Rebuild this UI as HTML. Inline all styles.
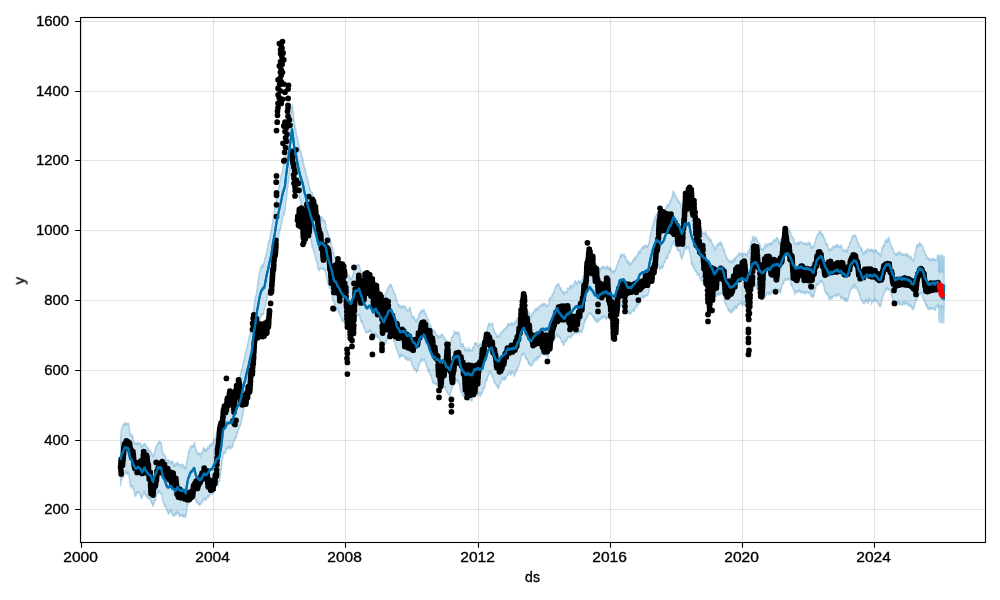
<!DOCTYPE html>
<html lang="en"><head><meta charset="utf-8"><title>Forecast plot</title>
<style>html,body{margin:0;padding:0;background:#fff}body{width:1000px;height:600px;overflow:hidden;font-family:"Liberation Sans",sans-serif}svg{display:block}text{font-family:"Liberation Sans",sans-serif;fill:#000;stroke:#000;stroke-width:0.35px}.tx{opacity:0.999}</style></head><body>
<svg width="1000" height="600" viewBox="0 0 1000 600">
<rect width="1000" height="600" fill="#fff"/>
<g>
<path d="M120.6 436.8 120.8 434.7 121.1 433 121.3 429.6 121.6 429.6 121.8 428.8 122.1 427.8 122.3 427.4 122.6 427.2 122.8 425.8 123.1 425 123.3 424.8 123.6 425.5 123.8 425.7 124.1 423.9 124.3 423 124.6 424 124.8 425.1 125.1 424.1 125.3 422.8 125.6 423.6 125.8 423 126.1 423.7 126.3 424.8 126.6 424.7 126.8 424.1 127.1 424.5 127.3 423.5 127.6 423.4 127.8 423 128.1 423.2 128.3 423.1 128.6 423.3 128.8 424.1 129.1 426.5 129.3 428.7 129.6 431 129.8 434.1 130.1 433.4 130.3 435.1 130.6 434.8 130.8 433.8 131.1 434.4 131.3 435 131.6 436.3 131.8 435.3 132.1 436 132.3 436.4 132.6 435.3 132.8 435.6 133.1 437.8 133.3 439.4 133.6 440.9 133.8 441.6 134.1 442.2 134.3 442.6 134.6 444.2 134.8 443.5 135.1 443.8 135.3 444.1 135.6 442.4 135.8 444 136.1 443 136.3 443 136.6 444.9 136.8 443.3 137.1 442.6 137.3 444 137.6 442.4 137.8 442 138.1 442.6 138.3 442.8 138.6 443 138.8 443 139.1 444.3 139.3 444.9 139.6 445 139.8 444.1 140.1 443.7 140.3 442.6 140.6 444.6 140.8 443.5 141.1 445.6 141.3 447.7 141.6 446.5 141.8 446.3 142.1 446 142.3 446.7 142.6 445.4 142.8 445.2 143.1 444.6 143.3 444.3 143.6 445.3 143.8 443.7 144.1 443.6 144.3 443.5 144.6 444.5 144.8 443.4 145.1 445.1 145.3 445.6 145.6 446.4 145.8 446.4 146.1 445 146.3 445.3 146.6 446.9 146.8 447.3 147.1 447.7 147.3 449.7 147.6 451.3 147.8 450.2 148.1 451.5 148.3 448.8 148.6 447.4 148.8 449.3 149.1 449.5 149.3 450.5 149.6 451.1 149.8 450.9 150.1 451.7 150.3 451.7 150.6 450.4 150.8 451.6 151.1 452.4 151.3 454.6 151.6 453.3 151.8 453.9 152.1 454 152.3 454.6 152.6 456.8 152.8 457 153.1 456.6 153.3 455.9 153.6 455.8 153.8 453.8 154.1 453 154.3 453.8 154.6 453.3 154.8 451.9 155.1 450.4 155.3 449.5 155.6 447.5 155.8 448.4 156.1 448 156.3 447.4 156.6 445.4 156.8 444.6 157.1 445 157.3 444.7 157.6 443.6 157.8 443.6 158.1 443.7 158.3 442.7 158.6 442.3 158.8 441.8 159.1 441.3 159.3 442.8 159.6 443.3 159.8 443.5 160.1 442.3 160.3 441.8 160.6 442.4 160.8 442.4 161.1 442.9 161.3 443 161.6 445.2 161.8 448 162.1 449.9 162.3 451.6 162.6 451.7 162.8 453.1 163.1 453.3 163.3 454.4 163.6 454 163.8 453.9 164.1 454 164.3 455.4 164.6 456.1 164.8 456.6 165.1 455.9 165.3 456.9 165.6 456.2 165.8 458.9 166.1 459.2 166.3 459.9 166.6 460.4 166.8 459.6 167.1 459.6 167.3 461.2 167.6 463.4 167.8 462 168.1 461.5 168.3 461.8 168.6 460.5 168.8 459.7 169.1 460.4 169.3 461.1 169.6 461.1 169.8 462.8 170.1 462.2 170.3 462.3 170.6 463.4 170.8 464.1 171.1 461.4 171.3 461.2 171.6 462.8 171.8 461.5 172.1 461.3 172.3 461.1 172.6 461 172.8 461.3 173.1 462.8 173.3 464.8 173.6 466.3 173.8 465.8 174.1 464 174.3 464.8 174.6 465.2 174.8 466.2 175.1 466.1 175.3 464.2 175.6 465 175.8 463 176.1 463 176.3 463.7 176.6 464 176.8 465 177.1 461.9 177.3 462.5 177.6 463.2 177.8 463 178.1 464 178.3 463.1 178.6 464.3 178.8 465 179.1 464.1 179.3 464.1 179.6 464.6 179.8 464.7 180.1 466.2 180.3 466.1 180.6 467.1 180.8 467.5 181.1 466.6 181.3 465.9 181.6 464.9 181.8 464.4 182.1 464.1 182.3 464.9 182.6 464.3 182.8 464.8 183.1 465.1 183.3 465 183.6 465.3 183.8 467 184.1 468.2 184.3 466.9 184.6 466.8 184.8 466.6 185.1 466.8 185.3 468.6 185.6 469 185.8 468.1 186.1 467.6 186.3 464.6 186.6 462.6 186.8 461.1 187.1 460.5 187.3 458.6 187.6 457.6 187.8 456.8 188.1 455.8 188.3 454.8 188.6 452.8 188.8 450.8 189.1 451.8 189.3 451.5 189.6 449.8 189.8 449 190.1 448.4 190.3 446.6 190.6 447.1 190.8 446.2 191.1 445.9 191.3 446.5 191.6 446.2 191.8 446.5 192.1 446.4 192.3 446 192.6 445.6 192.8 447 193.1 445.8 193.3 446.7 193.6 444.8 193.8 445.2 194.1 444.8 194.3 443.7 194.6 442.2 194.8 445.8 195.1 445.8 195.3 446.4 195.6 448.1 195.8 449.5 196.1 450.9 196.3 451.4 196.6 450.4 196.8 452.1 197.1 451.6 197.3 452.5 197.6 453.4 197.8 454.6 198.1 454.1 198.3 453.9 198.6 454 198.8 452.7 199.1 453.1 199.3 453.2 199.6 453.3 199.8 454.7 200.1 454.8 200.3 456.2 200.6 456.7 200.8 453.7 201.1 453.7 201.3 452.5 201.6 453.1 201.8 452.8 202.1 453.2 202.3 452.7 202.6 452.6 202.8 451.4 203.1 448.6 203.3 448.1 203.6 447.9 203.8 448.1 204.1 447.8 204.3 450.1 204.6 449.7 204.8 450.8 205.1 450 205.3 451.3 205.6 449.5 205.8 450.1 206.1 448.7 206.3 449.5 206.6 451 206.8 448.9 207.1 448.1 207.3 448.5 207.6 448.2 207.8 446.8 208.1 448.1 208.3 447.7 208.6 448.5 208.8 447.8 209.1 446 209.3 445.4 209.6 446.6 209.8 444.6 210.1 444.3 210.3 445 210.6 445.7 210.8 445.8 211.1 443.7 211.3 445.6 211.6 444.6 211.8 444.1 212.1 443.7 212.3 443.2 212.6 442.2 212.8 442.1 213.1 443.4 213.3 441.3 213.6 438.9 213.8 439.9 214.1 440.1 214.3 440.3 214.6 441 214.8 438.9 215.1 438.3 215.3 438 215.6 438.2 215.8 437.9 216.1 435.7 216.3 434 216.6 434.1 216.8 432.8 217.1 434.5 217.3 433.9 217.6 433.6 217.8 432.8 218.1 434.5 218.3 434.2 218.6 433.3 218.8 433.7 219.1 433.2 219.3 433.4 219.6 433 219.8 430.6 220.1 429.2 220.3 427.8 220.6 426.9 220.8 425.2 221.1 423.1 221.3 420.4 221.6 418.6 221.8 415.4 222.1 414.2 222.3 412 222.6 410.2 222.8 407.3 223.1 405.2 223.3 404.3 223.6 405.4 223.8 404.6 224.1 403.9 224.3 401.9 224.6 402.2 224.8 399.1 225.1 401.5 225.3 401.1 225.6 401 225.8 399.4 226.1 398.6 226.3 399.5 226.6 399 226.8 399.1 227.1 399.9 227.3 399.9 227.6 397.5 227.8 397 228.1 396.6 228.3 396.5 228.6 395.3 228.8 394.7 229.1 395.5 229.3 396.1 229.6 397.3 229.8 397.2 230.1 398.7 230.3 396.6 230.6 395.7 230.8 396.7 231.1 396.8 231.3 396.1 231.6 397.3 231.8 398.2 232.1 398.6 232.3 396.7 232.6 395.7 232.8 395 233.1 394.2 233.3 394.2 233.6 392.5 233.8 392.1 234.1 389.1 234.3 389.9 234.6 390.7 234.8 389.3 235.1 389.2 235.3 386.4 235.6 385.7 235.8 383.9 236.1 384.3 236.3 384.6 236.6 382.8 236.8 382.1 237.1 381.7 237.3 384 237.6 382.7 237.8 382 238.1 381.6 238.3 381.1 238.6 380.1 238.8 378.4 239.1 377.8 239.3 379.3 239.6 378.7 239.8 377.5 240.1 375.5 240.3 374.9 240.6 374.1 240.8 372.6 241.1 372.6 241.3 370.8 241.6 369.7 241.8 369.4 242.1 368.3 242.3 367.9 242.6 366 242.8 364.3 243.1 363.6 243.3 362.5 243.6 362.3 243.8 360.9 244.1 359.4 244.3 358.5 244.6 357.8 244.8 355.3 245.1 354.4 245.3 353.3 245.6 353.6 245.8 351.8 246.1 351.8 246.3 349.2 246.6 348.4 246.8 348.5 247.1 347 247.3 346.9 247.6 343.6 247.8 343.2 248.1 342.5 248.3 341.4 248.6 339 248.8 339.2 249.1 336 249.3 336.8 249.6 336.1 249.8 335.8 250.1 334 250.3 331.8 250.6 330.6 250.8 329.4 251.1 329.3 251.3 327.9 251.6 327.2 251.8 326.4 252.1 325.9 252.3 321.1 252.6 318.9 252.8 317.7 253.1 316 253.3 312.9 253.6 310.5 253.8 308.3 254.1 306.5 254.3 304.4 254.6 302.4 254.8 300.1 255.1 298.7 255.3 298.8 255.6 296 255.8 295.5 256.1 295.3 256.4 292.9 256.6 292.8 256.9 289.7 257.1 288.9 257.4 286.4 257.6 283.2 257.9 282.2 258.1 282.4 258.4 279.6 258.6 278.3 258.9 275.6 259.1 273.7 259.4 273.5 259.6 272.3 259.9 271.8 260.1 271.7 260.4 268.9 260.6 267.3 260.9 266.6 261.1 268.1 261.4 266.7 261.6 265.7 261.9 265.8 262.1 267.3 262.4 265.6 262.6 264.8 262.9 264.5 263.1 264.9 263.4 266.3 263.6 263.9 263.9 262.1 264.1 262.2 264.4 261.8 264.6 258.6 264.9 257.8 265.1 258.2 265.4 256.6 265.6 256.1 265.9 255 266.1 254.3 266.4 253.2 266.6 251.9 266.9 251.6 267.1 249.2 267.4 248.1 267.6 247.9 267.9 245.7 268.1 244.2 268.4 242.5 268.6 240.9 268.9 242.2 269.1 241 269.4 241.1 269.6 239.6 269.9 237.7 270.1 235.8 270.4 234.8 270.6 233.4 270.9 233 271.1 230.5 271.4 229.3 271.6 228.1 271.9 226.2 272.1 224.4 272.4 223.5 272.6 222.2 272.9 220.3 273.1 218.6 273.4 216.5 273.6 215.6 273.9 213.8 274.1 210.9 274.4 209.7 274.6 209.3 274.9 208.1 275.1 205.8 275.4 205.4 275.6 204.4 275.9 203.3 276.1 202.8 276.4 200.3 276.6 199.1 276.9 197 277.1 196.4 277.4 195.6 277.6 193.9 277.9 192.6 278.1 189.9 278.4 189.3 278.6 186.9 278.9 188 279.1 187.2 279.4 183.9 279.6 180.5 279.9 181.7 280.1 179.9 280.4 179.7 280.6 177.4 280.9 176.9 281.1 175.4 281.4 175.2 281.6 173.8 281.9 174.1 282.1 171.8 282.4 172 282.6 170.5 282.9 169.6 283.1 166.8 283.4 164.7 283.6 165.6 283.9 163.6 284.1 162.8 284.4 162 284.6 160.6 284.9 160.3 285.1 157.9 285.4 155.5 285.6 155.2 285.9 152.6 286.1 151.6 286.4 150.1 286.6 149.2 286.9 146.8 287.1 142.5 287.4 140.3 287.6 138.4 287.9 138 288.1 136 288.4 133.3 288.6 131.7 288.9 129.3 289.1 127.8 289.4 125.8 289.6 124.6 289.9 122.4 290.1 120.8 290.4 118.2 290.6 116.5 290.9 113.9 291.1 112.2 291.4 110.1 291.6 107.6 291.9 105.2 292.1 104.6 292.4 107.2 292.6 107.1 292.9 111 293.1 110.9 293.4 113.7 293.6 116 293.9 119.1 294.1 121 294.4 122.2 294.6 123.5 294.9 125.7 295.1 128.7 295.4 129.2 295.6 127.9 295.9 129.2 296.1 131.3 296.4 135.7 296.6 135 296.9 135.6 297.1 137.3 297.4 138.5 297.6 138.1 297.9 140.6 298.1 140.4 298.4 141.7 298.6 144.4 298.9 144.1 299.1 145.3 299.4 148.3 299.6 148.7 299.9 148.8 300.1 149.6 300.4 151.6 300.6 150.9 300.9 151.8 301.1 151.9 301.4 152.5 301.6 155.5 301.9 156.3 302.1 156.8 302.4 158.2 302.6 158.3 302.9 158.3 303.1 160.9 303.4 162.7 303.6 162.6 303.9 164.4 304.1 166.6 304.4 167.4 304.6 168.4 304.9 167.8 305.1 169 305.4 168.6 305.6 171.5 305.9 172.5 306.1 174.9 306.4 174.8 306.6 176.7 306.9 176 307.1 177.1 307.4 178.9 307.6 180.1 307.9 180.8 308.1 180.1 308.4 182.8 308.6 184.1 308.9 185.7 309.1 186.9 309.4 186.6 309.6 187.5 309.9 190.5 310.1 189.3 310.4 190.2 310.6 190.2 310.9 192.7 311.1 193.1 311.4 192.6 311.6 193.1 311.9 193.1 312.1 192.7 312.4 192.5 312.6 194.6 312.9 195.8 313.1 198 313.4 198.7 313.6 200.5 313.9 203.3 314.1 202.6 314.4 202.5 314.6 204.9 314.9 207.9 315.1 207 315.4 206.2 315.6 207.5 315.9 208.5 316.1 210.5 316.4 210.4 316.6 211.5 316.9 212.4 317.1 212.3 317.4 212.6 317.6 215 317.9 216.9 318.1 217.1 318.4 219.8 318.6 221.1 318.9 221.8 319.1 222.2 319.4 221.4 319.6 221 319.9 220.7 320.1 219.5 320.4 216.6 320.6 216.8 320.9 216.6 321.1 216.2 321.4 217.7 321.6 216.4 321.9 218.2 322.1 217.8 322.4 217.2 322.6 217.2 322.9 220.2 323.1 221.2 323.4 220.1 323.6 220.9 323.9 222 324.1 220.2 324.4 219.9 324.6 220.8 324.9 220.9 325.1 220.7 325.4 223.3 325.6 224.1 325.9 225.3 326.1 227.9 326.4 228.1 326.6 230.7 326.9 230.5 327.1 230.4 327.4 231.1 327.6 232.6 327.9 233.8 328.1 234.6 328.4 233.6 328.6 233.7 328.9 235 329.1 236.9 329.4 239.1 329.6 237.1 329.9 238.4 330.1 239.2 330.4 240.4 330.6 241.7 330.9 241.8 331.1 241.9 331.4 244.6 331.6 246.3 331.9 246.6 332.1 247.5 332.4 247.9 332.6 247.9 332.9 250.2 333.1 250.8 333.4 251.1 333.6 252.2 333.9 255.3 334.1 256.1 334.4 256.4 334.6 256.5 334.9 257.5 335.1 258.1 335.4 256.7 335.6 257.1 335.9 257.1 336.1 258 336.4 258.5 336.6 257.1 336.9 259.4 337.1 260 337.4 258.7 337.6 260.8 337.9 261.2 338.1 261.9 338.4 262.2 338.6 262.7 338.9 262.6 339.1 261.6 339.4 262.3 339.6 263.7 339.9 264.5 340.1 265.7 340.4 266 340.6 264.3 340.9 266.4 341.1 266.3 341.4 266 341.6 267 341.9 266.8 342.1 268.4 342.4 268.2 342.6 270.8 342.9 270.3 343.1 269.9 343.4 269.6 343.6 268.3 343.9 268.8 344.1 269.3 344.4 270.1 344.6 268.9 344.9 270.4 345.1 272.5 345.4 272.2 345.6 272.5 345.9 273.2 346.1 272.6 346.4 272.7 346.6 274.2 346.9 274.4 347.1 273.3 347.4 272.4 347.6 275.8 347.9 276.1 348.1 274.5 348.4 275.4 348.6 276.5 348.9 276.8 349.1 275.2 349.4 277.9 349.6 278.4 349.9 278.1 350.1 278.8 350.4 278.6 350.6 278.5 350.9 279.7 351.1 277.4 351.4 278.3 351.6 277.8 351.9 277.6 352.1 277.2 352.4 277.3 352.6 276.9 352.9 275.8 353.1 273.7 353.4 273.3 353.6 271.6 353.9 269.9 354.1 269.9 354.4 269.5 354.6 269.7 354.9 266.4 355.1 267 355.4 267.5 355.6 267.2 355.9 268.2 356.1 266.5 356.4 266.6 356.6 265.9 356.9 265.8 357.1 264.7 357.4 264.9 357.6 265.6 357.9 265.4 358.1 265.4 358.4 264.3 358.6 265.8 358.9 264.4 359.1 264.6 359.4 265.9 359.6 266.2 359.9 267.6 360.1 268.2 360.4 270.2 360.6 270.6 360.9 271 361.1 270.5 361.4 271.7 361.6 273.2 361.9 273.8 362.1 273.2 362.4 273.5 362.6 274.2 362.9 275.1 363.1 274.6 363.4 277.6 363.6 277.7 363.9 278.2 364.1 278.3 364.4 279 364.6 281.4 364.9 280.4 365.1 280.6 365.4 280.4 365.6 281.1 365.9 283.6 366.1 283 366.4 282.6 366.6 281 366.9 281.4 367.1 282.1 367.4 281.8 367.6 281.7 367.9 282.6 368.1 282.8 368.4 282.3 368.6 281.4 368.9 280.1 369.1 282.3 369.4 280.5 369.6 281.4 369.9 281.1 370.1 280.7 370.4 282.3 370.6 282 370.9 283.8 371.1 283 371.4 284.1 371.6 285.7 371.9 284.8 372.1 287.2 372.4 287.7 372.6 285.4 372.9 287.6 373.1 289.3 373.4 287.8 373.6 287 373.9 286.9 374.1 284.7 374.4 285.2 374.6 286.1 374.9 285.2 375.1 286 375.4 287.4 375.6 284.2 375.9 282.5 376.1 282.8 376.4 284.5 376.6 285.5 376.9 285 377.1 284.7 377.4 285.2 377.6 287.8 377.9 287 378.1 287.1 378.4 288.8 378.6 288.8 378.9 288.3 379.1 290.5 379.4 290.8 379.6 290.3 379.9 290.5 380.1 292 380.4 291.8 380.6 292.4 380.9 293.5 381.1 294.3 381.4 292.4 381.6 292.7 381.9 293.2 382.1 294.1 382.4 295.3 382.6 296.5 382.9 295.9 383.1 295.1 383.4 296 383.6 296 383.9 298.3 384.1 298 384.4 297 384.6 297 384.9 295.3 385.1 294.3 385.4 293.6 385.6 293.7 385.9 294.1 386.1 293.5 386.4 292.9 386.6 291.4 386.9 290.9 387.1 289.7 387.4 290.1 387.6 288.4 387.9 287.7 388.1 287.4 388.4 287.9 388.6 286.7 388.9 286.4 389.1 285.7 389.4 284.7 389.6 286.3 389.9 286.5 390.1 284.8 390.4 284.2 390.6 285.3 390.9 284.7 391.1 284.2 391.4 286.4 391.6 286.3 391.9 286.5 392.1 287.8 392.4 287.5 392.6 288.2 392.9 289 393.1 290.2 393.4 289.7 393.6 291.3 393.9 291.7 394.1 293.7 394.4 293.8 394.6 293.5 394.9 293.8 395.1 293.7 395.4 295.1 395.6 296.2 395.9 298 396.1 298.7 396.4 298.5 396.6 300.6 396.9 300.7 397.1 301.7 397.4 303.4 397.6 304.4 397.9 303.4 398.1 303.6 398.4 305.2 398.6 306 398.9 306.3 399.1 307 399.4 304.8 399.6 305.6 399.9 305.1 400.1 305.6 400.4 305.9 400.6 306.8 400.9 307.9 401.1 308.1 401.4 307.8 401.6 307 401.9 308 402.1 307.6 402.4 305.5 402.6 305.8 402.9 306.5 403.1 305.5 403.4 306 403.6 307.5 403.9 306.6 404.1 306.4 404.4 306.6 404.6 306 404.9 306.3 405.1 306.1 405.4 306.7 405.6 306.8 405.9 308.5 406.1 308.7 406.4 309.8 406.6 308.6 406.9 309.2 407.1 310.2 407.4 311 407.6 310.4 407.9 310.7 408.1 311 408.4 310.4 408.6 309.9 408.9 310.4 409.1 309 409.4 307.5 409.6 307.8 409.9 308.6 410.1 306.9 410.4 310 410.6 310.9 410.9 312.1 411.1 311.9 411.4 312.8 411.6 315.4 411.9 317.1 412.1 317.2 412.4 316.4 412.6 316.3 412.9 317.7 413.1 316.7 413.4 316.2 413.6 316.8 413.9 318.2 414.1 317.3 414.4 318.3 414.6 319 414.9 319.3 415.1 319.4 415.4 320.6 415.6 321.1 415.9 319.7 416.1 321.8 416.4 322.1 416.6 322.3 416.9 321.9 417.1 321.5 417.4 318.6 417.6 318.7 417.9 319.1 418.1 319.1 418.4 317.5 418.6 314.8 418.9 314.1 419.1 314.1 419.4 315.2 419.6 312.9 419.9 312.7 420.1 313 420.4 313.4 420.6 312.8 420.9 309.9 421.1 311.4 421.4 311.7 421.6 312.1 421.9 310.9 422.1 310.6 422.4 312.1 422.6 311.5 422.9 311.1 423.1 310.1 423.4 311.3 423.6 309.3 423.9 309.1 424.1 310.1 424.4 310.7 424.6 312.2 424.9 312.8 425.1 314.4 425.4 314 425.6 314.1 425.9 314.8 426.1 313.6 426.4 316.1 426.6 315.6 426.9 317.5 427.1 319.1 427.4 319.9 427.6 319.9 427.9 319.5 428.1 318.2 428.4 320.2 428.6 320.9 428.9 323.3 429.1 323.2 429.4 324.2 429.6 324.1 429.9 325.2 430.1 325.3 430.4 325.8 430.6 324.7 430.9 325.5 431.1 326.7 431.4 328.9 431.6 329.4 431.9 328.7 432.1 331 432.4 331.5 432.6 332.7 432.9 331.8 433.1 329.2 433.4 330 433.6 330.2 433.9 331.6 434.1 330.7 434.4 330.9 434.6 330.7 434.9 331.9 435.1 331.7 435.4 333.8 435.6 334.4 435.9 334.9 436.1 334.2 436.4 334.3 436.6 335 436.9 333.9 437.1 335.3 437.4 335 437.6 336.2 437.9 337.9 438.1 338.3 438.4 336.2 438.6 337.3 438.9 336.6 439.1 336.2 439.4 336.3 439.6 335.6 439.9 336.6 440.1 336.2 440.4 337.5 440.6 337.4 440.9 334.6 441.1 334.4 441.4 334.3 441.6 334.4 441.9 334.4 442.1 335.1 442.4 335.1 442.6 334.2 442.9 335 443.1 336 443.4 336.2 443.6 337.5 443.9 337.8 444.1 337.2 444.4 337.2 444.6 337.8 444.9 338.8 445.1 339.2 445.4 340.4 445.6 341.4 445.9 340.2 446.1 339.5 446.4 340.4 446.6 341.5 446.9 342.8 447.1 343.3 447.4 343.7 447.6 342.6 447.9 343.3 448.1 342.8 448.4 343.7 448.6 344.7 448.9 343.9 449.1 344 449.4 346.6 449.6 345.2 449.9 344.8 450.1 343.7 450.4 342.1 450.6 343 450.9 341.6 451.1 340.6 451.4 339.4 451.6 336.6 451.9 337.9 452.1 337.1 452.4 336.7 452.6 337.4 452.9 336 453.1 335.4 453.4 335 453.6 335.7 453.9 333.6 454.1 332.9 454.4 331 454.6 331.7 454.9 332.6 455.1 331.9 455.4 333.6 455.6 333.5 455.9 334.1 456.1 332.9 456.4 333.9 456.6 332.4 456.9 332.4 457.1 332.2 457.4 331.6 457.6 333.3 457.9 333.9 458.1 332.5 458.4 333 458.6 332.7 458.9 332.7 459.1 333.7 459.4 334.2 459.6 335.8 459.9 337.4 460.1 338 460.4 339.1 460.6 341.6 460.9 342.8 461.1 345.8 461.4 347.1 461.6 345.3 461.9 345.5 462.1 343.6 462.4 344 462.6 344.1 462.9 344.5 463.1 343.6 463.4 345.5 463.6 346.5 463.9 346.4 464.1 347.2 464.4 348.7 464.6 350.3 464.9 348.7 465.1 350.5 465.4 348.4 465.6 348 465.9 348.2 466.1 350 466.4 350.2 466.6 350.3 466.9 351.2 467.1 350.5 467.4 349.5 467.6 350.7 467.9 349.8 468.1 348.4 468.4 347.2 468.6 348.2 468.9 350.4 469.1 350.5 469.4 350.1 469.6 350.9 469.9 349 470.1 349.7 470.4 349.2 470.6 350.7 470.9 349.6 471.1 350.5 471.4 350.5 471.6 350.4 471.9 350.9 472.1 350.3 472.4 351 472.6 349.6 472.9 346.9 473.1 348.4 473.4 348.9 473.6 348.2 473.9 348.4 474.1 347.7 474.4 345.7 474.6 343.2 474.9 342.6 475.1 342.9 475.4 343.9 475.6 342.8 475.9 342.6 476.1 344.7 476.4 343.8 476.6 343.3 476.9 342.8 477.1 344.9 477.4 345.3 477.6 345.6 477.9 346.5 478.1 346.3 478.4 346.6 478.6 345.8 478.9 345.9 479.1 345.7 479.4 345.7 479.6 343.9 479.9 343.8 480.1 343.7 480.4 343.3 480.6 343.7 480.9 345.5 481.1 345.8 481.4 345.1 481.6 345 481.9 345.9 482.1 343.7 482.4 343.4 482.6 344 482.9 344.2 483.1 343.1 483.4 341.8 483.6 338.7 483.9 337.6 484.1 337.3 484.4 337.1 484.6 336.7 484.9 333.7 485.1 333.4 485.4 333.6 485.6 332.5 485.9 332.1 486.1 332.2 486.4 331.7 486.6 331.1 486.9 330.9 487.1 330.9 487.4 329.2 487.6 327.4 487.9 326.3 488.1 325.6 488.4 325.4 488.6 323.6 488.9 322.9 489.1 323 489.4 324.7 489.6 324.8 489.9 324.2 490.1 324.8 490.4 324.4 490.6 324.2 490.9 324.8 491.1 324.5 491.4 324.1 491.6 324.3 491.9 323.3 492.1 323.7 492.4 322.7 492.6 324.2 492.9 327.2 493.1 327.6 493.4 328.6 493.6 329.2 493.9 329.5 494.1 331.2 494.4 331.6 494.6 333 494.9 332.2 495.1 332.7 495.4 332.8 495.6 332.9 495.9 334.5 496.1 334 496.4 333.9 496.6 336.9 496.9 336.4 497.1 336.2 497.4 336.8 497.6 336 497.9 337 498.1 336 498.4 335.6 498.6 335.1 498.9 336.4 499.1 336.3 499.4 337.1 499.6 337.2 499.9 335 500.1 334.7 500.4 333.4 500.6 332.4 500.9 333.3 501.1 333.9 501.4 333 501.6 332.7 501.9 332.4 502.1 332.2 502.4 332 502.6 330.6 502.9 331.2 503.1 330.3 503.4 329.3 503.6 329.6 503.9 330.1 504.1 330.7 504.4 330.4 504.6 330 504.9 328.7 505.1 328.8 505.4 328.5 505.6 328.2 505.9 327 506.1 328.3 506.4 328.1 506.6 327.7 506.9 326.8 507.1 325.8 507.4 326.1 507.6 324.1 507.9 323.6 508.1 323.5 508.4 324.3 508.6 324 508.9 325.4 509.1 323.3 509.4 325.1 509.6 325 509.9 325.5 510.1 324.4 510.4 325.3 510.6 324.5 510.9 324.6 511.1 323.1 511.4 324.1 511.6 324.2 511.9 322.5 512.1 323.1 512.4 323.2 512.6 324.2 512.9 323.4 513.1 323.7 513.4 324.8 513.6 323.4 513.9 325.1 514.1 324.5 514.4 323.7 514.6 322.2 514.9 321 515.1 322.7 515.4 322.3 515.6 321.9 515.9 323.2 516.1 323.3 516.4 322.4 516.6 320.2 516.9 318.2 517.1 319.5 517.4 319 517.6 318.3 517.9 319.6 518.1 317.9 518.4 317.4 518.6 318.4 518.9 317.4 519.1 315.3 519.4 313.5 519.6 314 519.9 311.7 520.1 311.9 520.4 312.4 520.6 310.7 520.9 310.2 521.1 308.9 521.4 309.1 521.6 307.7 521.9 305.7 522.1 305.4 522.4 305.2 522.6 304.2 522.9 303.9 523.1 302.8 523.4 302.4 523.6 303.4 523.9 301.6 524.1 302.7 524.4 303.8 524.6 304.1 524.9 306.3 525.1 307.3 525.4 306.9 525.6 307.7 525.9 309.1 526.1 307.9 526.4 309.2 526.6 309.8 526.9 311 527.1 313.3 527.4 312.2 527.6 312 527.9 311.3 528.1 312.3 528.4 313.4 528.6 311.4 528.9 314 529.1 315.7 529.4 312.9 529.6 312.6 529.9 314.3 530.1 315.1 530.4 316.7 530.6 316.4 530.9 317.8 531.1 316 531.4 316.3 531.6 315.4 531.9 314.8 532.1 313 532.4 313.1 532.6 314.6 532.9 313.4 533.1 313 533.4 312.8 533.6 311.6 533.9 311.9 534.1 312.1 534.4 311.3 534.6 309.2 534.9 311 535.1 310.5 535.4 310.2 535.6 309.7 535.9 309.1 536.1 307.6 536.4 308.2 536.6 308.6 536.9 309.6 537.1 310.6 537.4 308.9 537.6 310 537.9 309.1 538.1 309 538.4 307.5 538.6 307.7 538.9 306.6 539.1 307.4 539.4 305.9 539.6 306.2 539.9 305.8 540.1 306.2 540.4 306.2 540.6 306 540.9 305.1 541.1 305.8 541.4 305.8 541.6 304.5 541.9 305 542.1 304 542.4 304.3 542.6 304.3 542.9 304.2 543.1 305.1 543.4 303.2 543.6 304.9 543.9 303.1 544.1 304.9 544.4 305.3 544.6 303.6 544.9 304.4 545.1 304.2 545.4 303.4 545.6 305.1 545.9 305.9 546.1 305.8 546.4 306.8 546.6 306.1 546.9 305.3 547.1 306.3 547.4 305 547.6 305.7 547.9 306.4 548.1 305.7 548.4 304.7 548.6 304.2 548.9 303.4 549.1 301.8 549.4 298 549.6 298.4 549.9 297.5 550.1 298.9 550.4 298.1 550.6 298 550.9 298.1 551.1 298.1 551.4 296 551.6 297.4 551.9 296.7 552.1 295.9 552.4 293.7 552.6 295 552.9 294.2 553.1 293.9 553.4 292.2 553.6 293 553.9 292.8 554.1 291 554.4 291.7 554.6 289 554.9 289.1 555.1 288.6 555.4 288.2 555.6 286.4 555.9 285.5 556.1 286.1 556.4 286.5 556.6 285.7 556.9 285 557.1 284.3 557.4 285.5 557.6 285 557.9 284.8 558.1 283.7 558.4 283.4 558.6 284 558.9 283.8 559.1 285.3 559.4 286.5 559.6 286.7 559.9 287.6 560.1 288.5 560.4 287.6 560.6 289.4 560.9 287.4 561.1 290.7 561.4 289.5 561.6 290.4 561.9 290.6 562.1 291.5 562.4 291.1 562.6 292.2 562.9 291 563.1 292.6 563.4 292.7 563.6 293.4 563.9 294.6 564.1 293 564.4 292.4 564.6 291.8 564.9 291.9 565.1 292.1 565.4 292.5 565.6 292.2 565.9 291.5 566.1 291.6 566.4 292 566.6 292 566.9 292.9 567.1 290.8 567.4 290.2 567.6 288.4 567.9 287.8 568.1 288.6 568.4 289.7 568.6 288.6 568.9 288.8 569.1 288.5 569.4 288.7 569.6 288.5 569.9 287.7 570.1 285.5 570.4 285 570.6 286.4 570.9 286.6 571.1 288.7 571.4 287.9 571.6 288.2 571.9 286.4 572.1 285.1 572.4 285.6 572.6 287 572.9 286.4 573.1 285.3 573.4 285.2 573.6 285.2 573.9 284.8 574.1 284.1 574.4 282.5 574.6 281.4 574.9 281.2 575.1 281.4 575.4 280.6 575.6 282.8 575.9 283 576.1 282.2 576.4 282.9 576.6 284.8 576.9 283.8 577.1 283.3 577.4 283.8 577.6 281.8 577.9 281.5 578.1 281.1 578.4 282.3 578.6 280.7 578.9 281.7 579.1 281.5 579.4 281.6 579.6 281.3 579.9 283.1 580.1 281.9 580.4 281 580.6 281.8 580.9 281.5 581.1 282.3 581.4 282.2 581.6 282.2 581.9 282.3 582.1 280.3 582.4 278.3 582.6 280.4 582.9 278.2 583.1 278.2 583.4 276.2 583.6 275.7 583.9 274.8 584.1 275.5 584.4 273.9 584.6 271.5 584.9 269.8 585.1 270.2 585.4 270.8 585.6 271.9 585.9 272.3 586.1 269.1 586.4 268.3 586.6 266.5 586.9 266.7 587.1 267 587.4 264.6 587.6 265.4 587.9 265.4 588.1 264.4 588.4 263.2 588.6 264.3 588.9 263.1 589.1 261.6 589.4 262.3 589.6 263.6 589.9 264.1 590.1 262.1 590.4 261.7 590.6 262.4 590.9 263.4 591.1 264.1 591.4 263.3 591.6 264.9 591.9 265.5 592.1 264.2 592.4 264.3 592.6 265.3 592.9 264.7 593.1 266 593.4 267 593.6 267.2 593.9 268.5 594.1 270.4 594.4 269.5 594.6 270.2 594.9 269.9 595.1 271.6 595.4 272.3 595.6 271.6 595.9 270.8 596.1 271.6 596.4 271.4 596.6 270.3 596.9 270 597.1 270.7 597.4 273.2 597.6 273.7 597.9 274.3 598.1 274.2 598.4 274.2 598.6 274.3 598.9 271.8 599.1 271.9 599.4 271.9 599.6 271.6 599.9 271.3 600.1 268.3 600.4 269.1 600.6 267.9 600.9 269.3 601.1 268.6 601.4 268.3 601.6 268.3 601.9 266.3 602.1 266.9 602.4 266.3 602.6 267.9 602.9 267.4 603.1 266.6 603.4 268.2 603.6 267.7 603.9 266.8 604.1 267.1 604.4 267.1 604.6 267.5 604.9 266.5 605.1 267.9 605.4 267.9 605.6 269.1 605.9 268.7 606.1 267.2 606.4 268.3 606.6 267.8 606.9 267.9 607.1 265.7 607.4 265.6 607.6 268 607.9 269.1 608.1 267.2 608.4 268.1 608.6 268.7 608.9 269.8 609.1 268.4 609.4 267.1 609.6 268.3 609.9 268.2 610.1 268.2 610.4 268 610.6 269.9 610.9 269.1 611.1 270.4 611.4 270.9 611.6 270.1 611.9 271.1 612.1 272.1 612.4 271.8 612.6 271.2 612.9 271.9 613.1 270.9 613.4 271.6 613.6 273 613.9 271.2 614.1 269.9 614.4 271.5 614.6 271 614.9 271.2 615.1 271.5 615.4 270.2 615.6 269.7 615.9 268.1 616.1 267.1 616.4 266.6 616.6 266.5 616.9 265.1 617.1 264.7 617.4 264.2 617.6 263.5 617.9 262.1 618.1 262.4 618.4 260.6 618.6 261 618.9 261 619.1 260.6 619.4 258.9 619.6 259.1 619.9 258.6 620.1 256.6 620.4 256 620.6 254.6 620.9 255.1 621.1 256.2 621.4 256.6 621.6 255 621.9 254.1 622.1 254.4 622.4 254.5 622.6 255.4 622.9 254.9 623.1 255.9 623.4 254.9 623.6 255.8 623.9 254 624.1 254.1 624.4 255 624.6 256.5 624.9 257.3 625.1 256.8 625.4 256.3 625.6 257.5 625.9 258.3 626.1 258.7 626.4 259.5 626.6 259 626.9 260.6 627.1 262.1 627.4 261.2 627.6 260.8 627.9 262.5 628.1 263.5 628.4 262.4 628.6 262 628.9 260.9 629.1 262.4 629.4 263.1 629.6 263.4 629.9 265.6 630.1 264.6 630.4 263.8 630.6 263.6 630.9 263 631.1 263.7 631.4 262.8 631.6 262.5 631.9 264.1 632.1 262.4 632.4 260.7 632.6 260.9 632.9 260.2 633.1 259.7 633.4 260.1 633.6 260.8 633.9 258.9 634.1 258.9 634.4 257 634.6 258.5 634.9 257.4 635.1 258.2 635.4 259.5 635.6 259.6 635.9 258.7 636.1 255.9 636.4 257.7 636.6 256.4 636.9 256.7 637.1 255.5 637.4 254.9 637.6 256.1 637.9 253.7 638.1 252.5 638.4 252.4 638.6 253.4 638.9 250.5 639.1 252 639.4 251.1 639.6 251.4 639.9 253.1 640.1 251.9 640.4 251.5 640.6 251.4 640.9 249.5 641.1 248.9 641.4 248.4 641.6 248.4 641.9 247.9 642.1 247.4 642.4 247 642.6 248 642.9 246.7 643.1 247.2 643.4 248.6 643.6 246.8 643.9 245.5 644.1 247 644.4 246.4 644.6 246.1 644.9 247.2 645.1 247.4 645.4 246.5 645.6 246.2 645.9 245 646.1 245 646.4 245.4 646.6 246.1 646.9 246.4 647.1 247.6 647.4 246.5 647.6 246.8 647.9 246.2 648.1 244.7 648.4 244.9 648.6 244.5 648.9 243.6 649.1 242.4 649.4 240.7 649.6 238.3 649.9 236.9 650.1 236 650.4 235.3 650.6 234.4 650.9 232.9 651.1 231.9 651.4 231.9 651.6 230.4 651.9 228.6 652.1 226.4 652.4 226.1 652.6 226.1 652.9 224.8 653.1 225.4 653.4 223.3 653.6 222.1 653.9 221.4 654.1 219.7 654.4 220.6 654.6 219.3 654.9 218 655.1 216.4 655.4 217.8 655.6 218.6 655.9 216.7 656.1 215.1 656.4 214.8 656.6 214.8 656.9 214.1 657.1 214.7 657.4 214.2 657.6 216.9 657.9 217 658.1 217.8 658.4 217.1 658.6 218.2 658.9 219.5 659.1 218.3 659.4 218.6 659.6 219.7 659.9 219.9 660.1 218.9 660.4 218.4 660.6 219 660.9 219 661.1 218.1 661.4 218.4 661.6 216.2 661.9 216.9 662.1 218.1 662.4 218.6 662.6 217.6 662.9 217.6 663.1 217.3 663.4 216.4 663.6 215 663.9 213.4 664.1 212.9 664.4 211.8 664.6 210.1 664.9 211.9 665.1 210.1 665.4 209.6 665.6 209 665.9 207.4 666.1 208.1 666.4 206.3 666.6 208.2 666.9 206.1 667.1 205.2 667.4 205.1 667.6 204.9 667.9 204.6 668.1 205.3 668.4 205.7 668.6 206.6 668.9 203.8 669.1 204.1 669.4 203.8 669.6 202.5 669.9 200.6 670.1 202.8 670.4 202.6 670.6 199.6 670.9 200.7 671.1 200.1 671.4 199.2 671.6 198.9 671.9 197.2 672.1 196.3 672.4 196.5 672.6 194.4 672.9 192.8 673.1 191.3 673.4 192.4 673.6 191 673.9 191.7 674.1 192.2 674.4 193.6 674.6 194.4 674.9 193.9 675.1 195.9 675.4 196.3 675.6 196.6 675.9 196.3 676.1 196.4 676.4 196.7 676.6 197.4 676.9 198.3 677.1 199 677.4 198.9 677.6 199.2 677.9 200.3 678.1 201.5 678.4 202.4 678.6 201.9 678.9 200.7 679.1 201.6 679.4 202.2 679.6 202.7 679.9 203.5 680.1 203.4 680.4 204.3 680.6 203 680.9 206.3 681.1 206.8 681.4 207.2 681.6 208.4 681.9 208.8 682.1 208.2 682.4 208.5 682.6 207.5 682.9 205.9 683.1 205.9 683.4 205.3 683.6 204.6 683.9 203.2 684.1 203.3 684.4 201.1 684.6 201.2 684.9 201.4 685.1 199.3 685.4 199.5 685.6 197.7 685.9 198.4 686.1 197.2 686.4 196.9 686.6 198.1 686.9 199.6 687.1 199.9 687.4 199.4 687.6 198.6 687.9 198.9 688.1 201.2 688.4 201.6 688.6 199.3 688.9 198.6 689.1 198 689.4 200.4 689.6 201.5 689.9 201.5 690.1 203.2 690.4 204.5 690.6 205.1 690.9 206.7 691.1 209.1 691.4 209.4 691.6 210.6 691.9 210.8 692.1 212.1 692.4 214.5 692.6 215.4 692.9 215 693.1 215.1 693.4 217.1 693.6 217.2 693.9 217.2 694.1 219 694.4 218.8 694.6 218.7 694.9 219.9 695.1 219.3 695.4 219.8 695.6 220 695.9 221.2 696.1 221.8 696.4 224.1 696.6 224.5 696.9 224.4 697.1 225 697.4 224.8 697.6 225.3 697.9 226.1 698.1 226.6 698.4 228 698.6 228.1 698.9 227.3 699.1 227.8 699.4 227 699.6 229.5 699.9 227.5 700.1 228.1 700.4 229.2 700.6 228.6 700.9 228.9 701.1 230.5 701.4 229.4 701.6 231 701.9 230.9 702.1 230.9 702.4 233.1 702.6 233.4 702.9 233.4 703.1 232.9 703.4 233 703.6 232.9 703.9 234.7 704.1 234.3 704.4 233.3 704.6 233.1 704.9 233.8 705.1 233 705.4 232.9 705.6 232.2 705.9 231.2 706.1 234.9 706.4 234.8 706.6 236.6 706.9 236.6 707.1 236.5 707.4 235.5 707.6 236 707.9 236.6 708.1 236.2 708.4 237.6 708.6 239 708.9 239.3 709.1 239.3 709.4 237.8 709.6 241.2 709.9 241.4 710.1 239.9 710.4 239.3 710.6 239.6 710.9 239.6 711.1 240.8 711.4 241 711.6 242.3 711.9 242.7 712.1 243.4 712.4 243.2 712.6 244.6 712.9 245.8 713.1 245.7 713.4 245.1 713.6 246.7 713.9 246.1 714.1 247 714.4 248.9 714.6 250.5 714.9 249.4 715.1 249.2 715.4 249.7 715.6 247.7 715.9 246.9 716.1 246.9 716.4 247.7 716.6 245.6 716.9 244.3 717.1 245.4 717.4 246.2 717.6 245 717.9 244.8 718.1 245.5 718.4 244.7 718.6 242.7 718.9 243.4 719.1 244.4 719.4 242.8 719.6 244.2 719.9 243.5 720.1 241.7 720.4 242.6 720.6 241.6 720.9 243.7 721.1 244.1 721.4 245.5 721.6 243.1 721.9 243.5 722.1 244.9 722.4 245.5 722.6 245.7 722.9 246.3 723.1 247.4 723.4 248.7 723.6 250.7 723.9 248.9 724.1 249.1 724.4 250 724.6 251.7 724.9 253.3 725.1 253.7 725.4 254.2 725.6 255.4 725.9 256.7 726.1 255.8 726.4 256 726.6 256.7 726.9 259.4 727.1 258.3 727.4 258.8 727.6 259 727.9 258.9 728.1 260.3 728.4 260.3 728.6 260.2 728.9 260.8 729.1 261.5 729.4 260.9 729.6 260.6 729.9 262.1 730.1 261.5 730.4 262.6 730.6 262.2 730.9 261.4 731.1 260.8 731.4 260 731.6 261.8 731.9 262.8 732.1 262.3 732.4 261.1 732.6 260.9 732.9 261.2 733.1 262.3 733.4 261.1 733.6 259.3 733.9 260 734.1 259.7 734.4 259 734.6 257.6 734.9 258.9 735.1 260.2 735.4 258.6 735.6 257.2 735.9 257.1 736.1 257.1 736.4 257.8 736.6 257.6 736.9 255.7 737.1 256.4 737.4 256.6 737.6 255.8 737.9 256 738.1 254.5 738.4 254.4 738.6 253.3 738.9 253.8 739.1 254.6 739.4 252.5 739.6 253 739.9 253.7 740.1 253.7 740.4 255.1 740.6 254.3 740.9 256 741.1 255 741.4 253.3 741.6 253.4 741.9 252.9 742.1 254.4 742.4 255.7 742.6 256.5 742.9 256.1 743.1 255.1 743.4 254.2 743.6 253.2 743.9 254.4 744.1 253.4 744.4 253.7 744.6 254.4 744.9 255.1 745.1 253.8 745.4 253.3 745.6 253.1 745.9 254.9 746.1 254.1 746.4 253.9 746.6 255 746.9 255.3 747.1 256.1 747.4 254.6 747.6 254.3 747.9 251.4 748.1 251.7 748.4 251.8 748.6 251.7 748.9 250 749.1 250.6 749.4 250.8 749.6 249.1 749.9 247.9 750.1 246.5 750.4 245.4 750.6 244.8 750.9 242.9 751.1 241.4 751.4 241.3 751.6 240.7 751.9 241.3 752.1 240.3 752.4 238.7 752.6 237 752.9 237.5 753.1 237 753.4 236 753.6 238.8 753.9 236.8 754.1 238.9 754.4 241.3 754.6 239.8 754.9 238.4 755.1 238.7 755.4 237.3 755.6 237.4 755.9 238 756.1 236.7 756.4 239 756.6 239.2 756.9 239.8 757.1 241.3 757.4 239.9 757.6 239.6 757.9 241.1 758.1 242.2 758.4 242.5 758.6 243.1 758.9 243.5 759.1 243.3 759.4 243 759.6 243.5 759.9 244.7 760.1 245.8 760.4 245.1 760.6 247.5 760.9 249.6 761.1 249 761.4 247.9 761.6 248 761.9 249.2 762.1 248.9 762.4 250.2 762.6 248.9 762.9 249.1 763.1 248.7 763.4 250 763.6 248.9 763.9 248.3 764.1 246.6 764.4 246.1 764.6 244.8 764.9 248.1 765.1 246.9 765.4 245.9 765.6 245.4 765.9 245.4 766.1 245.5 766.4 243.5 766.6 245.2 766.9 245 767.1 244.7 767.4 246.3 767.6 245.7 767.9 244.4 768.1 243.7 768.4 244.7 768.6 244.6 768.9 244.6 769.1 243.3 769.4 243.9 769.6 243.4 769.9 243.1 770.1 244.6 770.4 244.4 770.6 243.6 770.9 244.2 771.1 245.2 771.4 242.5 771.6 243.2 771.9 242.8 772.1 242.1 772.4 243 772.6 242.8 772.9 241.4 773.1 242.1 773.4 241 773.6 240.5 773.9 239.2 774.1 239.6 774.4 240.4 774.6 239.9 774.9 240 775.1 241.1 775.4 240.5 775.6 239.6 775.9 241.3 776.1 240 776.4 237.7 776.6 237.4 776.9 238.2 777.1 237.8 777.4 237.8 777.6 238.4 777.9 239 778.1 239.4 778.4 239.8 778.6 241.1 778.9 243.9 779.1 243.6 779.4 243 779.6 241.5 779.9 241.4 780.1 240.3 780.4 240.7 780.6 239.7 780.9 240.4 781.1 241.4 781.4 240.5 781.6 241.3 781.9 237.9 782.1 237.4 782.4 235.9 782.6 235 782.9 233 783.1 232.6 783.4 232.4 783.6 231.5 783.9 232.5 784.1 232.5 784.4 232.7 784.6 231.1 784.9 229.9 785.1 228.6 785.4 229.5 785.6 230.2 785.9 229.7 786.1 228.9 786.4 229.1 786.6 229.6 786.9 229.9 787.1 229.4 787.4 230.3 787.6 231 787.9 229.4 788.1 229.6 788.4 229.5 788.6 228.2 788.9 228.2 789.1 229.2 789.4 231.1 789.6 230.7 789.9 231.1 790.1 231.8 790.4 232.2 790.6 231.9 790.9 234 791.1 234.6 791.4 235.8 791.6 236.9 791.9 236.9 792.1 236.6 792.4 236.8 792.6 237.3 792.9 237.5 793.1 238.3 793.4 237.9 793.6 238.8 793.9 239.3 794.1 240.6 794.4 241.8 794.6 243.8 794.9 244.6 795.1 244.8 795.4 244.5 795.6 244.3 795.9 244.3 796.1 243.8 796.4 243.6 796.6 242.7 796.9 243.3 797.1 242.4 797.4 242.3 797.6 242.1 797.9 244.8 798.1 244 798.4 244.4 798.6 242.5 798.9 243.1 799.1 242.6 799.4 243.4 799.6 242.6 799.9 241.4 800.1 242.5 800.4 242.6 800.6 241.4 800.9 241.9 801.1 241.5 801.4 242.8 801.6 243 801.9 243.4 802.1 242.5 802.4 244.1 802.6 243.3 802.9 243.7 803.1 243.4 803.4 243.6 803.6 242.6 803.9 243.3 804.1 243.9 804.4 242.7 804.6 244.2 804.9 243.1 805.1 242.9 805.4 242.8 805.6 244.3 805.9 243.6 806.1 243.3 806.4 243.9 806.6 244 806.9 245 807.1 244.1 807.4 243.4 807.6 242.9 807.9 242.6 808.1 243.8 808.4 244.3 808.6 243.8 808.9 243.7 809.1 241.8 809.4 243.7 809.6 244.6 809.9 242.8 810.1 243.3 810.4 244.1 810.6 246.1 810.9 246.2 811.1 247.2 811.4 248.2 811.6 248 811.9 246.6 812.1 245.5 812.4 245.9 812.6 247.3 812.9 247.8 813.1 246.6 813.4 247.9 813.6 246.8 813.9 245.8 814.1 246.2 814.4 245.1 814.6 243.6 814.9 242.1 815.1 241.6 815.4 241.1 815.6 240 815.9 238.5 816.1 238.3 816.4 238.2 816.6 236.1 816.9 236.5 817.1 235.4 817.4 234.9 817.6 235.5 817.9 233.7 818.1 233.4 818.4 234.8 818.6 235.1 818.9 233.2 819.1 231.7 819.4 233.2 819.6 233 819.9 233 820.1 231.3 820.4 231.9 820.6 230.7 820.9 231.2 821.1 233.4 821.4 234.1 821.6 234.7 821.9 233.7 822.1 233.8 822.4 233.7 822.6 236.1 822.9 235.5 823.1 234.7 823.4 235.5 823.6 237.6 823.9 237.7 824.1 238.7 824.4 238.1 824.6 238.9 824.9 239 825.1 239.5 825.4 240.7 825.6 242.3 825.9 244.6 826.1 244.9 826.4 243.8 826.6 243.4 826.9 243 827.1 244.3 827.4 244.4 827.6 245.4 827.9 245.4 828.1 248 828.4 248 828.6 249.1 828.9 249.1 829.1 251.3 829.4 249 829.6 249.4 829.9 250.4 830.1 249.6 830.4 250 830.6 249.3 830.9 249.9 831.1 249.1 831.4 250.3 831.6 247.8 831.9 248.6 832.1 247.8 832.4 247.4 832.6 248 832.9 247.2 833.1 246.6 833.4 247.4 833.6 246.2 833.9 246.3 834.1 247.5 834.4 246.4 834.6 247.5 834.9 246 835.1 246.4 835.4 246.3 835.6 244.9 835.9 246 836.1 244.6 836.4 246.3 836.6 247.3 836.9 245.8 837.1 245.7 837.4 245.5 837.6 244.4 837.9 244.3 838.1 245 838.4 245.6 838.6 247 838.9 246.3 839.1 245.9 839.4 246.9 839.6 247.6 839.9 247.1 840.1 247.3 840.4 246.7 840.6 246.9 840.9 245.2 841.1 244.7 841.4 246.9 841.6 246.8 841.9 246.4 842.1 247.7 842.4 250 842.6 250.3 842.9 250 843.1 249.6 843.4 251.1 843.6 251.9 843.9 251.1 844.1 250.2 844.4 250.3 844.6 250.8 844.9 250.6 845.1 250.3 845.4 250.1 845.6 249.4 845.9 250.1 846.1 251.2 846.4 250.4 846.6 250.5 846.9 252.3 847.1 251.3 847.4 251.1 847.6 249.2 847.9 247 848.1 247.5 848.4 247.6 848.6 246.9 848.9 245.9 849.1 246.3 849.4 244.5 849.6 242.7 849.9 242.2 850.1 242.5 850.4 241.9 850.6 242 850.9 242.3 851.1 240.2 851.4 239.4 851.6 238.6 851.9 238.8 852.1 236.6 852.4 237.6 852.6 235.8 852.9 236.2 853.1 235.7 853.4 235.5 853.6 236.3 853.9 235.1 854.1 236.1 854.4 235.9 854.6 234.8 854.9 236.3 855.1 235.1 855.4 236.1 855.6 235.8 855.9 235.6 856.1 237.4 856.4 238 856.6 238.2 856.9 239.6 857.1 239.5 857.4 241.7 857.6 241.2 857.9 242.3 858.1 242.3 858.4 243.7 858.6 243.5 858.9 244.4 859.1 245.8 859.4 245 859.6 245.7 859.9 246.9 860.1 247 860.4 247.4 860.6 248.8 860.9 250 861.1 248.7 861.4 248.8 861.6 247.5 861.9 249.4 862.1 251.2 862.4 251.2 862.6 251 862.9 252.7 863.1 252.7 863.4 254.6 863.6 255.1 863.9 252.2 864.1 252.9 864.4 253.1 864.6 253.2 864.9 252.4 865.1 250.7 865.4 251 865.6 250.5 865.9 252.2 866.1 252 866.4 252.4 866.6 250.4 866.9 250.1 867.1 249.8 867.4 249.2 867.6 249.2 867.9 248.3 868.1 249.3 868.4 248.9 868.6 249.7 868.9 250.3 869.1 250.2 869.4 249.7 869.6 250.8 869.9 251.4 870.1 250.6 870.4 251.6 870.6 248.9 870.9 249.9 871.1 250.7 871.4 250.7 871.6 249.2 871.9 249.8 872.1 251 872.4 251 872.6 249.6 872.9 250 873.1 251.7 873.4 252.2 873.6 252.7 873.9 251.5 874.1 251.6 874.4 250.9 874.6 250.4 874.9 249.3 875.1 249.7 875.4 251.1 875.6 251.2 875.9 249.5 876.1 250.9 876.4 250.3 876.6 251.5 876.9 251.1 877.1 253.2 877.4 252.8 877.6 253.8 877.9 252.3 878.1 252.7 878.4 253.4 878.6 252.5 878.9 252.9 879.1 253.3 879.4 254.2 879.6 254.8 879.9 253.8 880.1 255.9 880.4 256.7 880.6 255.1 880.9 255.1 881.1 253.6 881.4 252 881.6 250 881.9 247.4 882.1 248.1 882.4 248.8 882.6 248.3 882.9 247.6 883.1 248.2 883.4 245.3 883.6 245.5 883.9 246.6 884.1 245 884.4 245.8 884.6 244 884.9 242.5 885.1 240.3 885.4 241.1 885.6 241.6 885.9 241.4 886.1 240.9 886.4 241.2 886.6 240.5 886.9 238.7 887.1 239.5 887.4 240.1 887.6 242.4 887.9 240.7 888.1 240.3 888.4 238.3 888.6 237.2 888.9 237.1 889.1 239.6 889.4 240.4 889.6 241 889.9 241.2 890.1 242.2 890.4 243.7 890.6 244.5 890.9 244.7 891.1 245.3 891.4 246.1 891.6 247.1 891.9 247.7 892.1 247.7 892.4 247.1 892.6 248.3 892.9 249.2 893.1 249.9 893.4 250.3 893.6 250.2 893.9 252.4 894.1 252.3 894.4 253.1 894.6 253.5 894.9 253.3 895.1 254.9 895.4 253.5 895.6 254 895.9 253.8 896.1 254.1 896.4 253.3 896.6 254.6 896.9 255.5 897.1 255.4 897.4 254.2 897.6 252.8 897.9 254.9 898.1 252.5 898.4 251.7 898.6 252.7 898.9 253.3 899.1 252.1 899.4 253.1 899.6 251.9 899.9 253.2 900.1 253.7 900.4 253.6 900.6 254.6 900.9 254.5 901.1 252 901.4 253.6 901.6 254 901.9 254.8 902.1 254.3 902.4 254.9 902.6 254.3 902.9 254.7 903.1 255.3 903.4 254.3 903.6 253.7 903.9 254 904.1 254.8 904.4 254.9 904.6 254.8 904.9 255.2 905.1 255.1 905.4 253.8 905.6 255.2 905.9 255.9 906.1 256.2 906.4 253.8 906.6 255.1 906.9 253.8 907.1 254.1 907.4 254.2 907.6 256 907.9 256.5 908.1 256 908.4 256.2 908.6 255.4 908.9 254.7 909.1 255.9 909.4 256.8 909.6 256.7 909.9 258.1 910.1 259.1 910.4 257.8 910.6 257.8 910.9 258.1 911.1 256.2 911.4 258.2 911.6 259.2 911.9 259.4 912.1 259.3 912.4 259 912.6 260.6 912.9 259.8 913.1 260.5 913.4 260.5 913.6 260.9 913.9 260.7 914.1 259 914.4 257.5 914.6 255.1 914.9 253.5 915.1 253.5 915.4 253.1 915.6 252 915.9 249.9 916.1 248.8 916.4 246.3 916.6 247.1 916.9 245.2 917.1 244.4 917.4 244.6 917.6 246.2 917.9 244.9 918.1 245.6 918.4 246.9 918.6 246.3 918.9 245.6 919.1 243.6 919.4 243.5 919.6 242.2 919.9 243.5 920.1 244.2 920.4 245.3 920.6 244.8 920.9 244.7 921.1 243.6 921.4 244.1 921.6 245.2 921.9 245.1 922.1 245.6 922.4 245.9 922.6 246.7 922.9 247.2 923.1 246.9 923.4 247.8 923.6 249.4 923.9 250.2 924.1 250.6 924.4 250.5 924.6 252 924.9 252.3 925.1 252.9 925.4 254.1 925.6 255.3 925.9 254.8 926.1 254.8 926.4 256 926.6 256 926.9 257.9 927.1 258.6 927.4 258.3 927.6 257.3 927.9 258.7 928.1 259 928.4 257.9 928.6 258.1 928.9 259 929.1 260.2 929.4 258.2 929.6 258.7 929.9 259.1 930.1 261.1 930.4 260.4 930.6 259.9 930.9 259.3 931.1 259.2 931.4 259.3 931.6 258.6 931.9 258.7 932.1 260.1 932.4 259 932.6 259.3 932.9 260.6 933.1 259 933.4 258.8 933.6 258.2 933.9 259.2 934.1 260.1 934.4 260 934.6 259.5 934.9 259.3 935.1 259.3 935.4 260 935.6 259.6 935.9 260.3 936.1 261.1 936.4 259.3 936.6 260 936.9 260 937.1 258.7 937.4 255.9 937.6 255.4 937.9 256.6 938.1 254.9 938.3 255.5 938.4 255.9 938.5 257.1 938.6 255 938.7 256.8 938.8 270.8 938.8 271.8 938.9 255.5 939 257.8 939.1 257.1 939.2 256.4 939.3 256.9 939.4 269.3 939.5 270.1 939.6 256.3 939.7 257.1 939.7 257.4 939.8 258.7 939.9 256.4 940 273.2 940.1 270.2 940.2 255.4 940.3 257.2 940.4 259.5 940.5 257.4 940.6 256.5 940.6 270.3 940.7 271.2 940.8 258 940.9 255.5 941 255.2 941.1 257.2 941.2 258.6 941.3 270.7 941.4 270.3 941.5 257 941.5 255.7 941.6 256.2 941.7 257.1 941.8 257.2 941.9 270.6 942 269.5 942.1 257.2 942.2 254.7 942.3 254.7 942.4 258.4 942.4 257.9 942.5 273 942.6 272.3 942.7 258.1 942.8 256.4 942.9 255.9 943 257.7 943.1 257.1 943.2 271.4 943.3 270.4 943.3 257.5 943.4 258.4 943.5 257.6 943.6 257 943.7 257.1 943.8 270.2 943.9 271.3 944 258 944.1 257.3 944.2 256.4 944.2 257.8 L944.2 309.8 944.2 308.4 944.1 309.3 944 307.6 943.9 323.3 943.8 321.4 943.7 308.6 943.6 308.6 943.5 307.8 943.4 308.9 943.3 308.4 943.3 322 943.2 320.2 943.1 306.8 943 308.2 942.9 308.2 942.8 309.5 942.7 308.8 942.6 322.7 942.5 321.1 942.4 310.2 942.4 308.8 942.3 306.7 942.2 306.9 942.1 309 942 321.7 941.9 322.8 941.8 309.7 941.7 305 941.6 306.8 941.5 307.9 941.5 308.4 941.4 322.4 941.3 322 941.2 306.5 941.1 307.5 941 308 940.9 308.7 940.8 307 940.7 322.9 940.6 320.4 940.6 307.3 940.5 308.3 940.4 306.9 940.3 306.9 940.2 308.3 940.1 322.4 940 322.3 939.9 308 939.8 306.9 939.7 308.9 939.7 305.7 939.6 307.5 939.5 321.9 939.4 320.6 939.3 306 939.2 306.4 939.1 306.9 939 306.8 938.9 308.7 938.8 321 938.8 319 938.7 307.7 938.6 306.3 938.5 308.4 938.4 306.1 938.3 304.5 938.1 306.2 937.9 306.3 937.6 306.2 937.4 306.8 937.1 307.1 936.9 306 936.6 307.8 936.4 307.4 936.1 306.1 935.9 306.1 935.6 307.1 935.4 309.8 935.1 310.7 934.9 309.9 934.6 310.3 934.4 310.3 934.1 309.3 933.9 308.6 933.6 308 933.4 307.9 933.1 307.5 932.9 308.3 932.6 307.9 932.4 308.9 932.1 309.5 931.9 307.7 931.6 309.4 931.4 308.3 931.1 307.7 930.9 308 930.6 307.7 930.4 309.4 930.1 309.5 929.9 309 929.6 308.1 929.4 308.1 929.1 308.8 928.9 309.6 928.6 308.5 928.4 309.4 928.1 306.9 927.9 309 927.6 308 927.4 307.9 927.1 306.4 926.9 304 926.6 304.5 926.4 305.4 926.1 306.2 925.9 305.5 925.6 303.9 925.4 303.5 925.1 303.3 924.9 302.1 924.6 300.7 924.4 299.8 924.1 300.3 923.9 300.6 923.6 298.1 923.4 298.2 923.1 297.9 922.9 298.5 922.6 296.7 922.4 295.5 922.1 293.4 921.9 293.1 921.6 293 921.4 292.2 921.1 292.4 920.9 294.1 920.6 293.9 920.4 294.1 920.1 294.8 919.9 294.8 919.6 293.6 919.4 292.2 919.1 292.5 918.9 294.3 918.6 295.9 918.4 296.3 918.1 296.8 917.9 296.4 917.6 295.9 917.4 296.6 917.1 299.7 916.9 299.6 916.6 299.8 916.4 300.3 916.1 299.9 915.9 299.7 915.6 300.2 915.4 302.7 915.1 303.4 914.9 304 914.6 306.1 914.4 306.8 914.1 307 913.9 307.6 913.6 307.9 913.4 309.6 913.1 310 912.9 308 912.6 307.1 912.4 309.6 912.1 308.1 911.9 308.4 911.6 307.7 911.4 305.8 911.1 306 910.9 304.7 910.6 306.6 910.4 305.7 910.1 305.9 909.9 305.6 909.6 306.2 909.4 306.5 909.1 306 908.9 305.7 908.6 305.3 908.4 303.2 908.1 304 907.9 304.6 907.6 305 907.4 304.2 907.1 305.1 906.9 302.4 906.6 303 906.4 302.9 906.1 303.3 905.9 303.5 905.6 301.9 905.4 302.2 905.1 303.5 904.9 303.9 904.6 304.6 904.4 304.6 904.1 303.8 903.9 303.3 903.6 301.6 903.4 304.4 903.1 303.7 902.9 302.7 902.6 305 902.4 304.4 902.1 305 901.9 304.3 901.6 305 901.4 304.8 901.1 304.9 900.9 304.6 900.6 303.6 900.4 303.1 900.1 302.3 899.9 303.9 899.6 303.4 899.4 304.6 899.1 304.1 898.9 302.7 898.6 301.8 898.4 301.2 898.1 303.2 897.9 304.8 897.6 303.5 897.4 302.1 897.1 303.2 896.9 302.7 896.6 303.6 896.4 302.1 896.1 303.5 895.9 305.3 895.6 303.6 895.4 303.7 895.1 304.3 894.9 305.2 894.6 304.2 894.4 302.7 894.1 301.4 893.9 300.7 893.6 300.5 893.4 301.4 893.1 300.5 892.9 299.4 892.6 300.5 892.4 298.2 892.1 296.9 891.9 295 891.6 296.4 891.4 295.9 891.1 293.9 890.9 292.1 890.6 292.7 890.4 291.5 890.1 290.6 889.9 289.9 889.6 289.8 889.4 289.1 889.1 288.9 888.9 288.8 888.6 289.3 888.4 290.1 888.1 289.4 887.9 289.2 887.6 288.4 887.4 287.6 887.1 288.6 886.9 289.7 886.6 288.6 886.4 290.4 886.1 288.3 885.9 289.8 885.6 290.6 885.4 290.9 885.1 290.6 884.9 290.9 884.6 292.7 884.4 292.6 884.1 294.2 883.9 294.3 883.6 294.4 883.4 295.5 883.1 295.9 882.9 297 882.6 298.4 882.4 299.3 882.1 298.3 881.9 300.4 881.6 301 881.4 303.5 881.1 304.6 880.9 305.6 880.6 305.6 880.4 306 880.1 307.1 879.9 306.1 879.6 304.5 879.4 304.4 879.1 305.4 878.9 305.9 878.6 304.4 878.4 303.5 878.1 303.8 877.9 302.9 877.6 302.5 877.4 302.3 877.1 300.9 876.9 301.5 876.6 300.2 876.4 300 876.1 301.4 875.9 301.9 875.6 300.5 875.4 300.2 875.1 299.1 874.9 300.2 874.6 300.2 874.4 300.2 874.1 300.1 873.9 299.2 873.6 300.8 873.4 301.3 873.1 301.3 872.9 301.8 872.6 302 872.4 301.7 872.1 301.7 871.9 302 871.6 304.4 871.4 301.1 871.1 300.3 870.9 300.6 870.6 300.2 870.4 300.3 870.1 300 869.9 300.3 869.6 300.9 869.4 300.2 869.1 298 868.9 301 868.6 302.2 868.4 300.4 868.1 303.3 867.9 303.1 867.6 302.9 867.4 300.9 867.1 301.6 866.9 300.8 866.6 300.7 866.4 298.8 866.1 300.2 865.9 300.7 865.6 301.5 865.4 302 865.1 303.6 864.9 303.2 864.6 300.6 864.4 301 864.1 301.4 863.9 301.1 863.6 301.5 863.4 303.6 863.1 303.5 862.9 302 862.6 302.4 862.4 301.3 862.1 301.6 861.9 300.3 861.6 299.8 861.4 299.6 861.1 298.8 860.9 298.7 860.6 299.6 860.4 298.5 860.1 297 859.9 293.9 859.6 295.7 859.4 294.4 859.1 294.3 858.9 293.6 858.6 292.1 858.4 291.2 858.1 290.7 857.9 291.5 857.6 290.8 857.4 288.3 857.1 288.3 856.9 288.2 856.6 287.3 856.4 287.1 856.1 287.8 855.9 288.3 855.6 288.4 855.4 286 855.1 285.9 854.9 285.2 854.6 283.8 854.4 284.8 854.1 286.6 853.9 286.8 853.6 288.1 853.4 287.6 853.1 285.8 852.9 285.9 852.6 285.8 852.4 287 852.1 288.7 851.9 288.4 851.6 288.6 851.4 289.3 851.1 288.6 850.9 288.9 850.6 289.2 850.4 289.8 850.1 291.6 849.9 291.5 849.6 293 849.4 294.2 849.1 294.8 848.9 294.9 848.6 297.4 848.4 298.1 848.1 299.2 847.9 298.8 847.6 299.6 847.4 301.1 847.1 299.3 846.9 299.7 846.6 298.6 846.4 300.6 846.1 301.6 845.9 299.9 845.6 300.1 845.4 298.3 845.1 299.4 844.9 301.4 844.6 299.9 844.4 299.8 844.1 299.9 843.9 299.3 843.6 298.3 843.4 298.9 843.1 298.9 842.9 298.7 842.6 298.2 842.4 298.4 842.1 299 841.9 297.2 841.6 296.3 841.4 296.2 841.1 297.9 840.9 298.5 840.6 298.6 840.4 296.4 840.1 296.6 839.9 296.9 839.6 295 839.4 295.2 839.1 295.3 838.9 293.8 838.6 294.3 838.4 294.3 838.1 293.7 837.9 293.7 837.6 294.9 837.4 295.3 837.1 295.2 836.9 295 836.6 297 836.4 296.1 836.1 296 835.9 296.1 835.6 294.9 835.4 294.7 835.1 295.7 834.9 295.8 834.6 296.2 834.4 296.3 834.1 296 833.9 296.3 833.6 295.6 833.4 296 833.1 296.7 832.9 297.8 832.6 298.2 832.4 297.3 832.1 297.9 831.9 297.2 831.6 298.4 831.4 299 831.1 296.7 830.9 296.2 830.6 296.2 830.4 297.6 830.1 296.9 829.9 299.3 829.6 299.6 829.4 299.6 829.1 298.3 828.9 298.4 828.6 297.3 828.4 296 828.1 295.3 827.9 294.4 827.6 292.7 827.4 293.8 827.1 294.8 826.9 294.8 826.6 293.9 826.4 294.7 826.1 293.3 825.9 293 825.6 291.6 825.4 291.9 825.1 292 824.9 290.9 824.6 290.6 824.4 289.5 824.1 289 823.9 287 823.6 284.7 823.4 284.1 823.1 283.5 822.9 283 822.6 282.2 822.4 281.6 822.1 280.5 821.9 280.4 821.6 281.4 821.4 282.2 821.1 280.8 820.9 281.2 820.6 282.7 820.4 281.8 820.1 282.4 819.9 281.5 819.6 281.6 819.4 281.4 819.1 282 818.9 282.4 818.6 284.3 818.4 283 818.1 284.5 817.9 284.9 817.6 284.7 817.4 284.2 817.1 285 816.9 285.7 816.6 284.2 816.4 286.3 816.1 286 815.9 286.8 815.6 289.5 815.4 288.6 815.1 289 814.9 291.7 814.6 292.2 814.4 291.8 814.1 292.6 813.9 296 813.6 296.4 813.4 297.4 813.1 297.6 812.9 296.3 812.6 295 812.4 294.6 812.1 296.6 811.9 296.1 811.6 297.3 811.4 296.7 811.1 295.6 810.9 294.6 810.6 295.5 810.4 294.8 810.1 292.5 809.9 291.9 809.6 292.1 809.4 292.7 809.1 293.2 808.9 292.7 808.6 293 808.4 293.5 808.1 293.2 807.9 292.5 807.6 292.2 807.4 292.6 807.1 292.8 806.9 292.5 806.6 291.2 806.4 292.7 806.1 293.2 805.9 293.9 805.6 292.9 805.4 292.2 805.1 292.4 804.9 293.6 804.6 293 804.4 294.1 804.1 293.2 803.9 291.7 803.6 292 803.4 291.5 803.1 292.6 802.9 292.2 802.6 292.2 802.4 292.3 802.1 291.1 801.9 293.1 801.6 291.5 801.4 292.6 801.1 293 800.9 291.6 800.6 292.8 800.4 291.3 800.1 290.4 799.9 291.1 799.6 290 799.4 291.1 799.1 291.4 798.9 292.1 798.6 290.5 798.4 290.1 798.1 291.2 797.9 291.6 797.6 292.4 797.4 292.5 797.1 292.6 796.9 291.6 796.6 291.5 796.4 291.3 796.1 292.2 795.9 290.7 795.6 291.3 795.4 292.9 795.1 294.4 794.9 294.7 794.6 292.6 794.4 291.8 794.1 291.7 793.9 289.6 793.6 290.1 793.4 289.8 793.1 288.8 792.9 288.7 792.6 286.9 792.4 287.1 792.1 285.7 791.9 286.9 791.6 285.7 791.4 285.4 791.1 283.6 790.9 283.4 790.6 284.6 790.4 281.7 790.1 279 789.9 279.1 789.6 280.1 789.4 279.5 789.1 279.4 788.9 279.5 788.6 278.8 788.4 279.9 788.1 278.8 787.9 279.8 787.6 278.7 787.4 279.7 787.1 280.6 786.9 278.9 786.6 279.3 786.4 279.2 786.1 279.1 785.9 279.7 785.6 279 785.4 278.9 785.1 280.4 784.9 280.6 784.6 280.1 784.4 279.9 784.1 281.3 783.9 283.8 783.6 283.4 783.4 283.8 783.1 283.9 782.9 283.8 782.6 283.8 782.4 283.9 782.1 286.4 781.9 287 781.6 286.9 781.4 288.7 781.1 290.3 780.9 291.2 780.6 293.4 780.4 291.8 780.1 292.3 779.9 290.4 779.6 289.7 779.4 291.8 779.1 289.6 778.9 289.1 778.6 290.6 778.4 289.3 778.1 289.2 777.9 289.5 777.6 289.6 777.4 289.2 777.1 290.2 776.9 289.7 776.6 289.5 776.4 290.4 776.1 289.2 775.9 289.5 775.6 288.7 775.4 288.4 775.1 288.4 774.9 289.5 774.6 288.4 774.4 288.4 774.1 288.7 773.9 290.1 773.6 288.9 773.4 289.7 773.1 290.9 772.9 291.9 772.6 291.5 772.4 291.1 772.1 291 771.9 290.3 771.6 293 771.4 292.7 771.1 293.3 770.9 294 770.6 293.8 770.4 293.5 770.1 294.9 769.9 294.2 769.6 293.7 769.4 292.3 769.1 293.2 768.9 294.7 768.6 294 768.4 293 768.1 293.1 767.9 292.7 767.6 292.6 767.4 292.9 767.1 292.5 766.9 292.5 766.6 294.7 766.4 295.6 766.1 295.3 765.9 295.5 765.6 297.1 765.4 296.4 765.1 294.3 764.9 295.2 764.6 295.4 764.4 297.1 764.1 296.5 763.9 297 763.6 296.9 763.4 297 763.1 298.3 762.9 297.5 762.6 298.8 762.4 298.4 762.1 297.6 761.9 298.1 761.6 297.5 761.4 296.9 761.1 297.6 760.9 296.4 760.6 295.7 760.4 295.4 760.1 296.9 759.9 295.5 759.6 295.7 759.4 295.7 759.1 294.5 758.9 295.6 758.6 294.3 758.4 291.9 758.1 291.6 757.9 290.2 757.6 290.1 757.4 289.4 757.1 288.8 756.9 288.8 756.6 288.6 756.4 287.1 756.1 286.7 755.9 284.8 755.6 285.6 755.4 285.1 755.1 285 754.9 286 754.6 286.3 754.4 286.4 754.1 287.3 753.9 289.5 753.6 289.5 753.4 290.9 753.1 289.5 752.9 289.8 752.6 289.7 752.4 288.8 752.1 288.6 751.9 289.1 751.6 290.5 751.4 290.7 751.1 290.9 750.9 291.6 750.6 294.2 750.4 296.3 750.1 297.1 749.9 296 749.6 297.8 749.4 299.3 749.1 301.1 748.9 299.7 748.6 301 748.4 302.5 748.1 303.5 747.9 303.2 747.6 302.7 747.4 302.5 747.1 302.5 746.9 303.2 746.6 302.8 746.4 302.8 746.1 303.8 745.9 303.1 745.6 301.9 745.4 302.6 745.1 304.1 744.9 302.9 744.6 304.6 744.4 305.6 744.1 305.4 743.9 303.1 743.6 302.2 743.4 302.6 743.1 304.3 742.9 303.5 742.6 304.8 742.4 305 742.1 305.4 741.9 303.2 741.6 302.3 741.4 303.5 741.1 303.4 740.9 303.8 740.6 302.4 740.4 302.9 740.1 303.5 739.9 302.8 739.6 303.9 739.4 304.5 739.1 304.3 738.9 305.1 738.6 305.3 738.4 304.7 738.1 304.3 737.9 304.6 737.6 303.8 737.4 306.8 737.1 307.9 736.9 308.3 736.6 308.4 736.4 307.3 736.1 308.8 735.9 307.7 735.6 308.8 735.4 307.4 735.1 305.9 734.9 306.4 734.6 306.9 734.4 308.5 734.1 308.7 733.9 310.2 733.6 310.7 733.4 308.7 733.1 309.4 732.9 310.4 732.6 311.2 732.4 310.6 732.1 312 731.9 311 731.6 310.4 731.4 312.1 731.1 313.1 730.9 313 730.6 311.5 730.4 310.1 730.1 310.9 729.9 311.1 729.6 311.7 729.4 310.4 729.1 311.8 728.9 309.9 728.6 309.7 728.4 309.9 728.1 310.6 727.9 309.7 727.6 307.1 727.4 307.4 727.1 307 726.9 306.5 726.6 305.9 726.4 305.7 726.1 304.7 725.9 305 725.6 304.2 725.4 303.3 725.1 303.2 724.9 302.9 724.6 302.2 724.4 300.3 724.1 299.9 723.9 297.8 723.6 296.7 723.4 295.7 723.1 294.6 722.9 294.5 722.6 292.7 722.4 293.8 722.1 293.7 721.9 293.6 721.6 294.1 721.4 293.2 721.1 293.1 720.9 294.2 720.6 293.3 720.4 293.8 720.1 293.7 719.9 295.1 719.6 293.4 719.4 294.9 719.1 295.1 718.9 293.3 718.6 292.4 718.4 292.9 718.1 294.2 717.9 295.5 717.6 294.7 717.4 294.5 717.1 294.9 716.9 293.6 716.6 293.9 716.4 293.1 716.1 296.5 715.9 297.5 715.6 297.7 715.4 296.3 715.1 296.5 714.9 299 714.6 300.1 714.4 299.6 714.1 297 713.9 297 713.6 296.3 713.4 297.2 713.1 297.2 712.9 296.1 712.6 295 712.4 294.8 712.1 294.9 711.9 292.7 711.6 291.9 711.4 292.2 711.1 291.6 710.9 289.7 710.6 290.7 710.4 290.3 710.1 289.2 709.9 288.5 709.6 288.8 709.4 287.8 709.1 288.7 708.9 288.7 708.6 289.1 708.4 289.6 708.1 288.1 707.9 287.3 707.6 286.2 707.4 286.4 707.1 285.4 706.9 284.4 706.6 285.3 706.4 283.4 706.1 284.1 705.9 285.4 705.6 285.2 705.4 284.7 705.1 284.4 704.9 282.9 704.6 284.1 704.4 283 704.1 281.3 703.9 281 703.6 281.5 703.4 283 703.1 283.1 702.9 281.2 702.6 281.4 702.4 281.3 702.1 280.5 701.9 279.9 701.6 279.9 701.4 281.1 701.1 279.8 700.9 277.9 700.6 278.5 700.4 278.8 700.1 277.4 699.9 277.9 699.6 276.3 699.4 275.5 699.1 273.6 698.9 274.5 698.6 275.5 698.4 273.9 698.1 274.4 697.9 275.3 697.6 273.8 697.4 273.3 697.1 274.8 696.9 272.4 696.6 272.3 696.4 272.2 696.1 272.4 695.9 271.2 695.6 270.5 695.4 270.6 695.1 269.6 694.9 271.1 694.6 269.1 694.4 269.7 694.1 268.2 693.9 267.6 693.6 265.8 693.4 266.1 693.1 268 692.9 266.5 692.6 263.5 692.4 263.8 692.1 263.9 691.9 263.8 691.6 264.6 691.4 261.7 691.1 259.1 690.9 258.4 690.6 256.9 690.4 256 690.1 253.5 689.9 252.7 689.6 252.7 689.4 251.6 689.1 249.1 688.9 248.2 688.6 248.2 688.4 246.4 688.1 248.5 687.9 247.9 687.6 247.6 687.4 246.9 687.1 246.7 686.9 247.4 686.6 249.1 686.4 248.9 686.1 248 685.9 247.8 685.6 247.2 685.4 246 685.1 247.9 684.9 250.2 684.6 250.2 684.4 251.2 684.1 250.9 683.9 252.7 683.6 253.8 683.4 254.2 683.1 255.8 682.9 254.8 682.6 256.9 682.4 256.1 682.1 257.6 681.9 259.6 681.6 257.9 681.4 258.5 681.1 256.7 680.9 255.8 680.6 256.4 680.4 255.7 680.1 252.6 679.9 251 679.6 251.6 679.4 249.7 679.1 249.9 678.9 250.3 678.6 250.8 678.4 250.5 678.1 250.9 677.9 250.3 677.6 250.5 677.4 250.8 677.1 248.1 676.9 247.4 676.6 248 676.4 246.2 676.1 246.5 675.9 245.3 675.6 243.9 675.4 243.3 675.1 244.5 674.9 245.7 674.6 242.8 674.4 240.6 674.1 241.3 673.9 241.4 673.6 241 673.4 243.2 673.1 243.6 672.9 242.8 672.6 243.1 672.4 245.3 672.1 244.6 671.9 246.7 671.6 246.5 671.4 246.2 671.1 247.8 670.9 249.2 670.6 249 670.4 251 670.1 252.7 669.9 251.1 669.6 252 669.4 253.2 669.1 252 668.9 253.1 668.6 253 668.4 254.7 668.1 254.6 667.9 254.9 667.6 258.7 667.4 258.1 667.1 259 666.9 257 666.6 257.6 666.4 257.4 666.1 258.4 665.9 257.8 665.6 259.2 665.4 260.3 665.1 261.1 664.9 262.5 664.6 261.6 664.4 262.7 664.1 263 663.9 263.7 663.6 265.1 663.4 266.4 663.1 266.4 662.9 265.9 662.6 266.7 662.4 268 662.1 267.5 661.9 268.6 661.6 266.2 661.4 265.9 661.1 267.9 660.9 266.6 660.6 268.3 660.4 268.6 660.1 269.2 659.9 268.4 659.6 270 659.4 268.3 659.1 267.2 658.9 266.3 658.6 265.6 658.4 264.5 658.1 263.9 657.9 264.9 657.6 265 657.4 264.1 657.1 264.1 656.9 265 656.6 265.9 656.4 265 656.1 264 655.9 266.6 655.6 268.2 655.4 267.5 655.1 267.7 654.9 269.2 654.6 269.1 654.4 271.6 654.1 270.2 653.9 271.1 653.6 271.6 653.4 272.8 653.1 274 652.9 276 652.6 276 652.4 277.3 652.1 278.9 651.9 278.7 651.6 280.2 651.4 280.3 651.1 281.4 650.9 280.8 650.6 281.5 650.4 283.7 650.1 284.4 649.9 286.1 649.6 288.5 649.4 289.7 649.1 289.5 648.9 290.8 648.6 292.9 648.4 293.3 648.1 294.5 647.9 294.5 647.6 295.1 647.4 295.8 647.1 295.4 646.9 294.6 646.6 294.8 646.4 295.6 646.1 296.1 645.9 296.1 645.6 296.4 645.4 295.1 645.1 296.1 644.9 295.8 644.6 296.3 644.4 297.5 644.1 298.1 643.9 298.3 643.6 298.1 643.4 298.2 643.1 297 642.9 295.8 642.6 295.9 642.4 295.5 642.1 296.9 641.9 297.4 641.6 297.6 641.4 297.5 641.1 297.2 640.9 298.2 640.6 299.9 640.4 301.9 640.1 302.7 639.9 302.9 639.6 302.6 639.4 301.9 639.1 304.1 638.9 304.4 638.6 304.2 638.4 302.2 638.1 302.2 637.9 304.1 637.6 305.2 637.4 303.4 637.1 307.2 636.9 306.7 636.6 306.1 636.4 305.8 636.1 306.3 635.9 306.7 635.6 307.2 635.4 307.6 635.1 307.8 634.9 309.5 634.6 309.1 634.4 311.5 634.1 311.4 633.9 309 633.6 309.6 633.4 310.2 633.1 309.9 632.9 310.1 632.6 310.1 632.4 311.2 632.1 311.2 631.9 311.1 631.6 311 631.4 312.4 631.1 312.9 630.9 313.8 630.6 312.6 630.4 313.7 630.1 313.1 629.9 312.4 629.6 314.2 629.4 313.4 629.1 314.2 628.9 313.7 628.6 312.3 628.4 311.8 628.1 313.1 627.9 313.6 627.6 310.6 627.4 310 627.1 309.4 626.9 309.8 626.6 308.6 626.4 307.9 626.1 307.2 625.9 306.5 625.6 305.8 625.4 305.8 625.1 307.1 624.9 306.6 624.6 304.3 624.4 305.3 624.1 303.5 623.9 304.9 623.6 304.2 623.4 305.6 623.1 305.1 622.9 304.5 622.6 305.9 622.4 304.5 622.1 305.2 621.9 305.5 621.6 305.5 621.4 306 621.1 305.1 620.9 304.5 620.6 305.8 620.4 306.4 620.1 307.3 619.9 308.2 619.6 307.3 619.4 307.3 619.1 307.2 618.9 308.8 618.6 309.9 618.4 311.1 618.1 310.2 617.9 312.1 617.6 310.3 617.4 312.9 617.1 314.2 616.9 314.6 616.6 316.1 616.4 318.5 616.1 318 615.9 317.5 615.6 319.9 615.4 321 615.1 321.7 614.9 321.8 614.6 321.9 614.4 322.2 614.1 320.7 613.9 319.9 613.6 320.8 613.4 321 613.1 320.5 612.9 320.5 612.6 319.7 612.4 319.1 612.1 319.1 611.9 320.3 611.6 319 611.4 319.2 611.1 319.1 610.9 320.3 610.6 319.9 610.4 320.3 610.1 320.7 609.9 319.6 609.6 318.8 609.4 317.6 609.1 317.9 608.9 318.8 608.6 318.7 608.4 318.4 608.1 316.6 607.9 316.9 607.6 316.5 607.4 318.1 607.1 318.6 606.9 317.9 606.6 316.9 606.4 318.9 606.1 319.4 605.9 319.6 605.6 317.4 605.4 317.1 605.1 317.6 604.9 316.2 604.6 316.1 604.4 316.6 604.1 316.9 603.9 317.8 603.6 315.8 603.4 317.2 603.1 316.7 602.9 316.6 602.6 316.5 602.4 316.2 602.1 317.3 601.9 318.9 601.6 317.3 601.4 318.6 601.1 318.1 600.9 319.4 600.6 318.6 600.4 318.5 600.1 319.2 599.9 319.5 599.6 320.4 599.4 320.5 599.1 320.1 598.9 321.6 598.6 320.5 598.4 322 598.1 321.3 597.9 318.9 597.6 319 597.4 319.7 597.1 320.8 596.9 322.2 596.6 322.6 596.4 321.8 596.1 321.3 595.9 321.6 595.6 321.4 595.4 320 595.1 320.4 594.9 318.6 594.6 317.2 594.4 318.9 594.1 319.7 593.9 317.8 593.6 315.7 593.4 317.9 593.1 317.3 592.9 317.6 592.6 316.6 592.4 315 592.1 314.8 591.9 315.4 591.6 314.6 591.4 313.3 591.1 314.5 590.9 313.8 590.6 314.2 590.4 314.1 590.1 313.4 589.9 312.6 589.6 312.6 589.4 312.9 589.1 312.8 588.9 313.8 588.6 314.6 588.4 314.5 588.1 314.7 587.9 314.5 587.6 315.6 587.4 316.9 587.1 317.5 586.9 317.5 586.6 318.2 586.4 317.4 586.1 319.4 585.9 319.1 585.6 320.8 585.4 319.7 585.1 319.4 584.9 320.7 584.6 322.8 584.4 320.9 584.1 324.5 583.9 325.4 583.6 327.8 583.4 327.3 583.1 328.3 582.9 328.2 582.6 329.6 582.4 329.7 582.1 332.8 581.9 332.5 581.6 332.2 581.4 330.9 581.1 330.4 580.9 331.2 580.6 331.7 580.4 331.7 580.1 331 579.9 332.3 579.6 331.5 579.4 331.8 579.1 332.8 578.9 333.5 578.6 332.3 578.4 331.6 578.1 330.7 577.9 332.6 577.6 332 577.4 330.8 577.1 331.8 576.9 333 576.6 332.9 576.4 333.9 576.1 331.8 575.9 331.8 575.6 331.1 575.4 331.2 575.1 332.5 574.9 333.6 574.6 332.6 574.4 333.2 574.1 333.3 573.9 332.7 573.6 332.3 573.4 334 573.1 334.8 572.9 335.8 572.6 335.4 572.4 335 572.1 334.6 571.9 335.5 571.6 336 571.4 336.7 571.1 336.3 570.9 336.7 570.6 337 570.4 337.3 570.1 338.2 569.9 337.5 569.6 336.7 569.4 337.2 569.1 336.3 568.9 336.7 568.6 337.1 568.4 336.5 568.1 337.6 567.9 338.4 567.6 338.7 567.4 337.7 567.1 339.2 566.9 340.2 566.6 340.5 566.4 340.3 566.1 341.2 565.9 341.8 565.6 340 565.4 340 565.1 340.9 564.9 340.4 564.6 341.6 564.4 343.5 564.1 344.3 563.9 344.8 563.6 345.5 563.4 344.7 563.1 344.7 562.9 343.6 562.6 341.6 562.4 341.9 562.1 342.8 561.9 342.4 561.6 342.4 561.4 341.8 561.1 340.3 560.9 339.9 560.6 339.6 560.4 337.7 560.1 337.3 559.9 337.4 559.6 337.7 559.4 337.4 559.1 337.4 558.9 336.4 558.6 335.5 558.4 336.2 558.1 336.3 557.9 337.4 557.6 335.2 557.4 336 557.1 335.6 556.9 333.5 556.6 334.6 556.4 335.7 556.1 335.9 555.9 336 555.6 337.6 555.4 336.4 555.1 336.9 554.9 338.1 554.6 337.2 554.4 338.6 554.1 339.9 553.9 341.2 553.6 339.6 553.4 339.6 553.1 341.1 552.9 341.2 552.6 341.6 552.4 343.1 552.1 344 551.9 343.4 551.6 342.9 551.4 344.6 551.1 345.2 550.9 346.7 550.6 348.4 550.4 350.7 550.1 349.9 549.9 351.5 549.6 350.8 549.4 351 549.1 351.9 548.9 352.9 548.6 352.3 548.4 353.1 548.1 356.9 547.9 355.7 547.6 356.6 547.4 356.8 547.1 355.3 546.9 354.7 546.6 354 546.4 354.7 546.1 355.2 545.9 355.1 545.6 354.6 545.4 353 545.1 353.6 544.9 354.7 544.6 355.2 544.4 354.3 544.1 353.5 543.9 353.8 543.6 353.4 543.4 354.8 543.1 354.3 542.9 353.5 542.6 354.2 542.4 353.9 542.1 354.9 541.9 354.2 541.6 354 541.4 355.1 541.1 352.9 540.9 352.9 540.6 354 540.4 355.7 540.1 356.5 539.9 356 539.6 356.2 539.4 357.3 539.1 356.6 538.9 357.4 538.6 357.8 538.4 358.7 538.1 357.9 537.9 358.3 537.6 356.2 537.4 356.5 537.1 356.6 536.9 360.5 536.6 359.6 536.4 359.6 536.1 359.3 535.9 358.7 535.6 360.4 535.4 360 535.1 359.3 534.9 359.1 534.6 360.9 534.4 361.6 534.1 361.5 533.9 361 533.6 361.5 533.4 362.4 533.1 363 532.9 363.4 532.6 364.2 532.4 364.9 532.1 364.4 531.9 365.1 531.6 365.6 531.4 365.1 531.1 365.1 530.9 366.3 530.6 366 530.4 364.5 530.1 365.1 529.9 364.4 529.6 364.2 529.4 363.6 529.1 362.4 528.9 364.3 528.6 364.5 528.4 363.7 528.1 362.2 527.9 361 527.6 360 527.4 359.7 527.1 360.7 526.9 359.2 526.6 358.3 526.4 359.2 526.1 358.1 525.9 358.3 525.6 358.5 525.4 357 525.1 357.3 524.9 354.9 524.6 354.8 524.4 354.5 524.1 353.6 523.9 353.1 523.6 354.3 523.4 354 523.1 354.7 522.9 354.1 522.6 355.7 522.4 355.5 522.1 353.6 521.9 354.4 521.6 355.9 521.4 356.1 521.1 356.4 520.9 358.6 520.6 359.3 520.4 361.1 520.1 360.7 519.9 362.6 519.6 363.6 519.4 364.5 519.1 365.2 518.9 366.3 518.6 365.8 518.4 366.2 518.1 367.2 517.9 367.1 517.6 367.9 517.4 369.5 517.1 369.9 516.9 368.4 516.6 370.9 516.4 372.2 516.1 371.4 515.9 372.2 515.6 372.9 515.4 373.1 515.1 374.5 514.9 374.6 514.6 374.2 514.4 376.4 514.1 373.9 513.9 373.6 513.6 373.9 513.4 372.3 513.1 372.9 512.9 373.1 512.6 373 512.4 371.8 512.1 371.4 511.9 372.4 511.6 372.5 511.4 373.5 511.1 375 510.9 375.6 510.6 374.4 510.4 373.5 510.1 371.7 509.9 372.5 509.6 372.5 509.4 372.3 509.1 372.6 508.9 374 508.6 373.4 508.4 373.4 508.1 374 507.9 375.6 507.6 373.8 507.4 373.5 507.1 375.3 506.9 375.3 506.6 376.8 506.4 377 506.1 378.2 505.9 378.8 505.6 378.3 505.4 379.3 505.1 380 504.9 379.3 504.6 378.4 504.4 377.1 504.1 379.7 503.9 380.2 503.6 378.8 503.4 378.9 503.1 378.5 502.9 378.2 502.6 379.1 502.4 378.7 502.1 377.2 501.9 377.6 501.6 380.2 501.4 380.6 501.1 381.4 500.9 383.2 500.6 383.3 500.4 383 500.1 383.5 499.9 383.5 499.6 384.1 499.4 386.9 499.1 387 498.9 387.1 498.6 388.7 498.4 387.1 498.1 387.1 497.9 387.5 497.6 388.2 497.4 386.9 497.1 386.4 496.9 385.1 496.6 384.6 496.4 384.7 496.1 385.2 495.9 385.1 495.6 383.5 495.4 383.7 495.1 382.8 494.9 382.9 494.6 381.9 494.4 383.1 494.1 381.8 493.9 380.5 493.6 380.2 493.4 379.1 493.1 378.3 492.9 377.4 492.6 377.4 492.4 377 492.1 374.4 491.9 373.8 491.6 374 491.4 372.6 491.1 374.2 490.9 373.4 490.6 373.4 490.4 372.4 490.1 372.3 489.9 372.7 489.6 371.1 489.4 372.1 489.1 373.3 488.9 374.4 488.6 374.8 488.4 375.4 488.1 376.5 487.9 376 487.6 377.3 487.4 377.4 487.1 380.6 486.9 380.5 486.6 379.5 486.4 379.5 486.1 380.9 485.9 381.7 485.6 381.7 485.4 382.7 485.1 385.7 484.9 386.6 484.6 387.9 484.4 387.7 484.1 387.5 483.9 388.2 483.6 389.5 483.4 389.5 483.1 388.8 482.9 390.9 482.6 390.9 482.4 392.2 482.1 392.7 481.9 394 481.6 394.2 481.4 392.6 481.1 394.5 480.9 393.6 480.6 396.3 480.4 394.6 480.1 394.6 479.9 394 479.6 393.3 479.4 393.5 479.1 394.7 478.9 395.2 478.6 395.9 478.4 393.1 478.1 392.5 477.9 393.8 477.6 393.5 477.4 395.8 477.1 395.1 476.9 394.4 476.6 393.7 476.4 393.1 476.1 393.9 475.9 394.1 475.6 392.9 475.4 393 475.1 393.7 474.9 393.4 474.6 393.6 474.4 393.3 474.1 395.8 473.9 396.6 473.6 395.3 473.4 394.9 473.1 397.2 472.9 394.8 472.6 395.7 472.4 397.2 472.1 400.7 471.9 399.5 471.6 400.3 471.4 401.3 471.1 401.3 470.9 399.7 470.6 398.7 470.4 398.2 470.1 397.3 469.9 397.8 469.6 397.6 469.4 399.1 469.1 399.7 468.9 399.8 468.6 400.8 468.4 400 468.1 398 467.9 399.6 467.6 400.4 467.4 399.6 467.1 399.5 466.9 397.7 466.6 398.4 466.4 398.2 466.1 399.4 465.9 398 465.6 398.9 465.4 399.9 465.1 398.3 464.9 399.2 464.6 398.3 464.4 397.9 464.1 397.2 463.9 396.3 463.6 396.3 463.4 396.4 463.1 394.8 462.9 394.8 462.6 395 462.4 395.8 462.1 395.3 461.9 394 461.6 392.3 461.4 392.7 461.1 392.6 460.9 391.9 460.6 391 460.4 389 460.1 388.6 459.9 386 459.6 385 459.4 384.4 459.1 383.7 458.9 383.1 458.6 381.8 458.4 383 458.1 380.1 457.9 381.1 457.6 381.9 457.4 381.3 457.1 381.5 456.9 380.2 456.6 380.9 456.4 380.2 456.1 379.6 455.9 379.5 455.6 380.3 455.4 380.8 455.1 381.4 454.9 381 454.6 382.4 454.4 381.2 454.1 382 453.9 383.6 453.6 381.9 453.4 384 453.1 384.2 452.9 384.6 452.6 387 452.4 386.8 452.1 388.7 451.9 388.9 451.6 389 451.4 390.5 451.1 389.3 450.9 390.8 450.6 393.7 450.4 394.1 450.1 395.7 449.9 396.6 449.6 396 449.4 394.6 449.1 395.6 448.9 394.1 448.6 394.6 448.4 394.2 448.1 393.2 447.9 393.4 447.6 393.4 447.4 392.3 447.1 392.1 446.9 392.4 446.6 390.7 446.4 390.9 446.1 390.1 445.9 389.8 445.6 389.9 445.4 388.4 445.1 387.7 444.9 386.8 444.6 387.7 444.4 386.2 444.1 387.1 443.9 385.8 443.6 385.3 443.4 384.5 443.1 384.4 442.9 385.5 442.6 386.8 442.4 387.3 442.1 387.3 441.9 387.2 441.6 385.8 441.4 385.4 441.1 387.2 440.9 387.4 440.6 388.4 440.4 387.8 440.1 387.3 439.9 388.1 439.6 387.6 439.4 386.4 439.1 383.9 438.9 384.8 438.6 385.4 438.4 385.6 438.1 386 437.9 386.3 437.6 385.1 437.4 384.6 437.1 384.3 436.9 385.2 436.6 384.3 436.4 383.1 436.1 384.7 435.9 383.8 435.6 384.2 435.4 384.2 435.1 383.5 434.9 382.6 434.6 382.8 434.4 381.9 434.1 383.6 433.9 382.4 433.6 383.3 433.4 383.7 433.1 382.9 432.9 383.6 432.6 380.8 432.4 379.5 432.1 380.1 431.9 377.9 431.6 378.8 431.4 377.2 431.1 376.4 430.9 375.5 430.6 375.4 430.4 374.8 430.1 375 429.9 374.2 429.6 372.6 429.4 372 429.1 371 428.9 370.8 428.6 368.9 428.4 371.1 428.1 372.1 427.9 369.7 427.6 368.3 427.4 367.8 427.1 367.8 426.9 367.2 426.6 365.7 426.4 366 426.1 365 425.9 364.3 425.6 363.4 425.4 361.1 425.1 362.1 424.9 361.4 424.6 359.9 424.4 358.7 424.1 359.4 423.9 359.2 423.6 359.7 423.4 359.2 423.1 360.8 422.9 360 422.6 360.6 422.4 360.7 422.1 359.9 421.9 362 421.6 359.9 421.4 358.3 421.1 360.2 420.9 360.3 420.6 361.6 420.4 361.4 420.1 362 419.9 362.6 419.6 362.9 419.4 364.8 419.1 365.7 418.9 365.8 418.6 365.2 418.4 367.6 418.1 369 417.9 370.6 417.6 370.7 417.4 370.6 417.1 371.3 416.9 371.2 416.6 372.7 416.4 371.9 416.1 370.6 415.9 370 415.6 369.8 415.4 369.7 415.1 370 414.9 368.8 414.6 368.6 414.4 369 414.1 368.5 413.9 368.7 413.6 368.9 413.4 367.7 413.1 366.2 412.9 367 412.6 366 412.4 365.1 412.1 364.2 411.9 364.4 411.6 362.9 411.4 361.9 411.1 361.1 410.9 361.2 410.6 359.9 410.4 358.6 410.1 358.1 409.9 358.8 409.6 360.7 409.4 360.3 409.1 359.2 408.9 360.3 408.6 359 408.4 359.8 408.1 358.9 407.9 361 407.6 359.8 407.4 360.2 407.1 357.6 406.9 359.1 406.6 358.4 406.4 358 406.1 357.7 405.9 359.3 405.6 359.5 405.4 359 405.1 358.5 404.9 357.9 404.6 355.7 404.4 355.7 404.1 356.5 403.9 356.1 403.6 355.3 403.4 355.6 403.1 355 402.9 356.4 402.6 355.4 402.4 356.1 402.1 356 401.9 355.4 401.6 356.1 401.4 356.4 401.1 354.4 400.9 356.5 400.6 357.2 400.4 355.9 400.1 356.4 399.9 356.8 399.6 355.1 399.4 356.5 399.1 358.1 398.9 355.4 398.6 354.5 398.4 354.4 398.1 353 397.9 353.2 397.6 352.4 397.4 350.9 397.1 350.4 396.9 349 396.6 348.6 396.4 349.1 396.1 347.8 395.9 346.8 395.6 347.1 395.4 346 395.1 344.3 394.9 343.9 394.6 342.7 394.4 341.3 394.1 340.8 393.9 341.5 393.6 341.4 393.4 338.5 393.1 337 392.9 335.6 392.6 336.9 392.4 335 392.1 336.4 391.9 335.5 391.6 335.4 391.4 333.6 391.1 333.3 390.9 334.1 390.6 334.6 390.4 334.4 390.1 335.5 389.9 335.6 389.6 337.2 389.4 336.4 389.1 336.3 388.9 335.6 388.6 336.2 388.4 336.3 388.1 334.3 387.9 336.5 387.6 337.6 387.4 339.3 387.1 339 386.9 338.5 386.6 339.8 386.4 342.2 386.1 343 385.9 342.2 385.6 341.9 385.4 342.6 385.1 342.8 384.9 343.3 384.6 345.1 384.4 345.5 384.1 345.2 383.9 345.2 383.6 347.1 383.4 346 383.1 345.1 382.9 345 382.6 343.4 382.4 344.7 382.1 342.7 381.9 342.8 381.6 341.5 381.4 341.9 381.1 343.8 380.9 344 380.6 342.6 380.4 342.2 380.1 340.6 379.9 341.6 379.6 339.2 379.4 339.1 379.1 337.8 378.9 336.9 378.6 337.7 378.4 337.4 378.1 337.9 377.9 338.1 377.6 335.6 377.4 335.8 377.1 337 376.9 337.4 376.6 336.5 376.4 335.2 376.1 333.6 375.9 335.1 375.6 335.5 375.4 332.9 375.1 334.7 374.9 334.2 374.6 335.6 374.4 336.1 374.1 335.8 373.9 336.3 373.6 338.2 373.4 337.7 373.1 336.6 372.9 337.4 372.6 338 372.4 336.7 372.1 335.9 371.9 333.7 371.6 332.2 371.4 331.7 371.1 331.1 370.9 331.4 370.6 331.7 370.4 330.8 370.1 332.1 369.9 330.8 369.6 331.8 369.4 330.5 369.1 329.6 368.9 330.7 368.6 331.3 368.4 331.1 368.1 333.3 367.9 331.2 367.6 331.8 367.4 331.6 367.1 331.8 366.9 331.7 366.6 332.1 366.4 332.7 366.1 332 365.9 332.9 365.6 332 365.4 331.5 365.1 330.9 364.9 330.1 364.6 328.8 364.4 328.6 364.1 326.7 363.9 326.8 363.6 326.9 363.4 326.6 363.1 324.7 362.9 324.5 362.6 323.9 362.4 322.4 362.1 320.9 361.9 320.5 361.6 322 361.4 322.7 361.1 322.5 360.9 321.2 360.6 319.6 360.4 319.2 360.1 319 359.9 317.7 359.6 315.9 359.4 315.1 359.1 314.9 358.9 315 358.6 315.4 358.4 314.2 358.1 314.5 357.9 315.3 357.6 315.7 357.4 315.5 357.1 315.1 356.9 316.1 356.6 314.3 356.4 313.9 356.1 315.4 355.9 316.3 355.6 316.1 355.4 316.3 355.1 316.7 354.9 319.3 354.6 318.9 354.4 320.1 354.1 320.5 353.9 321.8 353.6 322.9 353.4 323.1 353.1 322.4 352.9 323.2 352.6 323.5 352.4 323 352.1 323.2 351.9 324.1 351.6 326.3 351.4 326.7 351.1 327 350.9 327.9 350.6 329.8 350.4 328.1 350.1 327.3 349.9 325.8 349.6 326.5 349.4 325.8 349.1 326.1 348.9 325.4 348.6 326.9 348.4 326.2 348.1 325.8 347.9 325.2 347.6 324.9 347.4 324.3 347.1 326 346.9 324.5 346.6 324.4 346.4 324.5 346.1 323 345.9 323.7 345.6 323.4 345.4 323.6 345.1 322.1 344.9 321.1 344.6 319.3 344.4 320 344.1 320.7 343.9 322.1 343.6 321.4 343.4 321.8 343.1 320.7 342.9 320.5 342.6 319.4 342.4 318.8 342.1 322 341.9 320.7 341.6 319.1 341.4 318 341.1 318.1 340.9 317.3 340.6 316.8 340.4 316.6 340.1 314.6 339.9 314.3 339.6 313.5 339.4 314.8 339.1 311.5 338.9 312.1 338.6 311.5 338.4 312.4 338.1 311.6 337.9 309.2 337.6 309.7 337.4 309.6 337.1 308 336.9 309.7 336.6 308.7 336.4 308.1 336.1 310.6 335.9 307.8 335.6 307.1 335.4 305.9 335.1 303.7 334.9 305.8 334.6 305.3 334.4 303.5 334.1 303 333.9 303.1 333.6 302 333.4 300.8 333.1 301 332.9 300.4 332.6 298.3 332.4 298.3 332.1 295.5 331.9 295 331.6 294.1 331.4 293.3 331.1 293.3 330.9 290.9 330.6 289.1 330.4 288.8 330.1 287.8 329.9 287.9 329.6 288.2 329.4 288.3 329.1 286.7 328.9 285.2 328.6 283.8 328.4 285.5 328.1 284.4 327.9 283.2 327.6 281.7 327.4 280.2 327.1 278.9 326.9 278.3 326.6 277.8 326.4 276.5 326.1 275.7 325.9 273.5 325.6 272.8 325.4 271.8 325.1 271.9 324.9 269.3 324.6 270.6 324.4 270.5 324.1 270 323.9 268.9 323.6 268.4 323.4 268.4 323.1 269.5 322.9 269.4 322.6 267.6 322.4 268.1 322.1 268.6 321.9 268.7 321.6 269.5 321.4 268.1 321.1 268.3 320.9 269.1 320.6 267.9 320.4 268.8 320.1 268.5 319.9 268.9 319.6 270.3 319.4 270 319.1 270.8 318.9 269.6 318.6 270.5 318.4 268.9 318.1 269.5 317.9 269.2 317.6 266.2 317.4 263.3 317.1 263.2 316.9 261.8 316.6 261.7 316.4 261.2 316.1 260.5 315.9 258.4 315.6 257.9 315.4 258 315.1 256.7 314.9 255.6 314.6 254.4 314.4 253.1 314.1 252.5 313.9 250.9 313.6 252.3 313.4 250.1 313.1 249.7 312.9 248.9 312.6 247 312.4 247.3 312.1 247.5 311.9 244.4 311.6 243.1 311.4 241.8 311.1 240.8 310.9 239.8 310.6 238.2 310.4 237.3 310.1 237.6 309.9 236.2 309.6 235.8 309.4 235.6 309.1 233.7 308.9 233 308.6 231.5 308.4 231.9 308.1 231.7 307.9 231.3 307.6 230.9 307.4 229.4 307.1 229 306.9 225.5 306.6 224.4 306.4 222.9 306.1 220.4 305.9 220.2 305.6 220.8 305.4 219.4 305.1 218.8 304.9 219 304.6 217.5 304.4 216.2 304.1 216.1 303.9 214.8 303.6 212 303.4 210.5 303.1 207.6 302.9 208.5 302.6 207.6 302.4 208.9 302.1 207.3 301.9 208.5 301.6 208.1 301.4 205.3 301.1 203.6 300.9 201.7 300.6 201.7 300.4 201.1 300.1 199.7 299.9 199.7 299.6 197.8 299.4 196.1 299.1 196.1 298.9 192.3 298.6 191.5 298.4 189.9 298.1 188.3 297.9 187.7 297.6 188 297.4 187 297.1 186.2 296.9 185 296.6 183.7 296.4 182.8 296.1 182.2 295.9 180.6 295.6 179.5 295.4 177.4 295.1 176.4 294.9 173.7 294.6 172.1 294.4 171 294.1 171.5 293.9 168.4 293.6 167.3 293.4 164.3 293.1 164 292.9 161.1 292.6 158.3 292.4 155.8 292.1 154.2 291.9 154.1 291.6 157 291.4 157.3 291.1 160 290.9 161.6 290.6 163.7 290.4 166.8 290.1 169.6 289.9 171.8 289.6 174.4 289.4 175.5 289.1 177.4 288.9 179.2 288.6 181.3 288.4 183.2 288.1 184.2 287.9 186.3 287.6 188.2 287.4 190.3 287.1 191.9 286.9 194.3 286.6 197.1 286.4 199.1 286.1 200.4 285.9 204.3 285.6 204.8 285.4 208.2 285.1 209.5 284.9 211 284.6 213.4 284.4 213.3 284.1 212.8 283.9 215.7 283.6 215.2 283.4 215.6 283.1 216.1 282.9 217.5 282.6 217.8 282.4 219.6 282.1 221.1 281.9 222.3 281.6 224.2 281.4 223.8 281.1 226.1 280.9 227.4 280.6 228.4 280.4 229.7 280.1 228.6 279.9 230.4 279.6 231.6 279.4 232.5 279.1 233 278.9 234.2 278.6 236.7 278.4 238.2 278.1 238.3 277.9 238.8 277.6 241 277.4 243 277.1 245.2 276.9 246.1 276.6 248.7 276.4 250.4 276.1 252.9 275.9 254.9 275.6 255 275.4 256.4 275.1 257.1 274.9 256.5 274.6 260 274.4 262.7 274.1 262.4 273.9 264.7 273.6 266 273.4 266.5 273.1 267.1 272.9 268 272.6 271.2 272.4 273.1 272.1 273 271.9 275.1 271.6 277.3 271.4 277.2 271.1 279.6 270.9 280.2 270.6 281.6 270.4 282.9 270.1 284.7 269.9 284.9 269.6 287.4 269.4 288.1 269.1 289.4 268.9 291.5 268.6 292.1 268.4 293 268.1 294.3 267.9 295 267.6 295.5 267.4 295.2 267.1 298.2 266.9 298.9 266.6 300 266.4 300.3 266.1 300.8 265.9 303.6 265.6 304.6 265.4 305.9 265.1 306.9 264.9 307.4 264.6 308.6 264.4 308.5 264.1 310.7 263.9 312.7 263.6 313.4 263.4 314.6 263.1 314.4 262.9 314.4 262.6 313.7 262.4 314.1 262.1 314.7 261.9 315.6 261.6 316.1 261.4 316 261.1 314.2 260.9 316.4 260.6 316.2 260.4 318.1 260.1 317.2 259.9 319.4 259.6 320.1 259.4 322.9 259.1 323.6 258.9 325.1 258.6 327.2 258.4 328.8 258.1 330.3 257.9 330.6 257.6 331.8 257.4 333.8 257.1 335.3 256.9 338.3 256.6 340 256.4 340.4 256.1 341.3 255.8 344 255.6 346.4 255.3 348.2 255.1 348.8 254.8 351.3 254.6 353.1 254.3 354.7 254.1 356.4 253.8 357.7 253.6 359.6 253.3 361.3 253.1 364.3 252.8 365.5 252.6 368.4 252.3 371 252.1 375.4 251.8 376.9 251.6 376.1 251.3 377.4 251.1 379.4 250.8 379.7 250.6 381.1 250.3 383 250.1 383.4 249.8 386.5 249.6 388.1 249.3 389.5 249.1 389.3 248.8 388.8 248.6 389.3 248.3 392.3 248.1 392.5 247.8 392.5 247.6 394.3 247.3 395.9 247.1 395.3 246.8 396.7 246.6 398.8 246.3 399.9 246.1 399.4 245.8 401 245.6 401.6 245.3 402.8 245.1 404.9 244.8 405.3 244.6 406.1 244.3 407.3 244.1 409 243.8 410.2 243.6 410.3 243.3 411.3 243.1 412.2 242.8 414.8 242.6 417 242.3 417.2 242.1 419.3 241.8 419.1 241.6 419.4 241.3 421.7 241.1 422.4 240.8 424.6 240.6 425.7 240.3 424.5 240.1 425.7 239.8 426.4 239.6 425.7 239.3 425.7 239.1 428 238.8 429.3 238.6 430.3 238.3 429.5 238.1 430.4 237.8 431.9 237.6 433.2 237.3 431.7 237.1 433.3 236.8 435.4 236.6 435.9 236.3 437.6 236.1 436.3 235.8 438.1 235.6 438.9 235.3 437.5 235.1 438.8 234.8 439.2 234.6 440.4 234.3 440.7 234.1 440.4 233.8 441.1 233.6 441.3 233.3 443.2 233.1 445.8 232.8 445.5 232.6 446.2 232.3 447.8 232.1 447.3 231.8 447.5 231.6 447.7 231.3 448.4 231.1 447.8 230.8 447.2 230.6 449 230.3 446 230.1 447 229.8 448 229.6 447.3 229.3 447.6 229.1 446.3 228.8 447 228.6 448.3 228.3 448.9 228.1 448 227.8 447 227.6 448.8 227.3 447.8 227.1 448.7 226.8 449.2 226.6 449.5 226.3 448.6 226.1 450.2 225.8 451.1 225.6 452.3 225.3 452.3 225.1 452.5 224.8 453.8 224.6 453.2 224.3 452.7 224.1 453.2 223.8 453.2 223.6 452.5 223.3 453.3 223.1 455 222.8 456.5 222.6 458.5 222.3 460.7 222.1 461.3 221.8 464.4 221.6 467.9 221.3 469.1 221.1 470.6 220.8 471.4 220.6 473.5 220.3 475.6 220.1 476.6 219.8 479.3 219.6 480.8 219.3 480.9 219.1 481.5 218.8 480.7 218.6 480.6 218.3 482.1 218.1 485.3 217.8 484.3 217.6 483.4 217.3 483.7 217.1 482.6 216.8 483.7 216.6 483.9 216.3 485.4 216.1 484 215.8 484.1 215.6 484.9 215.3 484.8 215.1 488.4 214.8 487.8 214.6 488.9 214.3 489.5 214.1 490.2 213.8 488.6 213.6 491.6 213.3 492 213.1 493.5 212.8 491.9 212.6 494.3 212.3 494.2 212.1 493.2 211.8 493.2 211.6 492.8 211.3 494.5 211.1 492.8 210.8 493.2 210.6 492.8 210.3 494.3 210.1 493.5 209.8 494 209.6 494.9 209.3 496.4 209.1 496.6 208.8 496.1 208.6 497.4 208.3 496.4 208.1 497.7 207.8 495.6 207.6 495.4 207.3 496.7 207.1 498 206.8 498.3 206.6 497.1 206.3 497.1 206.1 500.3 205.8 500.6 205.6 500.4 205.3 500.5 205.1 499.6 204.8 498.5 204.6 498.9 204.3 498.6 204.1 499.1 203.8 498.1 203.6 499.4 203.3 499.5 203.1 501.7 202.8 500.2 202.6 500.8 202.3 501.3 202.1 502.5 201.8 503.1 201.6 502.7 201.3 502.7 201.1 503 200.8 503.8 200.6 504.4 200.3 504.6 200.1 505.3 199.8 505 199.6 505 199.3 503.5 199.1 505.4 198.8 504.4 198.6 505.1 198.3 504 198.1 502 197.8 503 197.6 503.4 197.3 502.2 197.1 502.6 196.8 500.9 196.6 501.5 196.3 502 196.1 502.5 195.8 499.8 195.6 499.4 195.3 497.1 195.1 496.7 194.8 494.4 194.6 493.4 194.3 491.8 194.1 493.4 193.8 492.2 193.6 493.2 193.3 494.5 193.1 495.5 192.8 496.3 192.6 495.8 192.3 495.1 192.1 496.2 191.8 495.2 191.6 496.7 191.3 495.8 191.1 496.3 190.8 497.1 190.6 497.3 190.3 497.7 190.1 499.4 189.8 501.2 189.6 500 189.3 500.6 189.1 502.8 188.8 501.8 188.6 501.3 188.3 502.8 188.1 503.2 187.8 505.4 187.6 505 187.3 505.2 187.1 506.6 186.8 509.6 186.6 512.2 186.3 513.8 186.1 514.5 185.8 516.3 185.6 517.8 185.3 517.1 185.1 516.5 184.8 516.8 184.6 515.7 184.3 516.2 184.1 516.4 183.8 516.4 183.6 517.2 183.3 514.6 183.1 515.1 182.8 515 182.6 516.5 182.3 516.3 182.1 515.9 181.8 514.8 181.6 515.2 181.3 516.2 181.1 516.1 180.8 515.1 180.6 515.4 180.3 514.3 180.1 515.1 179.8 516.2 179.6 516.4 179.3 516.7 179.1 514.8 178.8 514.5 178.6 513 178.3 513.1 178.1 513.2 177.8 513.4 177.6 512.2 177.3 511 177.1 512.1 176.8 511.9 176.6 514.5 176.3 513.5 176.1 514.9 175.8 515 175.6 513 175.3 513.5 175.1 515.1 174.8 514.8 174.6 515.8 174.3 514.6 174.1 516 173.8 515.5 173.6 515.9 173.3 515 173.1 515.5 172.8 515.9 172.6 515.6 172.3 513.2 172.1 511.6 171.8 510.5 171.6 511.3 171.3 511.3 171.1 513 170.8 510.1 170.6 510.9 170.3 511.6 170.1 510.5 169.8 511 169.6 512.5 169.3 511.5 169.1 512.7 168.8 513.4 168.6 514 168.3 514.2 168.1 512 167.8 511.8 167.6 511.7 167.3 512 167.1 511.3 166.8 511 166.6 509.4 166.3 509.7 166.1 508.1 165.8 507.3 165.6 506.3 165.3 506.5 165.1 505.3 164.8 504.7 164.6 506.9 164.3 505.1 164.1 503.2 163.8 502.8 163.6 502.1 163.3 502.4 163.1 501.3 162.8 501.7 162.6 499.2 162.3 498.6 162.1 496.5 161.8 494.6 161.6 493.5 161.3 493.9 161.1 494.7 160.8 493.5 160.6 493.7 160.3 493.2 160.1 493.7 159.8 491.9 159.6 490.3 159.3 490.9 159.1 492.9 158.8 492.2 158.6 493.1 158.3 492.6 158.1 490.7 157.8 492 157.6 492 157.3 493 157.1 492.9 156.8 495.5 156.6 495.6 156.3 496.7 156.1 498.2 155.8 498.8 155.6 500 155.3 500.5 155.1 500.7 154.8 501.4 154.6 500.3 154.3 501.9 154.1 503.6 153.8 503.9 153.6 505.6 153.3 505 153.1 506.3 152.8 506.5 152.6 504.5 152.3 504.4 152.1 503.9 151.8 502 151.6 503.3 151.3 502.6 151.1 503 150.8 499.9 150.6 500 150.3 498.5 150.1 499.7 149.8 498.5 149.6 497.8 149.3 498.3 149.1 498.5 148.8 499.3 148.6 497.6 148.3 496.9 148.1 498.2 147.8 498.3 147.6 498 147.3 497.1 147.1 495.4 146.8 495.4 146.6 495.1 146.3 496.8 146.1 496.9 145.8 495.5 145.6 494.3 145.3 493.5 145.1 494.4 144.8 494.4 144.6 493.5 144.3 492.2 144.1 491 143.8 493.5 143.6 492.6 143.3 493.3 143.1 494.4 142.8 495.2 142.6 496.3 142.3 496.1 142.1 497.7 141.8 498.6 141.6 497 141.3 498.1 141.1 498.2 140.8 496.9 140.6 495.5 140.3 495.5 140.1 495.2 139.8 493.4 139.6 492.6 139.3 492.7 139.1 491.8 138.8 492.9 138.6 492.6 138.3 493 138.1 492.6 137.8 492.4 137.6 492.7 137.3 493.3 137.1 491.6 136.8 492 136.6 492.5 136.3 493.4 136.1 495.9 135.8 495.2 135.6 494.3 135.3 495.4 135.1 496.3 134.8 495.4 134.6 494.3 134.3 493.6 134.1 491.2 133.8 490.5 133.6 490.1 133.3 488.2 133.1 488.5 132.8 487.3 132.6 485.3 132.3 485.8 132.1 486.6 131.8 486.7 131.6 488.1 131.3 486.2 131.1 486.2 130.8 485.4 130.6 486.7 130.3 485.5 130.1 485.3 129.8 482.2 129.6 479.6 129.3 478.1 129.1 477 128.8 473.9 128.6 473.2 128.3 472.4 128.1 472 127.8 473.2 127.6 474.4 127.3 474.2 127.1 473.2 126.8 474.1 126.6 471.3 126.3 471.5 126.1 471.2 125.8 471.6 125.6 472.8 125.3 473.7 125.1 473.7 124.8 473.6 124.6 473.3 124.3 472.9 124.1 473.3 123.8 474.8 123.6 477.3 123.3 476.8 123.1 474.9 122.8 476.2 122.6 475.5 122.3 476.4 122.1 477.1 121.8 479.2 121.6 479.8 121.3 481 121.1 482.8 120.8 483.6 120.6 486Z" fill="#0072B2" fill-opacity="0.2" stroke="#0072B2" stroke-opacity="0.27" stroke-width="1.39" stroke-linejoin="round"/>
<path d="M81.5 17.5V542.5M213.5 17.5V542.5M345.5 17.5V542.5M478.5 17.5V542.5M610.5 17.5V542.5M742.5 17.5V542.5M874.5 17.5V542.5" stroke="#808080" stroke-opacity="0.22" stroke-width="1.15" fill="none"/>
<path d="M80.5 509.5H985.5M80.5 440.5H985.5M80.5 370.5H985.5M80.5 300.5H985.5M80.5 230.5H985.5M80.5 160.5H985.5M80.5 91.5H985.5M80.5 21.5H985.5" stroke="#808080" stroke-opacity="0.22" stroke-width="1.15" fill="none"/>
<path d="M120.6 467.7h0M120.7 466h0M120.9 462.9h0M121 462.8h0M121.1 460.7h0M121.2 459.4h0M121.4 459.2h0M121.5 459.3h0M121.6 460.7h0M121.7 462h0M121.9 462.2h0M122 463.3h0M122.1 463.2h0M122.3 464.5h0M122.4 465h0M122.5 465.3h0M122.6 463.6h0M122.8 461.2h0M122.9 458.4h0M123 459.9h0M123.1 459.5h0M123.3 457.4h0M123.4 455h0M123.5 453.1h0M123.6 451.4h0M123.8 450h0M123.9 447.6h0M124 447.1h0M124.2 445.8h0M124.3 445.2h0M124.4 444.3h0M124.5 445.8h0M124.7 445.5h0M124.8 446.1h0M124.9 443.6h0M125 445h0M125.2 445.3h0M125.3 446.1h0M125.4 446.9h0M125.6 447.5h0M125.7 447h0M125.8 445.4h0M125.9 443.9h0M126.1 443.6h0M126.2 442.6h0M126.3 442.2h0M126.4 440.8h0M126.6 442h0M126.7 442.5h0M126.8 443.9h0M126.9 444h0M127.1 443.3h0M127.2 442.6h0M127.3 442.7h0M127.5 441.5h0M127.6 441.9h0M127.7 442.7h0M127.8 442.5h0M128 443.2h0M128.1 444.5h0M128.2 445.3h0M128.3 446.6h0M128.5 446.3h0M128.6 445.4h0M128.7 443.8h0M128.9 442.5h0M129 442.8h0M129.1 443h0M129.2 443.7h0M129.4 443.7h0M129.5 443.3h0M129.6 444.2h0M129.7 444.7h0M129.9 446.2h0M130 447.4h0M130.1 450.1h0M130.3 451.1h0M130.4 451.9h0M130.5 453.1h0M130.6 451.3h0M130.8 450h0M130.9 450.4h0M131 449.5h0M131.1 450.9h0M131.3 452.8h0M131.4 453.6h0M131.5 455.2h0M131.6 457h0M131.8 456.9h0M131.9 457.8h0M132 456.8h0M132.2 456.2h0M132.3 454.8h0M132.4 454.2h0M132.5 453.3h0M132.7 452.8h0M132.8 453.1h0M132.9 451.7h0M133 453.2h0M133.2 454.4h0M133.3 454.6h0M133.4 456.4h0M133.6 458.4h0M133.7 459.9h0M133.8 461h0M133.9 462.9h0M134.1 464.1h0M134.2 465.3h0M134.3 465.1h0M134.4 466.1h0M134.6 466.2h0M134.7 467.7h0M134.8 467.6h0M135 466.9h0M135.1 468.5h0M135.2 468.3h0M135.3 468h0M135.5 466.4h0M135.6 465.9h0M135.7 466.9h0M135.8 464.5h0M136 464.1h0M136.1 462.7h0M136.2 462.6h0M136.3 464.1h0M136.5 464.7h0M136.6 466.9h0M136.7 467.8h0M136.9 469.1h0M137 469.7h0M137.1 472.4h0M137.2 471.7h0M137.4 468.8h0M137.5 468.9h0M137.6 467.4h0M137.7 465.6h0M137.9 464h0M138 463.2h0M138.1 464.9h0M138.3 465h0M138.4 464.9h0M138.5 466.5h0M138.6 466.2h0M138.8 467.8h0M138.9 468.1h0M139 468.7h0M139.1 469.5h0M139.3 469.8h0M139.4 471h0M139.5 470.2h0M139.6 470h0M139.8 468.8h0M139.9 469.2h0M140 470.2h0M140.2 470.7h0M140.3 469.3h0M140.4 467.9h0M140.5 465.6h0M140.7 464.7h0M140.8 462.7h0M140.9 461.8h0M141 460.8h0M141.2 462.1h0M141.3 464.1h0M141.4 465.1h0M141.6 467.4h0M141.7 469.3h0M141.8 471h0M141.9 472.4h0M142.1 473.4h0M142.2 471.4h0M142.3 469.7h0M142.4 469h0M142.6 466.4h0M142.7 465.1h0M142.8 464.4h0M143 460.9h0M143.1 460h0M143.2 458.8h0M143.3 456h0M143.5 455h0M143.6 453.4h0M143.7 451.6h0M143.8 453.7h0M144 457.2h0M144.1 457.6h0M144.2 460.2h0M144.3 461.8h0M144.5 463.8h0M144.6 465.9h0M144.7 468.7h0M144.9 470h0M145 471.2h0M145.1 472.6h0M145.2 471.1h0M145.4 468.5h0M145.5 465.5h0M145.6 464.1h0M145.7 462.3h0M145.9 461.3h0M146 458.1h0M146.1 456.9h0M146.3 455.6h0M146.4 455.1h0M146.5 457.3h0M146.6 456.7h0M146.8 457.2h0M146.9 458.5h0M147 456.9h0M147.1 457.8h0M147.3 460.5h0M147.4 461.6h0M147.5 462.5h0M147.7 464.5h0M147.8 465.4h0M147.9 467.8h0M148 465h0M148.2 464.7h0M148.3 465h0M148.4 465.5h0M148.5 468.1h0M148.7 471h0M148.8 473h0M148.9 474.5h0M149 475.5h0M149.2 477.8h0M149.3 479.2h0M149.4 477.4h0M149.6 477.5h0M149.7 477.3h0M149.8 476.1h0M149.9 474.1h0M150.1 474h0M150.2 472.3h0M150.3 477.2h0M150.4 480h0M150.6 484.4h0M150.7 487.2h0M150.8 490.6h0M151 493.6h0M151.1 493.2h0M151.2 492.1h0M151.3 491.9h0M151.5 489.6h0M151.6 489.1h0M151.7 487.6h0M151.8 488h0M152 486.1h0M152.1 487.6h0M152.2 489h0M152.3 489.9h0M152.5 491.3h0M152.6 492.3h0M152.7 491.6h0M152.9 494h0M153 495h0M153.1 492.9h0M153.2 491.5h0M153.4 489.2h0M153.5 488.7h0M153.6 488.3h0M153.7 488.6h0M153.9 486.4h0M154 485.5h0M154.1 483.8h0M154.3 482h0M154.4 481.1h0M154.5 480.9h0M154.6 481.5h0M154.8 481.5h0M154.9 482.6h0M155 483.6h0M155.1 484h0M155.3 485.9h0M155.4 485h0M155.5 485.1h0M155.7 483h0M155.8 479.6h0M155.9 480.1h0M156 480.7h0M156.2 480.6h0M156.3 480.6h0M156.4 480.3h0M156.5 478.1h0M156.7 476h0M156.8 474.2h0M156.9 472.8h0M157 471.2h0M157.2 471.6h0M157.3 472.3h0M157.4 471.5h0M157.6 472.5h0M157.7 472.4h0M157.8 471.6h0M157.9 472.8h0M158.1 470.2h0M158.2 468.9h0M158.3 467.8h0M158.4 467.8h0M158.6 468.2h0M158.7 469.9h0M158.8 468.6h0M159 467.2h0M159.1 465.9h0M159.2 465h0M159.3 463.5h0M159.5 463.4h0M159.6 464.2h0M159.7 466h0M159.8 467.6h0M160 468.1h0M160.1 469.6h0M160.2 469.2h0M160.4 469.9h0M160.5 470.9h0M160.6 470.8h0M160.7 472.4h0M160.9 469.9h0M161 468.4h0M161.1 468.1h0M161.2 468.5h0M161.4 470.4h0M161.5 469.4h0M161.6 468.1h0M161.7 467.1h0M161.9 466.8h0M162 468.6h0M162.1 469.2h0M162.3 469.4h0M162.4 470.2h0M162.5 471.8h0M162.6 471.2h0M162.8 470.2h0M162.9 470.5h0M163 472.1h0M163.1 473.4h0M163.3 472.3h0M163.4 471.2h0M163.5 470.9h0M163.7 469.2h0M163.8 468.6h0M163.9 467.7h0M164 466.8h0M164.2 466.3h0M164.3 464.3h0M164.4 465.9h0M164.5 465.7h0M164.7 467h0M164.8 469.9h0M164.9 470.5h0M165 471.3h0M165.2 473.1h0M165.3 474.6h0M165.4 475.4h0M165.6 474.6h0M165.7 472.6h0M165.8 472.5h0M165.9 471.8h0M166.1 470.4h0M166.2 472.8h0M166.3 473.8h0M166.4 474.5h0M166.6 474.8h0M166.7 476.4h0M166.8 475.8h0M167 474.5h0M167.1 472h0M167.2 472.2h0M167.3 471.2h0M167.5 470.2h0M167.6 469.9h0M167.7 468.7h0M167.8 470h0M168 471.4h0M168.1 472.3h0M168.2 473.8h0M168.4 474.7h0M168.5 475.7h0M168.6 476.6h0M168.7 478.2h0M168.9 479.1h0M169 478.7h0M169.1 479.5h0M169.2 477.8h0M169.4 478.3h0M169.5 479.3h0M169.6 478.4h0M169.7 477.8h0M169.9 475.4h0M170 475.5h0M170.1 474.1h0M170.3 473.3h0M170.4 472.2h0M170.5 473.3h0M170.6 475.5h0M170.8 476h0M170.9 476.6h0M171 478.3h0M171.1 477.6h0M171.3 479.7h0M171.4 480.3h0M171.5 481.8h0M171.7 482.7h0M171.8 483.3h0M171.9 482.2h0M172 481.8h0M172.2 479.3h0M172.3 479.6h0M172.4 478.5h0M172.5 477.4h0M172.7 475.7h0M172.8 475.4h0M172.9 473.4h0M173.1 473.2h0M173.2 474.6h0M173.3 475h0M173.4 476.3h0M173.6 478h0M173.7 478.6h0M173.8 480.3h0M173.9 479.5h0M174.1 481.4h0M174.2 483h0M174.3 482.9h0M174.4 485.2h0M174.6 486.5h0M174.7 485.7h0M174.8 484.9h0M175 484.9h0M175.1 483.2h0M175.2 482.7h0M175.3 481.9h0M175.5 480.7h0M175.6 479.4h0M175.7 479.1h0M175.8 478.3h0M176 480.3h0M176.1 482.7h0M176.2 482.6h0M176.4 484.6h0M176.5 485.8h0M176.6 486.6h0M176.7 489h0M176.9 491.4h0M177 493.9h0M177.1 493.6h0M177.2 493.3h0M177.4 492.3h0M177.5 493.2h0M177.6 494.7h0M177.7 495h0M177.9 494.7h0M178 494.2h0M178.1 493.5h0M178.3 494.3h0M178.4 497.1h0M178.5 496.9h0M178.6 496h0M178.8 494.7h0M178.9 494.9h0M179 493.9h0M179.1 493.5h0M179.3 493h0M179.4 492.1h0M179.5 490.2h0M179.7 490h0M179.8 489.3h0M179.9 489.8h0M180 491.6h0M180.2 492.1h0M180.3 493.7h0M180.4 494.1h0M180.5 495.3h0M180.7 496.7h0M180.8 497.8h0M180.9 497.7h0M181.1 496.1h0M181.2 494.7h0M181.3 493.1h0M181.4 492.8h0M181.6 492h0M181.7 492.2h0M181.8 492.6h0M181.9 491.8h0M182.1 492.3h0M182.2 491.9h0M182.3 493.2h0M182.4 493.5h0M182.6 491.8h0M182.7 493.5h0M182.8 493.6h0M183 495h0M183.1 496.5h0M183.2 495.1h0M183.3 494.6h0M183.5 494.8h0M183.6 493.4h0M183.7 492.6h0M183.8 492.9h0M184 492.7h0M184.1 493.2h0M184.2 494.1h0M184.4 495.7h0M184.5 496.4h0M184.6 496.2h0M184.7 497.4h0M184.9 498.2h0M185 498.9h0M185.1 496.6h0M185.2 496.9h0M185.4 495.2h0M185.5 494.1h0M185.6 495.7h0M185.8 496.8h0M185.9 498.7h0M186 497.5h0M186.1 497.2h0M186.3 496.3h0M186.4 494.7h0M186.5 495h0M186.6 494.8h0M186.8 496h0M186.9 496.4h0M187 497.6h0M187.1 498.6h0M187.3 499.8h0M187.4 498h0M187.5 498.9h0M187.7 496.7h0M187.8 496.5h0M187.9 496.2h0M188 494.8h0M188.2 493.1h0M188.3 492.9h0M188.4 493.8h0M188.5 494h0M188.7 494.8h0M188.8 495.8h0M188.9 496.4h0M189.1 498.7h0M189.2 498.9h0M189.3 499.5h0M189.4 499.2h0M189.6 497.8h0M189.7 496.7h0M189.8 495.2h0M189.9 495.3h0M190.1 493.8h0M190.2 493h0M190.3 492.1h0M190.4 493.1h0M190.6 493.4h0M190.7 494.7h0M190.8 494.8h0M191 496.8h0M191.1 497.2h0M191.2 497.5h0M191.3 496.8h0M191.5 497.2h0M191.6 496.3h0M191.7 495h0M191.8 493.5h0M192 494.7h0M192.1 494.9h0M192.2 494.1h0M192.4 495.8h0M192.5 496.3h0M192.6 495.4h0M192.7 493.6h0M192.9 493.7h0M193 492.8h0M193.1 490.4h0M193.2 489.2h0M193.4 488.9h0M193.5 486.8h0M193.6 485.7h0M193.8 485.8h0M193.9 486h0M194 486.3h0M194.1 487.3h0M194.3 487.6h0M194.4 488h0M194.5 488.9h0M194.6 487.6h0M194.8 486.9h0M194.9 484.7h0M195 483.9h0M195.1 483.1h0M195.3 483.1h0M195.4 483.2h0M195.5 483.8h0M195.7 485.4h0M195.8 485.8h0M195.9 484.8h0M196 484.7h0M196.2 482.6h0M196.3 481.2h0M196.4 481h0M196.5 482.4h0M196.7 483.2h0M196.8 484.9h0M196.9 486.1h0M197.1 486.1h0M197.2 487.7h0M197.3 488.2h0M197.4 488.4h0M197.6 488.2h0M197.7 487.3h0M197.8 486.4h0M197.9 485.3h0M198.1 484.6h0M198.2 483.6h0M198.3 483.5h0M198.5 483.6h0M198.6 484.2h0M198.7 484.8h0M198.8 483.9h0M199 483.4h0M199.1 483.3h0M199.2 482.4h0M199.3 481.2h0M199.5 479.7h0M199.6 479.3h0M199.7 481h0M199.8 481.2h0M200 482.6h0M200.1 482.6h0M200.2 482.3h0M200.4 481.4h0M200.5 481.2h0M200.6 478.4h0M200.7 478.7h0M200.9 477.8h0M201 476.4h0M201.1 476.9h0M201.2 477.5h0M201.4 478h0M201.5 477.7h0M201.6 478.8h0M201.8 477.2h0M201.9 475.6h0M202 475.5h0M202.1 473.2h0M202.3 474.2h0M202.4 474.5h0M202.5 475.4h0M202.6 475.5h0M202.8 476.6h0M202.9 476.8h0M203 478.5h0M203.1 478.8h0M203.3 478.1h0M203.4 475.9h0M203.5 475.2h0M203.7 474.2h0M203.8 472.4h0M203.9 470.9h0M204 470.7h0M204.2 468.2h0M204.3 469.7h0M204.4 471h0M204.5 470.9h0M204.7 471.9h0M204.8 472.2h0M204.9 470.1h0M205.1 471.2h0M205.2 471.3h0M205.3 472.8h0M205.4 474h0M205.6 477h0M205.7 477.2h0M205.8 477.6h0M205.9 476.3h0M206.1 476.5h0M206.2 476.7h0M206.3 475.4h0M206.5 474h0M206.6 473.4h0M206.7 472.2h0M206.8 472.2h0M207 470.9h0M207.1 472.9h0M207.2 474.8h0M207.3 475.9h0M207.5 478h0M207.6 479.6h0M207.7 481.3h0M207.8 482.8h0M208 484.3h0M208.1 486.4h0M208.2 485.8h0M208.4 487h0M208.5 485.3h0M208.6 485h0M208.7 485h0M208.9 485.2h0M209 485.2h0M209.1 483.6h0M209.2 481.6h0M209.4 480.8h0M209.5 480.3h0M209.6 480h0M209.8 481h0M209.9 482.6h0M210 483h0M210.1 485.3h0M210.3 485.4h0M210.4 487.1h0M210.5 488.2h0M210.6 488.3h0M210.8 490.2h0M210.9 490.2h0M211 489.5h0M211.2 489.9h0M211.3 489.1h0M211.4 489.5h0M211.5 488.5h0M211.7 487.4h0M211.8 485.9h0M211.9 485.3h0M212 484.1h0M212.2 483.3h0M212.3 484.8h0M212.4 485.3h0M212.5 487.3h0M212.7 487.4h0M212.8 487.7h0M212.9 488.6h0M213.1 489h0M213.2 486.2h0M213.3 485.8h0M213.4 486h0M213.6 484.4h0M213.7 483.7h0M213.8 482.8h0M213.9 483h0M214.1 482h0M214.2 480.3h0M214.3 481.4h0M214.5 481.7h0M214.6 481.6h0M214.7 482.7h0M214.8 483.7h0M215 481.4h0M215.1 478.5h0M215.2 477.4h0M215.3 475.8h0M215.5 474.9h0M215.6 475.7h0M215.7 476.4h0M215.8 475.8h0M216 476.1h0M216.1 475.9h0M216.2 475.3h0M216.4 476h0M216.5 474.9h0M216.6 473.9h0M216.7 469.8h0M216.9 464.4h0M217 460.4h0M217.1 458.2h0M217.2 457.3h0M217.4 453h0M217.5 449.9h0M217.6 449.4h0M217.8 450.2h0M217.9 448.2h0M218 446.4h0M218.1 446.3h0M218.3 446.8h0M218.4 444.8h0M218.5 443.5h0M218.6 442.2h0M218.8 440.8h0M218.9 440.1h0M219 438.8h0M219.2 436.6h0M219.3 435.3h0M219.4 433.2h0M219.5 431.6h0M219.7 429.9h0M219.8 428.4h0M219.9 429.9h0M220 429.6h0M220.2 428h0M220.3 426.8h0M220.4 425.7h0M220.5 425.7h0M220.7 426.6h0M220.8 427.1h0M220.9 426.1h0M221.1 422.9h0M221.2 422.8h0M221.3 422.9h0M221.4 423.8h0M221.6 424.5h0M221.7 425.2h0M221.8 425.3h0M221.9 427h0M222.1 426.6h0M222.2 426.6h0M222.3 425.6h0M222.5 423.8h0M222.6 422.1h0M222.7 420.6h0M222.8 418.1h0M223 416.9h0M223.1 416.4h0M223.2 413.7h0M223.3 412h0M223.5 410.2h0M223.6 412.2h0M223.7 411.7h0M223.9 413.3h0M224 411.4h0M224.1 410.8h0M224.2 408h0M224.4 407.2h0M224.5 406.2h0M224.6 407.3h0M224.7 406.7h0M224.9 408h0M225 408.9h0M225.1 408.5h0M225.2 411.2h0M225.4 412.3h0M225.5 412.5h0M225.6 410.5h0M225.8 407.2h0M225.9 405.9h0M226 405.8h0M226.1 407.7h0M226.3 408.1h0M226.4 410.1h0M226.5 408.6h0M226.6 407.4h0M226.8 405.4h0M226.9 403.8h0M227 402.5h0M227.2 400.1h0M227.3 399.1h0M227.4 399.2h0M227.5 400h0M227.7 398.2h0M227.8 399.3h0M227.9 401.5h0M228 401.6h0M228.2 403.4h0M228.3 404.7h0M228.4 405.2h0M228.5 404h0M228.7 402.3h0M228.8 400.7h0M228.9 399.6h0M229.1 399.3h0M229.2 397.5h0M229.3 395.1h0M229.4 394.2h0M229.6 393h0M229.7 394.3h0M229.8 393.1h0M229.9 391.2h0M230.1 392.6h0M230.2 393h0M230.3 395.7h0M230.5 397.2h0M230.6 398.3h0M230.7 399.8h0M230.8 400.8h0M231 402.3h0M231.1 402.4h0M231.2 403.3h0M231.3 399.6h0M231.5 399.2h0M231.6 398.8h0M231.7 397.6h0M231.9 396.4h0M232 395.6h0M232.1 397.5h0M232.2 399.4h0M232.4 399.5h0M232.5 399.6h0M232.6 397.7h0M232.7 396.2h0M232.9 398.1h0M233 401h0M233.1 402h0M233.2 403h0M233.4 404.4h0M233.5 405.1h0M233.6 406.1h0M233.8 407.2h0M233.9 409.6h0M234 412h0M234.1 411.1h0M234.3 409.6h0M234.4 409.1h0M234.5 405.1h0M234.6 403.3h0M234.8 400.6h0M234.9 398.4h0M235 397h0M235.2 394.3h0M235.3 391.8h0M235.4 391.2h0M235.5 392.2h0M235.7 393.5h0M235.8 393.5h0M235.9 394.9h0M236 394.7h0M236.2 393h0M236.3 391.4h0M236.4 389.1h0M236.6 385.7h0M236.7 386.7h0M236.8 388.5h0M236.9 390.2h0M237.1 387.5h0M237.2 387.2h0M237.3 387.5h0M237.4 388h0M237.6 389.3h0M237.7 390.7h0M237.8 392.8h0M237.9 392.6h0M238.1 389.7h0M238.2 387.3h0M238.3 386.2h0M238.5 381.3h0M238.6 379.8h0M238.7 379.9h0M238.8 381.2h0M239 382h0M239.1 383.7h0M239.2 386.6h0M239.3 387.3h0M239.5 385.5h0M239.6 385h0M239.7 387.7h0M239.9 390.6h0M240 391.9h0M240.1 394.3h0M240.2 395.2h0M240.4 398.3h0M240.5 396.7h0M240.6 395.9h0M240.7 397h0M240.9 400.5h0M241 400.8h0M241.1 401h0M241.2 402.5h0M241.4 401.5h0M241.5 401.1h0M241.6 399.5h0M241.8 399.1h0M241.9 400.7h0M242 402.8h0M242.1 404.8h0M242.3 403.8h0M242.4 402.7h0M242.5 402.1h0M242.6 400.5h0M242.8 398.3h0M242.9 396.7h0M243 396.6h0M243.2 395.6h0M243.3 395.9h0M243.4 396.6h0M243.5 398.6h0M243.7 399.5h0M243.8 401.4h0M243.9 402.5h0M244 403.2h0M244.2 404.3h0M244.3 404h0M244.4 402.3h0M244.6 401.3h0M244.7 400.1h0M244.8 398h0M244.9 397.7h0M245.1 399.3h0M245.2 400.3h0M245.3 400.5h0M245.4 401.4h0M245.6 403h0M245.7 403.7h0M245.8 404h0M245.9 403.7h0M246.1 402.1h0M246.2 399.9h0M246.3 399.3h0M246.5 397.7h0M246.6 396.5h0M246.7 394.3h0M246.8 393.2h0M247 394.5h0M247.1 395.1h0M247.2 396.6h0M247.3 396.2h0M247.5 397.6h0M247.6 397.5h0M247.7 394.8h0M247.9 392.4h0M248 391.1h0M248.1 389.4h0M248.2 386.8h0M248.4 386.7h0M248.5 388.7h0M248.6 388.7h0M248.7 389.6h0M248.9 389.8h0M249 389.6h0M249.1 390.8h0M249.3 391.6h0M249.4 391.2h0M249.5 391.4h0M249.6 391.7h0M249.8 390.6h0M249.9 389.7h0M250 388.2h0M250.1 386h0M250.3 384.6h0M250.4 382.4h0M250.5 381.1h0M250.6 377.8h0M250.8 376h0M250.9 373.5h0M251 370.8h0M251.2 370.1h0M251.3 369.8h0M251.4 370.9h0M251.5 370h0M251.7 369.3h0M251.8 371.4h0M251.9 372h0M252 372.5h0M252.2 372.9h0M252.3 372.9h0M252.4 374h0M252.6 371.1h0M252.7 367.5h0M252.8 364.9h0M252.9 364h0M253.1 363.9h0M253.2 363.4h0M253.3 364.1h0M253.4 361.1h0M253.6 359h0M253.7 356.5h0M253.8 353h0M253.9 351.7h0M254.1 349h0M254.2 346.7h0M254.3 344h0M254.5 341.8h0M254.6 340.1h0M254.7 339.9h0M254.8 339.6h0M255 339.3h0M255.1 339.6h0M255.2 337.9h0M255.3 338.2h0M255.5 338.4h0M255.6 337.2h0M255.7 333.3h0M255.9 328.7h0M256 324.6h0M256.1 323.2h0M256.2 320h0M256.4 318.5h0M256.5 320.4h0M256.6 321.3h0M256.7 323.9h0M256.9 325.2h0M257 326.3h0M257.1 329.2h0M257.3 330.7h0M257.4 332.8h0M257.5 333.1h0M257.6 334.6h0M257.8 336.1h0M257.9 337.5h0M258 335.6h0M258.1 333.9h0M258.3 332.8h0M258.4 331.7h0M258.5 330.9h0M258.6 328.1h0M258.8 326.9h0M258.9 325h0M259 328.2h0M259.2 329.2h0M259.3 329.9h0M259.4 329.4h0M259.5 328.5h0M259.7 327h0M259.8 327.3h0M259.9 325.4h0M260 324.7h0M260.2 324.3h0M260.3 325.3h0M260.4 327.3h0M260.6 328.2h0M260.7 326.2h0M260.8 324.6h0M260.9 324.1h0M261.1 325h0M261.2 326.5h0M261.3 326.6h0M261.4 327.8h0M261.6 327.8h0M261.7 329.2h0M261.8 331.4h0M262 332.6h0M262.1 332.7h0M262.2 335h0M262.3 334.9h0M262.5 336.6h0M262.6 336.4h0M262.7 334.4h0M262.8 334.5h0M263 332.8h0M263.1 330.9h0M263.2 330.5h0M263.3 328.8h0M263.5 330.4h0M263.6 332.4h0M263.7 334h0M263.9 334.8h0M264 335.5h0M264.1 336.1h0M264.2 335.6h0M264.4 334.4h0M264.5 333.7h0M264.6 331.7h0M264.7 330.2h0M264.9 327.7h0M265 326.2h0M265.1 323.7h0M265.3 323h0M265.4 323h0M265.5 324.8h0M265.6 326h0M265.8 327.3h0M265.9 327.1h0M266 328.9h0M266.1 329.5h0M266.3 329.8h0M266.4 330.6h0M266.5 332.7h0M266.6 333h0M266.8 333h0M266.9 330.7h0M267 329h0M267.2 326.8h0M267.3 325.3h0M267.4 322.8h0M267.5 321.5h0M267.7 321.7h0M267.8 323h0M267.9 324.3h0M268 324.1h0M268.2 325.6h0M268.3 326.7h0M268.4 326.7h0M268.6 324.6h0M268.7 322.4h0M268.8 320.1h0M268.9 317.5h0M269.1 317.3h0M269.2 315.1h0M269.3 313.7h0M269.4 310.6h0M269.6 311.2h0M270.9 291.3h0M271 290.8h0M271.2 291.2h0M271.3 291h0M271.4 291.9h0M271.5 290.1h0M271.7 289.8h0M271.8 286.1h0M271.9 285.1h0M272 283.7h0M272.2 281h0M272.3 279.4h0M272.4 277.3h0M272.6 275.9h0M272.7 273.3h0M272.8 271.6h0M272.9 269.3h0M273.1 270.5h0M273.2 269.4h0M273.3 269h0M273.4 269.6h0M273.6 269.1h0M273.7 266.5h0M273.8 264.5h0M273.9 261.3h0M274.1 259.7h0M274.2 257.8h0M274.3 256.3h0M274.5 254.7h0M274.6 255.1h0M274.7 254.1h0M274.8 254.8h0M275 254.1h0M275.1 254.9h0M275.2 255.2h0M275.3 254.1h0M275.5 251.8h0M275.6 249.8h0M275.7 246.4h0M275.9 247h0M276 244.1h0M297.5 220.3h0M297.6 219.6h0M297.8 216.9h0M297.9 216.1h0M298 217.7h0M298.1 218.6h0M298.3 220.6h0M298.4 221.6h0M298.5 225.2h0M298.6 221.8h0M298.8 220.7h0M298.9 218.1h0M299 215h0M299.2 212h0M299.3 210.7h0M299.4 209.4h0M299.5 211.4h0M299.7 213.3h0M299.8 214h0M299.9 217.2h0M300 219.2h0M300.2 221h0M300.3 223.8h0M300.4 226.5h0M300.5 220.9h0M300.7 219.5h0M300.8 217.4h0M300.9 214.1h0M301.1 211.8h0M301.2 210.4h0M301.3 208.2h0M301.4 208.4h0M301.6 212.6h0M301.7 214.5h0M301.8 215.6h0M301.9 217.5h0M302.1 221.5h0M302.2 219.4h0M302.3 217h0M302.5 219.9h0M302.6 222.1h0M302.7 222.9h0M302.8 225h0M303 229.2h0M303.1 232.4h0M303.2 234.7h0M303.3 237h0M303.5 238h0M303.6 234.1h0M303.7 231.8h0M303.9 230.2h0M304 227.5h0M304.1 225.4h0M304.2 229.1h0M304.4 233.3h0M304.5 237.3h0M304.6 238.2h0M304.7 238.2h0M304.9 234.8h0M305 232.5h0M305.1 234.4h0M305.2 236.3h0M305.4 238.7h0M305.5 237h0M305.6 231.9h0M305.8 231h0M305.9 228.7h0M306 227.1h0M306.1 222.6h0M306.3 221h0M306.4 215.5h0M306.5 214.3h0M306.6 211.6h0M306.8 209.3h0M306.9 205.1h0M307 204h0M307.2 208.2h0M307.3 211.3h0M307.4 213.2h0M307.5 214.7h0M307.7 217.6h0M307.8 219.9h0M307.9 222.8h0M308 225.4h0M308.2 229.7h0M308.3 230.9h0M308.4 232.5h0M308.5 235.4h0M308.7 232.5h0M308.8 230.3h0M308.9 226.8h0M309.1 228.9h0M309.2 231.5h0M309.3 231.7h0M309.4 228.2h0M309.6 224.7h0M309.7 223.9h0M309.8 220.9h0M309.9 223.5h0M310.1 223.9h0M310.2 224.6h0M310.3 223.8h0M310.5 222.6h0M310.6 220.2h0M310.7 218.3h0M310.8 214.9h0M311 214.1h0M311.1 211.1h0M311.2 210.2h0M311.3 210.3h0M311.5 209.7h0M311.6 207.7h0M311.7 206.7h0M311.9 205.4h0M312 203.6h0M312.1 202.8h0M312.2 201.1h0M312.4 201.5h0M312.5 199.3h0M312.6 200.1h0M312.7 202.4h0M312.9 200.7h0M313 202.2h0M313.1 202.8h0M313.2 201.7h0M313.4 201.4h0M313.5 201.3h0M313.6 202.8h0M313.8 203.6h0M313.9 205.6h0M314 205.8h0M314.1 207.2h0M314.3 208.8h0M314.4 209.8h0M314.5 210h0M314.6 209.3h0M314.8 208.1h0M314.9 206.8h0M315 207.3h0M315.2 207.5h0M315.3 207.5h0M315.4 206.7h0M315.5 209.2h0M315.7 210.4h0M315.8 212.4h0M315.9 213.8h0M316 215.4h0M316.2 217.5h0M316.3 218.4h0M316.4 217.9h0M316.6 218.1h0M316.7 217.5h0M316.8 217.1h0M316.9 217.4h0M317.1 216.6h0M317.2 217.3h0M317.3 217.5h0M317.4 217.9h0M317.6 220.4h0M317.7 220.4h0M317.8 221.8h0M317.9 223.8h0M318.1 224.8h0M318.2 226.3h0M318.3 227.9h0M318.5 229.5h0M318.6 229.3h0M318.7 228.8h0M318.8 228.9h0M319 229.9h0M319.1 231.9h0M319.2 234.3h0M319.3 234.2h0M319.5 234h0M319.6 235.1h0M319.7 235.8h0M319.9 235.1h0M320 234.9h0M320.1 233.2h0M320.2 234.3h0M320.4 234.6h0M320.5 234.3h0M320.6 234.4h0M320.7 235.6h0M320.9 237.8h0M321 239.5h0M321.1 241.8h0M321.2 243.2h0M321.4 247.1h0M321.5 248.4h0M321.6 247.8h0M321.8 248.5h0M321.9 248h0M322 247.1h0M322.1 246.9h0M322.3 246h0M322.4 247.4h0M322.5 248.9h0M322.6 249.8h0M322.8 251.4h0M322.9 254.4h0M323 256.5h0M323.2 257.3h0M323.3 258.8h0M323.4 259.9h0M323.5 259.5h0M323.7 257.3h0M323.8 255.8h0M323.9 254h0M324 251.1h0M324.2 250.5h0M324.3 248.7h0M324.4 247.8h0M324.6 245.2h0M324.7 245.6h0M324.8 245.4h0M324.9 247.3h0M325.1 247.2h0M325.2 247.3h0M325.3 249.6h0M325.4 250.3h0M325.6 250.8h0M325.7 251.4h0M325.8 252.2h0M325.9 250h0M326.1 249.2h0M326.2 248.5h0M326.3 247.1h0M326.5 248.5h0M326.6 249.8h0M326.7 251.5h0M326.8 252.8h0M327 252.5h0M327.1 251.5h0M327.2 252h0M327.3 250.4h0M327.5 250.3h0M327.6 248.7h0M327.7 248.7h0M327.9 251.2h0M328 253.4h0M328.1 253.5h0M328.2 252.3h0M328.4 251.4h0M328.5 250.7h0M328.6 252.4h0M328.7 253.9h0M328.9 254h0M329 253.6h0M329.1 256.2h0M329.3 257.9h0M329.4 260.2h0M329.5 262.4h0M329.6 264.2h0M329.8 266.7h0M329.9 269.2h0M330 268.9h0M330.1 268.9h0M330.3 267.9h0M330.4 268.1h0M330.5 266.6h0M330.6 269.7h0M330.8 273.2h0M330.9 275.4h0M331 277.5h0M331.2 280.7h0M331.3 283.3h0M331.4 281.6h0M331.5 280.1h0M331.7 278.8h0M331.8 275.2h0M331.9 274.7h0M332 273.9h0M332.2 272.4h0M332.3 269.9h0M332.4 272.6h0M332.6 272.1h0M332.7 269.9h0M332.8 270.8h0M332.9 273.2h0M333.1 271.3h0M333.2 275.4h0M333.3 277.3h0M333.4 278.6h0M333.6 280.9h0M333.7 283.9h0M333.8 287.9h0M333.9 292.4h0M334.1 289.3h0M334.2 287.8h0M334.3 283h0M334.5 281.3h0M334.6 278.2h0M334.7 274.8h0M334.8 272.9h0M335 269.7h0M335.1 266.9h0M335.2 265.4h0M335.3 268.1h0M335.5 270.6h0M335.6 271.9h0M335.7 278.5h0M335.9 280.7h0M336 282.1h0M336.1 286.4h0M336.2 290.2h0M336.4 292.5h0M336.5 286.5h0M336.6 284.5h0M336.7 280.8h0M336.9 278.8h0M337 275.5h0M337.1 271.8h0M337.3 268.1h0M337.4 264.8h0M337.5 263.2h0M337.6 266.2h0M337.8 272h0M337.9 269.1h0M338 266.4h0M338.1 264h0M338.3 262.9h0M338.4 266.5h0M338.5 267.9h0M338.6 270.5h0M338.8 273.8h0M338.9 276.7h0M339 279.6h0M339.2 282h0M339.3 286.9h0M339.4 291.1h0M339.5 295h0M339.7 297.9h0M339.8 300.8h0M339.9 296.8h0M340 294.5h0M340.2 292.1h0M340.3 288.9h0M340.4 285.1h0M340.6 282.6h0M340.7 280.5h0M340.8 277.4h0M340.9 275.7h0M341.1 272.3h0M341.2 269.3h0M341.3 263.8h0M341.4 264.3h0M341.6 267.7h0M341.7 269.4h0M341.8 274.3h0M342 270.9h0M342.1 268.4h0M342.2 266.1h0M342.3 264.2h0M342.5 266.4h0M342.6 270.5h0M342.7 275.2h0M342.8 278.4h0M343 280.1h0M343.1 277.8h0M343.2 275.4h0M343.3 270.2h0M343.5 266.2h0M343.6 268.7h0M343.7 266.3h0M343.9 271h0M344 273.8h0M344.1 272.2h0M344.2 271.4h0M344.4 271h0M344.5 273.4h0M344.6 276.1h0M344.7 283.3h0M344.9 286.4h0M345 289.8h0M345.1 292.4h0M345.3 292.4h0M345.4 290.5h0M345.5 289.5h0M345.6 288.1h0M345.8 287.3h0M345.9 289.7h0M346 292.1h0M346.1 296.7h0M346.3 301h0M346.4 304.8h0M346.5 304.1h0M346.6 307.2h0M346.8 311.6h0M346.9 315.5h0M347 318.8h0M347.2 318.7h0M347.3 322.4h0M347.4 327.1h0M347.5 325.3h0M347.7 323.9h0M347.8 322h0M347.9 319.3h0M348 317.8h0M348.2 312.9h0M348.3 311.3h0M348.4 308.8h0M348.6 306.4h0M348.7 308h0M348.8 305.4h0M348.9 308.3h0M349.1 310.4h0M349.2 312.7h0M349.3 314.8h0M349.4 317.9h0M349.6 321.8h0M349.7 325h0M349.8 327.1h0M350 328.3h0M350.1 332h0M350.2 334.8h0M350.3 337.8h0M350.5 338.4h0M350.6 337.7h0M350.7 335h0M350.8 331.5h0M351 329.5h0M351.1 325.8h0M351.2 323.6h0M351.3 320.4h0M351.5 316h0M351.6 313.7h0M351.7 310.4h0M351.9 306.1h0M352 304.7h0M352.1 308.2h0M352.2 311.2h0M352.4 315.6h0M352.5 317.2h0M352.6 320.6h0M352.7 322.2h0M352.9 324.4h0M353 328.6h0M353.1 331.7h0M353.3 332.9h0M353.4 333.4h0M353.5 331.7h0M353.6 328.5h0M353.8 325.4h0M353.9 320.3h0M354 318.6h0M354.1 316.1h0M354.3 311.1h0M354.4 309.1h0M354.5 305.8h0M354.7 303.5h0M354.8 300.9h0M354.9 296.5h0M355 293.2h0M355.2 289.1h0M355.3 290.5h0M355.4 289h0M355.5 289.4h0M355.7 289.5h0M355.8 290.2h0M355.9 290.2h0M356 292.8h0M356.2 293.2h0M356.3 290.3h0M356.4 290h0M356.6 291.4h0M356.7 292.9h0M356.8 294h0M356.9 296h0M357.1 297.6h0M357.2 298.2h0M357.3 295.5h0M357.4 293.1h0M357.6 291.9h0M357.7 288.3h0M357.8 287.5h0M358 289.7h0M358.1 286.6h0M358.2 285.4h0M358.3 283.8h0M358.5 282.3h0M358.6 280.9h0M358.7 277.6h0M358.8 275.3h0M359 276.8h0M359.1 279.5h0M359.2 282.1h0M359.3 283.2h0M359.5 287.3h0M359.6 283.9h0M359.7 285.8h0M359.9 288.5h0M360 289.3h0M360.1 292.2h0M360.2 295.2h0M360.4 297.3h0M360.5 298h0M360.6 299.8h0M360.7 301.7h0M360.9 299.7h0M361 302.9h0M361.1 298.7h0M361.3 302h0M361.4 301.4h0M361.5 298.4h0M361.6 296.3h0M361.8 294.4h0M361.9 292.4h0M362 290.5h0M362.1 287.9h0M362.3 285.5h0M362.4 284h0M362.5 282h0M362.7 280.5h0M362.8 283.4h0M362.9 285h0M363 287.9h0M363.2 287.8h0M363.3 289.9h0M363.4 292.3h0M363.5 294h0M363.7 296h0M363.8 299.7h0M363.9 299.8h0M364 298h0M364.2 295.9h0M364.3 292.2h0M364.4 290h0M364.6 288.4h0M364.7 284.9h0M364.8 281.9h0M364.9 279.5h0M365.1 276.2h0M365.2 273.9h0M365.3 275.1h0M365.4 276.7h0M365.6 278.3h0M365.7 275.5h0M365.8 275h0M366 276.4h0M366.1 277.9h0M366.2 280.6h0M366.3 282.7h0M366.5 283.7h0M366.6 281.8h0M366.7 279.2h0M366.8 276.1h0M367 272.9h0M367.1 276.4h0M367.2 278.4h0M367.4 280.7h0M367.5 281.9h0M367.6 284h0M367.7 287.1h0M367.9 289.3h0M368 290.7h0M368.1 292.2h0M368.2 293.2h0M368.4 292.1h0M368.5 288.5h0M368.6 286.6h0M368.7 284.7h0M368.9 284h0M369 282.4h0M369.1 279.8h0M369.3 278.6h0M369.4 277.3h0M369.5 276.8h0M369.6 274.5h0M369.8 275.2h0M369.9 278.6h0M370 279.1h0M370.1 281h0M370.3 282.8h0M370.4 284.7h0M370.5 286.6h0M370.7 290h0M370.8 291.2h0M370.9 293.1h0M371 296h0M371.2 296.2h0M371.3 295.5h0M371.4 292.3h0M371.5 289.8h0M371.7 289.3h0M371.8 285.7h0M371.9 283.8h0M372 282.2h0M372.2 280.8h0M372.3 278.8h0M372.4 281.5h0M372.6 284.8h0M372.7 287.3h0M372.8 289.8h0M372.9 291.7h0M373.1 293.6h0M373.2 297.7h0M373.3 301.7h0M373.4 304.8h0M373.6 306.3h0M373.7 306h0M373.8 303.4h0M374 302.3h0M374.1 301.2h0M374.2 298.8h0M374.3 298.2h0M374.5 295.7h0M374.6 295.5h0M374.7 292.8h0M374.8 290.3h0M375 286.9h0M375.1 285h0M375.2 288.1h0M375.4 291.7h0M375.5 296.5h0M375.6 300h0M375.7 302.8h0M375.9 298.4h0M376 295.5h0M376.1 291.8h0M376.2 289.6h0M376.4 285.5h0M376.5 287.7h0M376.6 290h0M376.7 293.9h0M376.9 296.7h0M377 299.4h0M377.1 302.5h0M377.3 305.5h0M377.4 308.5h0M377.5 312.6h0M377.6 314.6h0M377.8 312h0M377.9 309h0M378 306.5h0M378.1 304.8h0M378.3 302.4h0M378.4 300.9h0M378.5 299h0M378.7 295.6h0M378.8 298.2h0M378.9 301.5h0M379 304.7h0M379.2 307.2h0M379.3 305.7h0M379.4 304.2h0M379.5 302.6h0M379.7 297.7h0M379.8 295.6h0M379.9 294.4h0M380.1 296.9h0M380.2 300.4h0M380.3 298.1h0M380.4 295.3h0M380.6 298.8h0M380.7 303h0M380.8 300.8h0M380.9 297.5h0M381.1 296.6h0M381.2 300.3h0M381.3 302.5h0M381.4 306.1h0M381.6 309.1h0M381.7 311h0M381.8 313.3h0M382 316.5h0M382.1 319.3h0M382.2 326h0M382.3 328.1h0M382.5 331.5h0M382.6 333.1h0M382.7 330.7h0M382.8 329.8h0M383 324.9h0M383.1 321.1h0M383.2 319h0M383.4 316h0M383.5 313h0M383.6 308.9h0M383.7 306.7h0M383.9 304.3h0M384 301h0M384.1 303.2h0M384.2 308.2h0M384.4 306.9h0M384.5 302.5h0M384.6 302.7h0M384.7 306.2h0M384.9 308.6h0M385 313h0M385.1 310.5h0M385.3 308.5h0M385.4 305.6h0M385.5 308.1h0M385.6 311.7h0M385.8 307.8h0M385.9 305.5h0M386 308h0M386.1 311.8h0M386.3 313.7h0M386.4 317.1h0M386.5 321h0M386.7 323.3h0M386.8 325.5h0M386.9 329.5h0M387 327.3h0M387.2 325.6h0M387.3 322.3h0M387.4 321.6h0M387.5 314.9h0M387.7 313.7h0M387.8 309h0M387.9 307.1h0M388.1 305.5h0M388.2 301.6h0M388.3 305.7h0M388.4 309.3h0M388.6 311.3h0M388.7 316.3h0M388.8 319.3h0M388.9 321.5h0M389.1 326.9h0M389.2 323.8h0M389.3 317.4h0M389.4 316.4h0M389.6 314.1h0M389.7 311.2h0M389.8 314.4h0M390 316.9h0M390.1 321.1h0M390.2 322.9h0M390.3 325.8h0M390.5 328.3h0M390.6 330.5h0M390.7 333.2h0M390.8 334.6h0M391 335.6h0M391.1 332.1h0M391.2 330.8h0M391.4 327.7h0M391.5 325h0M391.6 323.6h0M391.7 322.5h0M391.9 321.9h0M392 320.1h0M392.1 319.4h0M392.2 317.9h0M392.4 315.5h0M392.5 318.5h0M392.6 320.3h0M392.8 321.9h0M392.9 324.4h0M393 325.3h0M393.1 327.1h0M393.3 329.1h0M393.4 330.5h0M393.5 331.9h0M393.6 332.3h0M393.8 334.9h0M393.9 335.1h0M394 334.7h0M394.1 335.3h0M394.3 332.4h0M394.4 332.6h0M394.5 329.6h0M394.7 327.1h0M394.8 329.4h0M394.9 330.7h0M395 332.4h0M395.2 334.2h0M395.3 334.8h0M395.4 336.5h0M395.5 335.8h0M395.7 334.3h0M395.8 332.8h0M395.9 331.2h0M396.1 329h0M396.2 328.8h0M396.3 328.4h0M396.4 328.2h0M396.6 326.1h0M396.7 324.8h0M396.8 323.7h0M396.9 324h0M397.1 325.2h0M397.2 326.2h0M397.3 326.8h0M397.4 329.4h0M397.6 331.8h0M397.7 333.1h0M397.8 335.2h0M398 335.9h0M398.1 337.5h0M398.2 338.2h0M398.3 336.6h0M398.5 334.8h0M398.6 333.8h0M398.7 332.9h0M398.8 331.8h0M399 331.2h0M399.1 331h0M399.2 333.7h0M399.4 334.1h0M399.5 336.7h0M399.6 337.7h0M399.7 337.7h0M399.9 336.6h0M400 336.7h0M400.1 335.4h0M400.2 335h0M400.4 333h0M400.5 331.8h0M400.6 331.1h0M400.8 330.1h0M400.9 331.7h0M401 334.6h0M401.1 334.5h0M401.3 335.7h0M401.4 336.5h0M401.5 334.6h0M401.6 333.6h0M401.8 332.7h0M401.9 331.9h0M402 330.6h0M402.1 329.3h0M402.3 330.2h0M402.4 330.3h0M402.5 332.9h0M402.7 334.3h0M402.8 335h0M402.9 334.6h0M403 333.4h0M403.2 332h0M403.3 330.6h0M403.4 331.4h0M403.5 333.4h0M403.7 331.2h0M403.8 332.6h0M403.9 333.8h0M404.1 335.5h0M404.2 336.1h0M404.3 337.6h0M404.4 340.2h0M404.6 341.9h0M404.7 344.2h0M404.8 346.4h0M404.9 345.4h0M405.1 342.6h0M405.2 344.3h0M405.3 345.9h0M405.5 345.7h0M405.6 342.5h0M405.7 341.8h0M405.8 340.7h0M406 339.9h0M406.1 340.2h0M406.2 338.7h0M406.3 337.8h0M406.5 337h0M406.6 336.2h0M406.7 334.3h0M406.8 334.9h0M407 336.8h0M407.1 337.3h0M407.2 338.8h0M407.4 340.5h0M407.5 342.2h0M407.6 342.9h0M407.7 344.2h0M407.9 345.8h0M408 347.7h0M408.1 344.4h0M408.2 345.6h0M408.4 344.1h0M408.5 342.7h0M408.6 342.3h0M408.8 340.7h0M408.9 339.4h0M409 338.7h0M409.1 338.3h0M409.3 336.6h0M409.4 336.4h0M409.5 336.8h0M409.6 338.5h0M409.8 340.1h0M409.9 342.4h0M410 344h0M410.1 345.3h0M410.3 345.8h0M410.4 347.3h0M410.5 348h0M410.7 348.7h0M410.8 347.8h0M410.9 347h0M411 346h0M411.2 344.2h0M411.3 344.7h0M411.4 342.2h0M411.5 341.1h0M411.7 342.4h0M411.8 341h0M411.9 339.6h0M412.1 340.9h0M412.2 342.4h0M412.3 343.4h0M412.4 343.6h0M412.6 345h0M412.7 346.3h0M412.8 347.6h0M412.9 348.2h0M413.1 349.9h0M413.2 350.2h0M413.3 348.7h0M413.5 347.7h0M413.6 346.5h0M413.7 346h0M413.8 346h0M414 343.6h0M414.1 343h0M414.2 342.4h0M414.3 341.1h0M414.5 342.6h0M414.6 344.8h0M414.7 342.6h0M414.8 342.5h0M415 343.1h0M415.1 341.9h0M415.2 342.1h0M415.4 342.5h0M415.5 343.7h0M415.6 344h0M415.7 344.2h0M415.9 343.2h0M416 341.4h0M416.1 339.4h0M416.2 340.1h0M416.4 340.3h0M416.5 341.2h0M416.6 341.9h0M416.8 342h0M416.9 342.9h0M417 343.5h0M417.1 343.5h0M417.3 344.4h0M417.4 344.5h0M417.5 344.8h0M417.6 343.8h0M417.8 341.8h0M417.9 341.9h0M418 340.4h0M418.2 338.8h0M418.3 337.6h0M418.4 334.8h0M418.5 332.8h0M418.7 333.2h0M418.8 334h0M418.9 334h0M419 335.3h0M419.2 335.2h0M419.3 335.9h0M419.4 336.3h0M419.5 336.5h0M419.7 337.7h0M419.8 334.6h0M419.9 333.5h0M420.1 334.2h0M420.2 334h0M420.3 333.3h0M420.4 332.6h0M420.6 332.3h0M420.7 330.5h0M420.8 329.2h0M420.9 328.5h0M421.1 326.5h0M421.2 325.8h0M421.3 324.8h0M421.5 325.4h0M421.6 325.3h0M421.7 325.5h0M421.8 325.8h0M422 324.1h0M422.1 322.9h0M422.2 322.5h0M422.3 323.3h0M422.5 324.5h0M422.6 326.3h0M422.7 327.8h0M422.8 328.8h0M423 328.7h0M423.1 328.6h0M423.2 327.7h0M423.4 326.1h0M423.5 324.2h0M423.6 322.2h0M423.7 322.8h0M423.9 324.7h0M424 323.7h0M424.1 323.7h0M424.2 323.9h0M424.4 324.9h0M424.5 326.7h0M424.6 327.4h0M424.8 326.4h0M424.9 325.5h0M425 324.3h0M425.1 325.8h0M425.3 324.4h0M425.4 324.6h0M425.5 326.5h0M425.6 326.9h0M425.8 329h0M425.9 330.2h0M426 330.9h0M426.2 331.8h0M426.3 334.2h0M426.4 332h0M426.5 332.1h0M426.7 331h0M426.8 333h0M426.9 334h0M427 334.7h0M427.2 335.5h0M427.3 337.2h0M427.4 336.4h0M427.5 334.9h0M427.7 335.3h0M427.8 333.6h0M427.9 335.2h0M428.1 335.1h0M428.2 337.3h0M428.3 338h0M428.4 338.9h0M428.6 338.2h0M428.7 337.8h0M428.8 337h0M428.9 335.9h0M429.1 334.1h0M429.2 333h0M429.3 331.7h0M429.5 331.9h0M429.6 330.7h0M429.7 331.2h0M429.8 333.4h0M430 335.1h0M430.1 335.9h0M430.2 339h0M430.3 339.8h0M430.5 341h0M430.6 343.2h0M430.7 344.3h0M430.9 343.4h0M431 341.6h0M431.1 340.1h0M431.2 339.9h0M431.4 339.9h0M431.5 338h0M431.6 338.3h0M431.7 337.9h0M431.9 339.7h0M432 339h0M432.1 338.9h0M432.2 339.4h0M432.4 338.4h0M432.5 339.9h0M432.6 340.9h0M432.8 341.9h0M432.9 344.9h0M433 345.6h0M433.1 347.8h0M433.3 348.7h0M433.4 350h0M433.5 351.8h0M433.6 352.1h0M433.8 351h0M433.9 349.8h0M434 349.4h0M434.2 349.2h0M434.3 349h0M434.4 348.8h0M434.5 348h0M434.7 347.5h0M434.8 347.3h0M434.9 347.7h0M435 349.2h0M435.2 350.9h0M435.3 352.2h0M435.4 353.1h0M435.5 354.1h0M435.7 356.1h0M435.8 356.6h0M435.9 358.1h0M436.1 357.6h0M436.2 356.8h0M436.3 357.3h0M436.4 358.2h0M436.6 357.6h0M436.7 357.9h0M436.8 357.4h0M436.9 356.6h0M437.1 355.5h0M437.2 355.8h0M437.3 357.8h0M437.5 356.6h0M437.6 356.7h0M437.7 356.3h0M437.8 357.3h0M438 360.8h0M438.1 365.4h0M438.2 367.5h0M438.3 370.3h0M438.5 372.9h0M438.6 375.3h0M438.7 375.4h0M438.9 372.5h0M439 369.4h0M439.1 366.3h0M439.2 365.7h0M439.4 364.2h0M439.5 362.5h0M439.6 364.4h0M439.7 368.6h0M439.9 372.6h0M440 373.8h0M440.1 375.9h0M440.2 379.3h0M440.4 381h0M440.5 383.1h0M440.6 385.8h0M440.8 386.3h0M440.9 382.5h0M441 379.4h0M441.1 383h0M441.3 382.9h0M441.4 379.8h0M441.5 378.3h0M441.6 377.1h0M441.8 375.7h0M441.9 373.9h0M442 372.1h0M442.2 371.4h0M442.3 369.7h0M442.4 369.3h0M442.5 368.9h0M442.7 370.9h0M442.8 369.9h0M442.9 370.5h0M443 373.2h0M443.2 372.4h0M443.3 374.1h0M443.4 374.4h0M443.6 373.8h0M443.7 375h0M443.8 374.5h0M443.9 375.5h0M444.1 374.9h0M444.2 373.2h0M444.3 371.8h0M444.4 370.6h0M444.6 367.2h0M444.7 366h0M444.8 366.5h0M444.9 367.4h0M445.1 368h0M445.2 369.4h0M445.3 369.9h0M445.5 368.6h0M445.6 365.7h0M445.7 363.6h0M445.8 364.3h0M446 364.6h0M446.1 364.4h0M446.2 365.1h0M446.3 362.4h0M446.5 360.6h0M446.6 358.3h0M446.7 356.1h0M446.9 354.9h0M447 353h0M447.1 351h0M447.2 350.3h0M447.4 349h0M447.5 347.3h0M447.6 347.9h0M447.7 349.4h0M447.9 351.7h0M448 353.2h0M448.1 355.3h0M448.2 358h0M448.4 358.7h0M448.5 361.1h0M448.6 361.6h0M448.8 364.3h0M448.9 366.9h0M449 368.3h0M449.1 369.2h0M449.3 368.7h0M449.4 368.9h0M449.5 369.4h0M449.6 367.7h0M449.8 366h0M449.9 364.7h0M450 365.8h0M450.2 364.7h0M450.3 364.8h0M450.4 366.9h0M450.5 368.6h0M450.7 369.4h0M450.8 371.8h0M450.9 371.2h0M451 369.5h0M451.2 368.7h0M451.3 369.3h0M451.4 370.9h0M451.6 371.8h0M451.7 376h0M451.8 377.1h0M451.9 379.6h0M452.1 380h0M452.2 381.2h0M452.3 381.6h0M452.4 382.4h0M452.6 382.3h0M452.7 380.3h0M452.8 378h0M452.9 374.3h0M453.1 373.2h0M453.2 370.7h0M453.3 367.9h0M453.5 369.6h0M453.6 370.2h0M453.7 370.7h0M453.8 370.5h0M454 368h0M454.1 366.6h0M454.2 364.1h0M454.3 361.8h0M454.5 363.8h0M454.6 361.5h0M454.7 359.9h0M454.9 358.2h0M455 358.4h0M455.1 359.5h0M455.2 359.2h0M455.4 359.7h0M455.5 360.2h0M455.6 360.6h0M455.7 360.3h0M455.9 358.6h0M456 356.4h0M456.1 355.6h0M456.3 353.9h0M456.4 353h0M456.5 356.2h0M456.6 355.3h0M456.8 355.4h0M456.9 357.1h0M457 358.4h0M457.1 358.3h0M457.3 359.1h0M457.4 359.7h0M457.5 359.4h0M457.6 358.8h0M457.8 358h0M457.9 357.4h0M458 356.2h0M458.2 354.6h0M458.3 353.7h0M458.4 353.1h0M458.5 352.7h0M458.7 353h0M458.8 354.4h0M458.9 355.2h0M459 357.1h0M459.2 358.6h0M459.3 358.5h0M459.4 360.7h0M459.6 362.2h0M459.7 363.6h0M459.8 362.5h0M459.9 361.6h0M460.1 360.9h0M460.2 359.1h0M460.3 360.3h0M460.4 358.8h0M460.6 358.8h0M460.7 357.8h0M460.8 356.9h0M460.9 356.9h0M461.1 358.7h0M461.2 359.9h0M461.3 360.7h0M461.5 362.9h0M461.6 364.2h0M461.7 365.9h0M461.8 365.9h0M462 366.2h0M462.1 364.9h0M462.2 364.9h0M462.3 363.5h0M462.5 363.1h0M462.6 362.5h0M462.7 362.1h0M462.9 362.6h0M463 365.2h0M463.1 367.7h0M463.2 368.6h0M463.4 372.8h0M463.5 374h0M463.6 372h0M463.7 369.6h0M463.9 368.5h0M464 368.3h0M464.1 366h0M464.3 364.9h0M464.4 366.3h0M464.5 369.7h0M464.6 373.1h0M464.8 376.7h0M464.9 379.5h0M465 382.9h0M465.1 384.8h0M465.3 387h0M465.4 390h0M465.5 389.1h0M465.6 387.2h0M465.8 386.2h0M465.9 383.6h0M466 382h0M466.2 380.4h0M466.3 378.4h0M466.4 380h0M466.5 381.9h0M466.7 385.2h0M466.8 388.3h0M466.9 390.7h0M467 392.9h0M467.2 391.6h0M467.3 389.9h0M467.4 387.1h0M467.6 384.3h0M467.7 382.6h0M467.8 378.3h0M467.9 376h0M468.1 374.2h0M468.2 371.9h0M468.3 368.5h0M468.4 367.7h0M468.6 365.1h0M468.7 366.6h0M468.8 369.3h0M469 372.2h0M469.1 373.2h0M469.2 377h0M469.3 379.4h0M469.5 383h0M469.6 386.3h0M469.7 389.1h0M469.8 390.8h0M470 392.4h0M470.1 395.2h0M470.2 392.8h0M470.3 391h0M470.5 387.5h0M470.6 385.9h0M470.7 383.1h0M470.9 381h0M471 380h0M471.1 379.2h0M471.2 374.7h0M471.4 371.3h0M471.5 368.7h0M471.6 366.4h0M471.7 365.6h0M471.9 368.5h0M472 372.2h0M472.1 372.9h0M472.3 375.7h0M472.4 378.5h0M472.5 382.1h0M472.6 384.5h0M472.8 386.8h0M472.9 389.5h0M473 390h0M473.1 393.5h0M473.3 393.6h0M473.4 390.5h0M473.5 394.4h0M473.6 391.1h0M473.8 393.2h0M473.9 390h0M474 387.7h0M474.2 387.4h0M474.3 386.2h0M474.4 383.5h0M474.5 385h0M474.7 386.7h0M474.8 388.8h0M474.9 391.8h0M475 390.1h0M475.2 387.4h0M475.3 384.8h0M475.4 383.2h0M475.6 381.8h0M475.7 378.9h0M475.8 375.5h0M475.9 372.3h0M476.1 368.9h0M476.2 365.3h0M476.3 366.3h0M476.4 368.2h0M476.6 369.5h0M476.7 370.5h0M476.8 374.6h0M477 375.3h0M477.1 377.3h0M477.2 380.5h0M477.3 381.5h0M477.5 382.1h0M477.6 383.4h0M477.7 383.8h0M477.8 381.6h0M478 378.5h0M478.1 376.9h0M478.2 374.7h0M478.3 372h0M478.5 370.8h0M478.6 370h0M478.7 371.2h0M478.9 368.9h0M479 367.1h0M479.1 364.9h0M479.2 363.9h0M479.4 364.7h0M479.5 365.1h0M479.6 363.3h0M479.7 362.5h0M479.9 362.3h0M480 362.6h0M480.1 361.8h0M480.3 362.8h0M480.4 362.7h0M480.5 363.6h0M480.6 364.3h0M480.8 364.9h0M480.9 365.9h0M481 366.4h0M481.1 366.8h0M481.3 364.8h0M481.4 362.9h0M481.5 361.4h0M481.7 358.7h0M481.8 358.6h0M481.9 357.1h0M482 354.1h0M482.2 353.1h0M482.3 351.5h0M482.4 349.6h0M482.5 351.2h0M482.7 351.4h0M482.8 350.9h0M482.9 351.6h0M483 351.5h0M483.2 353.2h0M483.3 352.9h0M483.4 354.3h0M483.6 354.8h0M483.7 352.4h0M483.8 351.1h0M483.9 350.9h0M484.1 351.1h0M484.2 348.9h0M484.3 347.8h0M484.4 346.4h0M484.6 345.2h0M484.7 343.6h0M484.8 342.3h0M485 342.7h0M485.1 342.3h0M485.2 343.3h0M485.3 343.9h0M485.5 344.5h0M485.6 344.1h0M485.7 342.6h0M485.8 341.6h0M486 340.1h0M486.1 339.4h0M486.2 337.7h0M486.3 336.9h0M486.5 335.7h0M486.6 334.4h0M486.7 335h0M486.9 334.5h0M487 334.7h0M487.1 336.4h0M487.2 337.3h0M487.4 336h0M487.5 334.7h0M487.6 335.1h0M487.7 334.6h0M487.9 336.1h0M488 336.4h0M488.1 337.5h0M488.3 338.7h0M488.4 339.8h0M488.5 340.1h0M488.6 339h0M488.8 339.3h0M488.9 337.6h0M489 337.1h0M489.1 337.9h0M489.3 337h0M489.4 337.4h0M489.5 338.7h0M489.7 338.6h0M489.8 340.8h0M489.9 341.5h0M490 342.3h0M490.2 343.1h0M490.3 344.1h0M490.4 345.6h0M490.5 344h0M490.7 345h0M490.8 344h0M490.9 342.6h0M491 344.8h0M491.2 345.4h0M491.3 346.3h0M491.4 346.4h0M491.6 347.3h0M491.7 346.6h0M491.8 344.7h0M491.9 344.4h0M492.1 343h0M492.2 342.1h0M492.3 344h0M492.4 344.3h0M492.6 346.7h0M492.7 347.7h0M492.8 349.4h0M493 351.1h0M493.1 352.6h0M493.2 352.6h0M493.3 352.6h0M493.5 351.5h0M493.6 351.1h0M493.7 351.5h0M493.8 351h0M494 350.9h0M494.1 349.6h0M494.2 350.5h0M494.4 349.6h0M494.5 350.8h0M494.6 351.3h0M494.7 351.5h0M494.9 353.7h0M495 355.3h0M495.1 355.5h0M495.2 354.7h0M495.4 354.9h0M495.5 354.8h0M495.6 355.8h0M495.7 357h0M495.9 358.8h0M496 359.9h0M496.1 361.2h0M496.3 362.5h0M496.4 364.2h0M496.5 364.8h0M496.6 366.6h0M496.8 367.6h0M496.9 366.2h0M497 365.5h0M497.1 364.9h0M497.3 364.7h0M497.4 364.5h0M497.5 364.3h0M497.7 364.1h0M497.8 364.5h0M497.9 363.5h0M498 363.1h0M498.2 364.4h0M498.3 364.7h0M498.4 366.1h0M498.5 366.2h0M498.7 368.2h0M498.8 367.9h0M498.9 369h0M499 369.5h0M499.2 369h0M499.3 370.5h0M499.4 371.8h0M499.6 371.5h0M499.7 371.2h0M499.8 371.2h0M499.9 370.9h0M500.1 369.6h0M500.2 368.7h0M500.3 368.4h0M500.4 368.7h0M500.6 370.1h0M500.7 371h0M500.8 369.6h0M501 369.1h0M501.1 367.5h0M501.2 366.7h0M501.3 366h0M501.5 366.9h0M501.6 367.9h0M501.7 368h0M501.8 368.5h0M502 367.9h0M502.1 366.9h0M502.2 365.3h0M502.4 364.5h0M502.5 363.3h0M502.6 361.2h0M502.7 360.7h0M502.9 360.8h0M503 360.4h0M503.1 361.5h0M503.2 362.1h0M503.4 363.4h0M503.5 362.5h0M503.6 363.1h0M503.7 364.2h0M503.9 363.2h0M504 361.9h0M504.1 361.6h0M504.3 360.1h0M504.4 358.9h0M504.5 357.6h0M504.6 356.6h0M504.8 355.9h0M504.9 354.9h0M505 355.3h0M505.1 354h0M505.3 353.7h0M505.4 354.6h0M505.5 356.2h0M505.7 356.4h0M505.8 356h0M505.9 356.2h0M506 355.7h0M506.2 356.8h0M506.3 357h0M506.4 355.2h0M506.5 355.2h0M506.7 353.9h0M506.8 353.8h0M506.9 353h0M507.1 351h0M507.2 350.2h0M507.3 349.6h0M507.4 348.8h0M507.6 348.2h0M507.7 348.6h0M507.8 350h0M507.9 349.6h0M508.1 350.6h0M508.2 351.4h0M508.3 351.7h0M508.4 352.9h0M508.6 351.7h0M508.7 350.6h0M508.8 350.4h0M509 352.2h0M509.1 352.6h0M509.2 352.9h0M509.3 351.8h0M509.5 351.2h0M509.6 352.2h0M509.7 350.9h0M509.8 351h0M510 350.7h0M510.1 349.5h0M510.2 348.4h0M510.4 349.6h0M510.5 351.2h0M510.6 350.5h0M510.7 350.5h0M510.9 349.8h0M511 348.1h0M511.1 348.1h0M511.2 347.1h0M511.4 345.4h0M511.5 347.1h0M511.6 347.8h0M511.7 348.6h0M511.9 349.8h0M512 350.5h0M512.1 350.3h0M512.3 351.3h0M512.4 351.9h0M512.5 351.4h0M512.6 349.8h0M512.8 347.6h0M512.9 347.7h0M513 346.2h0M513.1 346.4h0M513.3 347.3h0M513.4 347.8h0M513.5 348.9h0M513.7 348.5h0M513.8 347.6h0M513.9 345.2h0M514 346.4h0M514.2 346.5h0M514.3 347.6h0M514.4 349.1h0M514.5 348h0M514.7 348.3h0M514.8 348.3h0M514.9 350h0M515.1 347.9h0M515.2 348.6h0M515.3 346.1h0M515.4 345h0M515.6 343.4h0M515.7 342.2h0M515.8 341.4h0M515.9 341.5h0M516.1 343.5h0M516.2 344.4h0M516.3 344.3h0M516.4 344.5h0M516.6 345.3h0M516.7 346.3h0M516.8 345.1h0M517 342.6h0M517.1 340.6h0M517.2 337.7h0M517.3 337h0M517.5 336.5h0M517.6 336.6h0M517.7 336.9h0M517.8 338h0M518 337.9h0M518.1 339.1h0M518.2 338.6h0M518.4 339.5h0M518.5 338.8h0M518.6 338.2h0M518.7 334.8h0M518.9 333.1h0M519 330.4h0M519.1 328.4h0M519.2 329.1h0M519.4 329.8h0M519.5 330.8h0M519.6 330.9h0M519.8 332h0M519.9 332.1h0M520 333.3h0M520.1 331.8h0M520.3 329.1h0M520.4 327.2h0M520.5 324.4h0M520.6 321.4h0M520.8 318.7h0M520.9 317h0M521 314.1h0M521.1 310.1h0M521.3 311.9h0M521.4 312.9h0M521.5 313.4h0M521.7 315.6h0M521.8 318.3h0M521.9 313.8h0M522 309.2h0M522.2 307.9h0M522.3 305.1h0M522.4 301.5h0M522.5 301.8h0M522.7 302.1h0M522.8 305.1h0M522.9 300.7h0M523.1 299.2h0M523.2 298.8h0M523.3 299.7h0M523.4 298.3h0M523.6 295.2h0M523.7 294.6h0M523.8 296.7h0M523.9 297.7h0M524.1 297.4h0M524.2 296.6h0M524.3 296.7h0M524.4 298.6h0M524.6 300.9h0M524.7 305.6h0M524.8 309.9h0M525 312h0M525.1 314.7h0M525.2 317.4h0M525.3 319.5h0M525.5 322.5h0M525.6 323.8h0M525.7 326.9h0M525.8 325.9h0M526 323.1h0M526.1 323h0M526.2 322h0M526.4 322.4h0M526.5 323.1h0M526.6 322.5h0M526.7 321.7h0M526.9 320.4h0M527 318h0M527.1 318.8h0M527.2 319.8h0M527.4 320h0M527.5 322.9h0M527.6 323.3h0M527.8 324.9h0M527.9 326h0M528 327.9h0M528.1 328.2h0M528.3 329h0M528.4 328.7h0M528.5 328.2h0M528.6 328.5h0M528.8 328.1h0M528.9 327.8h0M529 327.1h0M529.1 325.2h0M529.3 326.1h0M529.4 327.8h0M529.5 329.7h0M529.7 331.9h0M529.8 333.7h0M529.9 335.2h0M530 337.6h0M530.2 336.9h0M530.3 337.2h0M530.4 335.3h0M530.5 335.3h0M530.7 334.1h0M530.8 335.7h0M530.9 336.6h0M531.1 336.1h0M531.2 337.6h0M531.3 336.2h0M531.4 336.3h0M531.6 335.2h0M531.7 335.2h0M531.8 335.8h0M531.9 336.7h0M532.1 337.7h0M532.2 337.8h0M532.3 340h0M532.5 341.7h0M532.6 341.3h0M532.7 342.6h0M532.8 343.6h0M533 344.2h0M533.1 345.5h0M533.2 345.2h0M533.3 344h0M533.5 343.8h0M533.6 341.9h0M533.7 341.5h0M533.8 340.1h0M534 339.9h0M534.1 338.4h0M534.2 337h0M534.4 336.8h0M534.5 337.7h0M534.6 337.6h0M534.7 338.8h0M534.9 340.5h0M535 340.9h0M535.1 341.6h0M535.2 343.9h0M535.4 344h0M535.5 342.9h0M535.6 342.9h0M535.8 341.1h0M535.9 340.9h0M536 338.9h0M536.1 337.9h0M536.3 336.7h0M536.4 336.4h0M536.5 335.9h0M536.6 335h0M536.8 334.9h0M536.9 336.4h0M537 336.7h0M537.1 337.9h0M537.3 339.2h0M537.4 341.5h0M537.5 343h0M537.7 343.2h0M537.8 341.1h0M537.9 341.8h0M538 341.6h0M538.2 342.9h0M538.3 341.4h0M538.4 339.5h0M538.5 338h0M538.7 337.7h0M538.8 336.3h0M538.9 335.3h0M539.1 335.1h0M539.2 334.6h0M539.3 336.1h0M539.4 336.7h0M539.6 337.6h0M539.7 338.4h0M539.8 339.6h0M539.9 339.3h0M540.1 338.4h0M540.2 336.7h0M540.3 334.7h0M540.5 337.5h0M540.6 337.7h0M540.7 336h0M540.8 336.4h0M541 334.3h0M541.1 333.2h0M541.2 333.6h0M541.3 334.1h0M541.5 335.4h0M541.6 337.8h0M541.7 339.2h0M541.8 341.3h0M542 342.6h0M542.1 344.2h0M542.2 345.6h0M542.4 346.5h0M542.5 347.3h0M542.6 345.4h0M542.7 344.2h0M542.9 343.6h0M543 341.9h0M543.1 340.7h0M543.2 339.8h0M543.4 340.9h0M543.5 343.9h0M543.6 346.5h0M543.8 346.6h0M543.9 349h0M544 350.7h0M544.1 351.1h0M544.3 350.2h0M544.4 348.8h0M544.5 349.5h0M544.6 351.8h0M544.8 350.1h0M544.9 349.6h0M545 347.3h0M545.2 343.3h0M545.3 341.3h0M545.4 341.2h0M545.5 340h0M545.7 337.9h0M545.8 336.3h0M545.9 335.1h0M546 337.5h0M546.2 338.4h0M546.3 339.9h0M546.4 340.4h0M546.5 341.4h0M546.7 343.5h0M546.8 345.9h0M546.9 348.3h0M547.1 348.8h0M547.2 351h0M547.3 351.6h0M547.4 350.1h0M547.6 348.1h0M547.7 346.7h0M547.8 344.1h0M547.9 343.8h0M548.1 341.8h0M548.2 340.1h0M548.3 338h0M548.5 337.4h0M548.6 337.9h0M548.7 339.4h0M548.8 340h0M549 340.9h0M549.1 342.6h0M549.2 342.9h0M549.3 344.2h0M549.5 345.4h0M549.6 346h0M549.7 347.7h0M549.8 348.8h0M550 347.3h0M550.1 345.5h0M550.2 343.4h0M550.4 341.9h0M550.5 340.8h0M550.6 339.5h0M550.7 336.4h0M550.9 334.9h0M551 334.3h0M551.1 332.2h0M551.2 332.8h0M551.4 334.6h0M551.5 334.9h0M551.6 335.6h0M551.8 336.5h0M551.9 338.1h0M552 336.4h0M552.1 333.8h0M552.3 331.1h0M552.4 330.6h0M552.5 329.4h0M552.6 327.8h0M552.8 327.2h0M552.9 327.8h0M553 328.7h0M553.2 328.5h0M553.3 327.5h0M553.4 325.5h0M553.5 324.4h0M553.7 323.8h0M553.8 324.5h0M553.9 325.7h0M554 325.6h0M554.2 325.2h0M554.3 322.7h0M554.4 320.4h0M554.5 318.8h0M554.7 319.9h0M554.8 320.5h0M554.9 320.7h0M555.1 322h0M555.2 320.5h0M555.3 318.4h0M555.4 317.6h0M555.6 314.6h0M555.7 316.4h0M555.8 317.8h0M555.9 315.6h0M556.1 313.2h0M556.2 312h0M556.3 313.3h0M556.5 314.3h0M556.6 314.8h0M556.7 315.8h0M556.8 316.7h0M557 317.5h0M557.1 318.1h0M557.2 319.6h0M557.3 321.4h0M557.5 318.8h0M557.6 316.4h0M557.7 315.6h0M557.9 313.7h0M558 311.4h0M558.1 311.8h0M558.2 309.7h0M558.4 309h0M558.5 308.4h0M558.6 307.2h0M558.7 308.4h0M558.9 309.4h0M559 308.5h0M559.1 307h0M559.2 307.8h0M559.4 308.3h0M559.5 309.9h0M559.6 311.3h0M559.8 312.2h0M559.9 313.9h0M560 316h0M560.1 317h0M560.3 318.5h0M560.4 318.6h0M560.5 319.7h0M560.6 319h0M560.8 317.9h0M560.9 317h0M561 315.9h0M561.2 314.7h0M561.3 313h0M561.4 310.2h0M561.5 310.2h0M561.7 308.5h0M561.8 308.2h0M561.9 306.2h0M562 307.7h0M562.2 307.2h0M562.3 307.6h0M562.4 308.4h0M562.5 310h0M562.7 311.2h0M562.8 311.9h0M562.9 313.9h0M563.1 315.6h0M563.2 316.2h0M563.3 317.4h0M563.4 319.5h0M563.6 319.7h0M563.7 317.7h0M563.8 316.8h0M563.9 314.6h0M564.1 312h0M564.2 311.1h0M564.3 309.9h0M564.5 308.8h0M564.6 307.9h0M564.7 306.5h0M564.8 306h0M565 306.8h0M565.1 309.1h0M565.2 310h0M565.3 310.9h0M565.5 313.2h0M565.6 314h0M565.7 314.6h0M565.9 316.3h0M566 317.8h0M566.1 318.7h0M566.2 319.2h0M566.4 318h0M566.5 316.9h0M566.6 315.6h0M566.7 314.3h0M566.9 312.8h0M567 310.9h0M567.1 309.3h0M567.2 309.4h0M567.4 308.3h0M567.5 306.7h0M567.6 305.8h0M567.8 307h0M567.9 308.4h0M568 309.5h0M568.1 311.4h0M568.3 314.2h0M568.4 315.7h0M568.5 317.6h0M568.6 317.8h0M568.8 320.6h0M568.9 321.8h0M569 322.5h0M569.2 322.4h0M569.3 321h0M569.4 319.8h0M569.5 318.6h0M569.7 318.4h0M569.8 320h0M569.9 320.2h0M570 322h0M570.2 322.9h0M570.3 324.8h0M570.4 325.1h0M570.6 326.7h0M570.7 326.3h0M570.8 324h0M570.9 323h0M571.1 322.1h0M571.2 321.4h0M571.3 320.5h0M571.4 320.1h0M571.6 316.6h0M571.7 316.1h0M571.8 316.7h0M571.9 317h0M572.1 318.5h0M572.2 320.6h0M572.3 321.5h0M572.5 322.8h0M572.6 323.9h0M572.7 323.6h0M572.8 321.3h0M573 321.2h0M573.1 319.1h0M573.2 317.7h0M573.3 316.5h0M573.5 317h0M573.6 318.5h0M573.7 319.9h0M573.9 320.6h0M574 322.3h0M574.1 323.8h0M574.2 323.9h0M574.4 326.2h0M574.5 327.5h0M574.6 328h0M574.7 327.9h0M574.9 327.5h0M575 325h0M575.1 324h0M575.2 322.5h0M575.4 321.9h0M575.5 320.3h0M575.6 319.8h0M575.8 318.7h0M575.9 317.7h0M576 316.3h0M576.1 318h0M576.3 317.9h0M576.4 316.7h0M576.5 317.2h0M576.6 318.6h0M576.8 319h0M576.9 321.4h0M577 321h0M577.2 322.4h0M577.3 324.5h0M577.4 323.3h0M577.5 321.8h0M577.7 319.9h0M577.8 319.5h0M577.9 318h0M578 316.4h0M578.2 315.5h0M578.3 314.4h0M578.4 314.7h0M578.6 315.9h0M578.7 314.1h0M578.8 312.2h0M578.9 312.7h0M579.1 312.9h0M579.2 313.3h0M579.3 314h0M579.4 314.7h0M579.6 315.1h0M579.7 316.6h0M579.8 314.1h0M579.9 313.3h0M580.1 311h0M580.2 308.1h0M580.3 306h0M580.5 305.2h0M580.6 303.5h0M580.7 304h0M580.8 305.3h0M581 305h0M581.1 305.6h0M581.2 306h0M581.3 307.1h0M581.5 306.5h0M581.6 308.5h0M581.7 309.3h0M581.9 309.8h0M582 308.2h0M582.1 305.6h0M582.2 303.6h0M582.4 301.2h0M582.5 299.2h0M582.6 298.1h0M582.7 299.2h0M582.9 299.6h0M583 299.9h0M583.1 299.2h0M583.3 297h0M583.4 296.8h0M583.5 294.8h0M583.6 293.3h0M583.8 290.7h0M583.9 289h0M584 287h0M584.1 285.4h0M584.3 286.4h0M584.4 285.4h0M584.5 288.3h0M584.6 288.8h0M584.8 288.6h0M584.9 290.2h0M585 290.5h0M585.2 290.3h0M585.3 290.4h0M585.4 290.3h0M585.5 286.7h0M585.7 282.4h0M585.8 282.3h0M585.9 283h0M586 281.4h0M586.2 280.1h0M586.3 280.3h0M586.4 276.9h0M586.6 273.2h0M586.7 270h0M586.8 267.4h0M586.9 265.9h0M587.1 263.2h0M587.2 263.9h0M587.3 267.3h0M587.4 268.6h0M587.6 270.2h0M587.7 266.9h0M587.8 264h0M587.9 261.2h0M588.1 260.4h0M588.2 259.1h0M588.3 258.5h0M588.5 257.3h0M588.6 255.4h0M588.7 254.6h0M588.8 252.7h0M589 251.9h0M589.1 251h0M589.2 249.1h0M589.3 249.9h0M589.5 252.9h0M589.6 255.8h0M589.7 253.3h0M589.9 251.6h0M590 251.7h0M590.1 253.6h0M590.2 255.2h0M590.4 257h0M590.5 260.6h0M590.6 262.3h0M590.7 263.9h0M590.9 265.7h0M591 266.5h0M591.1 269.6h0M591.3 270.4h0M591.4 273.3h0M591.5 273.2h0M591.6 270.7h0M591.8 270.2h0M591.9 267.1h0M592 266.8h0M592.1 265.9h0M592.3 262.9h0M592.4 262.8h0M592.5 260.7h0M592.6 260.4h0M592.8 256.4h0M592.9 259.4h0M593 263.4h0M593.2 265.4h0M593.3 268.6h0M593.4 271.5h0M593.5 273.9h0M593.7 272h0M593.8 270.3h0M593.9 269.9h0M594 268.5h0M594.2 268.1h0M594.3 267.5h0M594.4 267h0M594.6 267.2h0M594.7 270.6h0M594.8 271.9h0M594.9 273h0M595.1 276h0M595.2 278.1h0M595.3 279h0M595.4 281.2h0M595.6 280h0M595.7 279h0M595.8 276h0M596 275.3h0M596.1 273.6h0M596.2 271.3h0M596.3 269.7h0M596.5 268.9h0M596.6 271.3h0M596.7 273.3h0M596.8 276.3h0M597 278.4h0M597.1 279.8h0M597.2 281.5h0M597.3 282.5h0M597.5 281.8h0M597.6 279.6h0M597.7 282.5h0M597.9 285.8h0M598 288.1h0M598.1 289.1h0M598.2 291.3h0M598.4 292.1h0M598.5 290.4h0M598.6 289h0M598.7 288.2h0M598.9 287.3h0M599 285.8h0M599.1 286h0M599.3 284.6h0M599.4 284.1h0M599.5 284.5h0M599.6 283.1h0M599.8 283.8h0M599.9 283.6h0M600 285.9h0M600.1 287.6h0M600.3 289.2h0M600.4 291.5h0M600.5 292.3h0M600.6 293.1h0M600.8 294.5h0M600.9 296.1h0M601 295.7h0M601.2 296.2h0M601.3 295.1h0M601.4 295.6h0M601.5 296.6h0M601.7 297.5h0M601.8 296.1h0M601.9 294.9h0M602 293.5h0M602.2 291.2h0M602.3 289.7h0M602.4 286.4h0M602.6 284.5h0M602.7 285.5h0M602.8 287.6h0M602.9 287.3h0M603.1 288.8h0M603.2 289.2h0M603.3 291h0M603.4 292.1h0M603.6 293.4h0M603.7 294.7h0M603.8 292.7h0M604 293.5h0M604.1 293h0M604.2 290.7h0M604.3 290.2h0M604.5 287.5h0M604.6 285.5h0M604.7 287.1h0M604.8 289.2h0M605 289.7h0M605.1 291.3h0M605.2 293.3h0M605.3 293.8h0M605.5 293.9h0M605.6 292.9h0M605.7 291.8h0M605.9 289.3h0M606 287.6h0M606.1 286.3h0M606.2 284.1h0M606.4 282.3h0M606.5 281.2h0M606.6 278.5h0M606.7 278.1h0M606.9 278.8h0M607 281h0M607.1 282.7h0M607.3 281.9h0M607.4 280.8h0M607.5 279.6h0M607.6 279.7h0M607.8 282.2h0M607.9 285.6h0M608 287.4h0M608.1 288.7h0M608.3 291.4h0M608.4 294.8h0M608.5 296.6h0M608.7 300.2h0M608.8 298.4h0M608.9 296.4h0M609 295.8h0M609.2 295.1h0M609.3 294.1h0M609.4 296.2h0M609.5 298.8h0M609.7 300.3h0M609.8 303.5h0M609.9 303h0M610 303.4h0M610.2 302.3h0M610.3 301.6h0M610.4 304.6h0M610.6 307.1h0M610.7 309.9h0M610.8 314.8h0M610.9 316.1h0M611.1 315.6h0M611.2 315.2h0M611.3 314.1h0M611.4 313.8h0M611.6 312.1h0M611.7 310.9h0M611.8 308.1h0M612 306h0M612.1 301.9h0M612.2 304.4h0M612.3 306.9h0M612.5 310.3h0M612.6 314.4h0M612.7 315.4h0M612.8 319.3h0M613 323.1h0M613.1 325.9h0M613.2 328.4h0M613.3 332.2h0M613.5 335h0M613.6 337.6h0M613.7 338.3h0M613.9 334.4h0M614 328.6h0M614.1 326.9h0M614.2 323.3h0M614.4 320.4h0M614.5 318.1h0M614.6 314.4h0M614.7 309.9h0M614.9 312.9h0M615 315.7h0M615.1 319.9h0M615.3 323.6h0M615.4 325.6h0M615.5 328.9h0M615.6 330.5h0M615.8 332.8h0M615.9 330.6h0M616 329.5h0M616.1 326.4h0M616.3 323.1h0M616.4 320.5h0M616.5 314.4h0M616.7 311.5h0M616.8 308.1h0M616.9 310.6h0M617 311.6h0M617.2 308.8h0M617.3 305.7h0M617.4 302.9h0M617.5 302.2h0M617.7 298.9h0M617.8 294.6h0M617.9 293.7h0M618 294.1h0M618.2 292.3h0M618.3 293.7h0M618.4 293.7h0M618.6 296.8h0M618.7 293h0M618.8 290.4h0M618.9 288.6h0M619.1 289.1h0M619.2 288.9h0M619.3 289.5h0M619.4 289.7h0M619.6 292h0M619.7 292.3h0M619.8 292.5h0M620 292.9h0M620.1 294.6h0M620.2 295.7h0M620.3 293h0M620.5 291.2h0M620.6 290.5h0M620.7 288.6h0M620.8 286.9h0M621 286.2h0M621.1 283.7h0M621.2 283.5h0M621.4 281.5h0M621.5 282h0M621.6 283.3h0M621.7 284.2h0M621.9 284.9h0M622 285.6h0M622.1 285.4h0M622.2 286.5h0M622.4 288.7h0M622.5 290h0M622.6 291.5h0M622.7 291.7h0M622.9 292.7h0M623 291.7h0M623.1 294h0M623.3 294.5h0M623.4 294h0M623.5 291.3h0M623.6 293h0M623.8 294.5h0M623.9 295h0M624 295.6h0M624.1 293.8h0M624.3 293.2h0M624.4 293.3h0M624.5 294.9h0M624.7 296.7h0M624.8 297.1h0M624.9 295.5h0M625 294.8h0M625.2 293.3h0M625.3 291.4h0M625.4 290.6h0M625.5 290.1h0M625.7 288.3h0M625.8 287.8h0M625.9 285.3h0M626 283.8h0M626.2 285.9h0M626.3 285.4h0M626.4 286.4h0M626.6 287.4h0M626.7 288.8h0M626.8 289.5h0M626.9 290.6h0M627.1 291.7h0M627.2 290.8h0M627.3 290.8h0M627.4 291.3h0M627.6 292.4h0M627.7 293h0M627.8 291.4h0M628 290h0M628.1 289.8h0M628.2 289.2h0M628.3 287.5h0M628.5 286.4h0M628.6 285.7h0M628.7 284.4h0M628.8 285.4h0M629 285.5h0M629.1 285.6h0M629.2 286.9h0M629.4 287.8h0M629.5 288.6h0M629.6 290h0M629.7 290.1h0M629.9 291h0M630 290.6h0M630.1 288.9h0M630.2 288.6h0M630.4 287.5h0M630.5 287.1h0M630.6 287h0M630.7 287.6h0M630.9 288.8h0M631 289.1h0M631.1 292.2h0M631.3 290.1h0M631.4 290.8h0M631.5 291.2h0M631.6 290.5h0M631.8 288.9h0M631.9 287.7h0M632 287.1h0M632.1 287.4h0M632.3 286.8h0M632.4 284.8h0M632.5 285h0M632.7 285.1h0M632.8 285.6h0M632.9 287.2h0M633 288.4h0M633.2 289.9h0M633.3 290h0M633.4 291h0M633.5 291h0M633.7 289.9h0M633.8 289.9h0M633.9 288.7h0M634.1 287h0M634.2 287.8h0M634.3 288.8h0M634.4 288.7h0M634.6 287.7h0M634.7 286.3h0M634.8 285.9h0M634.9 283.6h0M635.1 285.3h0M635.2 285.7h0M635.3 286.4h0M635.4 286.1h0M635.6 287.1h0M635.7 287.9h0M635.8 288.4h0M636 288.8h0M636.1 291h0M636.2 291.3h0M636.3 292.3h0M636.5 291h0M636.6 290.8h0M636.7 290h0M636.8 289.8h0M637 288.2h0M637.1 287.4h0M637.2 287.1h0M637.4 286.7h0M637.5 285.6h0M637.6 284.8h0M637.7 285.7h0M637.9 285.5h0M638 286.1h0M638.1 287.7h0M638.2 286.9h0M638.4 286h0M638.5 285.2h0M638.6 284.9h0M638.7 285.5h0M638.9 285.8h0M639 285.7h0M639.1 287.4h0M639.3 287.8h0M639.4 289.1h0M639.5 289.6h0M639.6 289.3h0M639.8 288.3h0M639.9 289.4h0M640 287.8h0M640.1 287h0M640.3 285.5h0M640.4 285.2h0M640.5 284.1h0M640.7 282.9h0M640.8 281.8h0M640.9 283.8h0M641 283h0M641.2 284.5h0M641.3 285.1h0M641.4 285.7h0M641.5 286.6h0M641.7 287.2h0M641.8 286.8h0M641.9 285.1h0M642.1 285.2h0M642.2 286.7h0M642.3 285h0M642.4 284.3h0M642.6 284h0M642.7 282h0M642.8 281.3h0M642.9 280.8h0M643.1 281.2h0M643.2 281.5h0M643.3 282.6h0M643.4 282.8h0M643.6 283.4h0M643.7 285.4h0M643.8 285.4h0M644 284.4h0M644.1 284.7h0M644.2 284.2h0M644.3 284.6h0M644.5 283.6h0M644.6 283.3h0M644.7 284.2h0M644.8 284.9h0M645 283.7h0M645.1 282.1h0M645.2 280.6h0M645.4 279.1h0M645.5 277.2h0M645.6 276.3h0M645.7 275.8h0M645.9 276.1h0M646 276.5h0M646.1 275.8h0M646.2 275.3h0M646.4 276.8h0M646.5 278.1h0M646.6 277.9h0M646.8 279.7h0M646.9 281.5h0M647 282.7h0M647.1 283.5h0M647.3 283.3h0M647.4 285.2h0M647.5 284.6h0M647.6 284.2h0M647.8 282.3h0M647.9 281.6h0M648 280.4h0M648.1 279.2h0M648.3 277.4h0M648.4 277.4h0M648.5 275.9h0M648.7 275.1h0M648.8 277.5h0M648.9 278.6h0M649 278.7h0M649.2 280.2h0M649.3 280.8h0M649.4 278.9h0M649.5 278.2h0M649.7 276.2h0M649.8 276.6h0M649.9 278.2h0M650.1 277.4h0M650.2 274.9h0M650.3 274.5h0M650.4 273.3h0M650.6 275.4h0M650.7 275.8h0M650.8 275.2h0M650.9 276.3h0M651.1 276.5h0M651.2 277.4h0M651.3 277.6h0M651.4 278.4h0M651.6 279.7h0M651.7 281h0M651.8 280.2h0M652 279h0M652.1 277.6h0M652.2 276h0M652.3 272.9h0M652.5 272.1h0M652.6 271.4h0M652.7 269.4h0M652.8 269.3h0M653 268.2h0M653.1 269.2h0M653.2 269h0M653.4 270.4h0M653.5 270.4h0M653.6 269.9h0M653.7 272.1h0M653.9 271.9h0M654 272.6h0M654.1 271.3h0M654.2 269.5h0M654.4 267.1h0M654.5 265.4h0M654.6 264.7h0M654.8 265.8h0M654.9 266.5h0M655 266.9h0M655.1 266.9h0M655.3 264.2h0M655.4 262h0M655.5 260.3h0M655.6 258.6h0M655.8 256.5h0M655.9 255h0M656 253.8h0M656.1 250.2h0M656.3 250h0M656.4 249.4h0M656.5 247.9h0M656.7 248.3h0M656.8 247.9h0M656.9 249.2h0M657 248.9h0M657.2 250.2h0M657.3 249h0M657.4 248.5h0M657.5 248.2h0M657.7 246.4h0M657.8 242.2h0M657.9 240.5h0M658.1 238.5h0M658.2 239.3h0M658.3 239h0M658.4 238.2h0M658.6 238h0M658.7 234.1h0M658.8 231.1h0M658.9 228h0M659.1 225.7h0M659.2 223.7h0M659.3 221.4h0M659.5 220.1h0M659.6 221.5h0M659.7 223.9h0M659.8 221.8h0M660 219.9h0M660.1 216.9h0M660.2 215.2h0M660.3 213.2h0M660.5 214.5h0M660.6 215.1h0M660.7 215.6h0M660.8 217.6h0M661 218.6h0M661.1 220.9h0M661.2 222h0M661.4 223.8h0M661.5 226.5h0M661.6 228.4h0M661.7 230.6h0M661.9 229.8h0M662 227.1h0M662.1 223.7h0M662.2 221.7h0M662.4 220h0M662.5 218.5h0M662.6 217.4h0M662.8 214.4h0M662.9 213.6h0M663 211.9h0M663.1 211.8h0M663.3 212.3h0M663.4 214.5h0M663.5 216.8h0M663.6 217.8h0M663.8 219.3h0M663.9 220.7h0M664 223.1h0M664.1 226.7h0M664.3 227h0M664.4 229.5h0M664.5 230.3h0M664.7 228.4h0M664.8 227.4h0M664.9 224.8h0M665 223.6h0M665.2 221.4h0M665.3 222h0M665.4 222.1h0M665.5 222.4h0M665.7 219.9h0M665.8 218.6h0M665.9 217.3h0M666.1 215.6h0M666.2 215.6h0M666.3 213.5h0M666.4 215h0M666.6 217.9h0M666.7 218h0M666.8 217.3h0M666.9 216.5h0M667.1 214h0M667.2 213.8h0M667.3 216.4h0M667.5 217.3h0M667.6 219.5h0M667.7 220h0M667.8 220.8h0M668 222h0M668.1 222.9h0M668.2 226h0M668.3 225.1h0M668.5 227.5h0M668.6 230.6h0M668.7 230.3h0M668.8 230.1h0M669 228h0M669.1 226.4h0M669.2 229.1h0M669.4 230.9h0M669.5 231h0M669.6 230.1h0M669.7 227.5h0M669.9 227.3h0M670 224.7h0M670.1 223.2h0M670.2 221.2h0M670.4 220.8h0M670.5 218.7h0M670.6 217.9h0M670.8 216.6h0M670.9 214.3h0M671 214.2h0M671.1 216.3h0M671.3 218h0M671.4 220.1h0M671.5 221.8h0M671.6 223.1h0M671.8 224.6h0M671.9 226.7h0M672 225.5h0M672.2 224.8h0M672.3 226.9h0M672.4 227.8h0M672.5 229.9h0M672.7 230.4h0M672.8 232.4h0M672.9 231.9h0M673 232.1h0M673.2 230.6h0M673.3 229.1h0M673.4 228.5h0M673.5 229.3h0M673.7 231.6h0M673.8 232.5h0M673.9 233.9h0M674.1 234.2h0M674.2 233.6h0M674.3 232.5h0M674.4 231.3h0M674.6 230.7h0M674.7 228.8h0M674.8 227.4h0M674.9 226.2h0M675.1 224.1h0M675.2 222.7h0M675.3 224.9h0M675.5 226.8h0M675.6 228.2h0M675.7 230.1h0M675.8 231.4h0M676 230.3h0M676.1 230.3h0M676.2 228.5h0M676.3 227.3h0M676.5 226.1h0M676.6 225.9h0M676.7 225.3h0M676.8 228.8h0M677 230.4h0M677.1 232.1h0M677.2 233.5h0M677.4 234.9h0M677.5 237.1h0M677.6 238.3h0M677.7 239.9h0M677.9 241.8h0M678 243.9h0M678.1 242.5h0M678.2 242.1h0M678.4 242.6h0M678.5 243.7h0M678.6 243.5h0M678.8 241.4h0M678.9 239.4h0M679 238.5h0M679.1 236.3h0M679.3 235.3h0M679.4 235.1h0M679.5 234.2h0M679.6 231.7h0M679.8 232.5h0M679.9 235.5h0M680 237.8h0M680.2 238.9h0M680.3 240.3h0M680.4 240.4h0M680.5 239.7h0M680.7 236.7h0M680.8 234.2h0M680.9 232.2h0M681 230.3h0M681.2 232.2h0M681.3 233.4h0M681.4 234.6h0M681.5 234.6h0M681.7 235.7h0M681.8 236.8h0M681.9 237.9h0M682.1 240h0M682.2 241.2h0M682.3 242.2h0M682.4 244h0M682.6 242.4h0M682.7 239.3h0M682.8 236.9h0M682.9 233.3h0M683.1 228.6h0M683.2 229.1h0M683.3 228.2h0M683.5 228.2h0M683.6 227.6h0M683.7 226.3h0M683.8 222.8h0M684 219.4h0M684.1 221.4h0M684.2 221.6h0M684.3 219.2h0M684.5 216h0M684.6 213.5h0M684.7 210.9h0M684.9 208.8h0M685 206.6h0M685.1 204.8h0M685.2 202.4h0M685.4 200h0M685.5 196.8h0M685.6 193.4h0M685.7 194.4h0M685.9 195h0M686 196.8h0M686.1 199.1h0M686.2 199.8h0M686.4 202.1h0M686.5 204.6h0M686.6 206h0M686.8 206.3h0M686.9 209h0M687 209.1h0M687.1 208.8h0M687.3 206.7h0M687.4 204.1h0M687.5 202.7h0M687.6 201.5h0M687.8 200h0M687.9 198.5h0M688 196.7h0M688.2 194.9h0M688.3 192.7h0M688.4 191.5h0M688.5 189h0M688.7 190.4h0M688.8 192.9h0M688.9 195.4h0M689 197.6h0M689.2 198.9h0M689.3 199.8h0M689.4 202.2h0M689.5 203.9h0M689.7 205.9h0M689.8 206.3h0M689.9 204.5h0M690.1 203.1h0M690.2 203.7h0M690.3 200.5h0M690.4 197.9h0M690.6 196.7h0M690.7 195.1h0M690.8 193.7h0M690.9 192.4h0M691.1 191.6h0M691.2 189.7h0M691.3 192h0M691.5 193.6h0M691.6 195.6h0M691.7 197.8h0M691.8 200.2h0M692 202.7h0M692.1 205.3h0M692.2 207.8h0M692.3 209.7h0M692.5 212.4h0M692.6 212.4h0M692.7 210.8h0M692.9 209.7h0M693 211.9h0M693.1 214.9h0M693.2 213.8h0M693.4 211.3h0M693.5 210.4h0M693.6 207h0M693.7 204.3h0M693.9 201.8h0M694 200.5h0M694.1 204.6h0M694.2 208.1h0M694.4 211.6h0M694.5 214.3h0M694.6 213.2h0M694.8 212.7h0M694.9 212h0M695 212.7h0M695.1 212h0M695.3 216.9h0M695.4 220.2h0M695.5 224.3h0M695.6 227.6h0M695.8 231.9h0M695.9 234h0M696 239.9h0M696.2 244.3h0M696.3 245.3h0M696.4 243.7h0M696.5 240.2h0M696.7 238.4h0M696.8 233.2h0M696.9 232.3h0M697 230.7h0M697.2 229.4h0M697.3 225.4h0M697.4 223.6h0M697.6 220.6h0M697.7 221.7h0M697.8 223.7h0M697.9 225.3h0M698.1 223.4h0M698.2 221.7h0M698.3 222.3h0M698.4 223.5h0M698.6 227.1h0M698.7 229.2h0M698.8 231h0M698.9 233h0M699.1 235.6h0M699.2 241h0M699.3 243.1h0M699.5 245.5h0M699.6 248.4h0M699.7 250.3h0M699.8 252h0M700 250.3h0M700.1 248.6h0M700.2 249.8h0M700.3 252h0M700.5 251.8h0M700.6 249.7h0M700.7 247.4h0M700.9 246.9h0M701 248.8h0M701.1 250.6h0M701.2 252.5h0M701.4 253.9h0M701.5 253.2h0M701.6 252.2h0M701.7 251.2h0M701.9 251.8h0M702 250.4h0M702.1 250h0M702.2 250.1h0M702.4 248.7h0M702.5 248.1h0M702.6 246.8h0M702.8 245.6h0M702.9 249.2h0M703 250.3h0M703.1 255.1h0M703.3 257.3h0M703.4 258.9h0M703.5 261.6h0M703.6 261.5h0M703.8 263.8h0M703.9 268.4h0M704 266.8h0M704.2 265.6h0M704.3 265.7h0M704.4 265.1h0M704.5 263.2h0M704.7 263.6h0M704.8 262.7h0M704.9 261.5h0M705 262.9h0M705.2 266.8h0M705.3 270.8h0M705.4 276.1h0M705.6 273.2h0M705.7 271.9h0M705.8 275.7h0M705.9 280.7h0M706.1 283.6h0M706.2 279.3h0M706.3 277h0M706.4 274.8h0M706.6 270.2h0M706.7 268.8h0M706.8 265.3h0M706.9 269.8h0M707.1 274.9h0M707.2 278.4h0M707.3 282.3h0M707.5 285.6h0M707.6 290.5h0M707.7 295h0M707.8 298.8h0M708 302h0M708.1 298h0M708.2 294.8h0M708.3 290.9h0M708.5 286.6h0M708.6 283.5h0M708.7 288.6h0M708.9 290h0M709 293.5h0M709.1 296.9h0M709.2 300.1h0M709.4 304.6h0M709.5 306.9h0M709.6 311.1h0M709.7 309.6h0M709.9 304.2h0M710 299.3h0M710.1 294.6h0M710.3 291.6h0M710.4 288h0M710.5 284h0M710.6 281.8h0M710.8 278.5h0M710.9 273.3h0M711 271.4h0M711.1 267.7h0M711.3 271h0M711.4 274.1h0M711.5 277.4h0M711.6 280.7h0M711.8 281.9h0M711.9 283.6h0M712 286.9h0M712.2 291.9h0M712.3 294.8h0M712.4 297.4h0M712.5 300h0M712.7 295.7h0M712.8 293h0M712.9 291.1h0M713 286.2h0M713.2 283h0M713.3 280.3h0M713.4 282.3h0M713.6 280.2h0M713.7 276.5h0M713.8 273.9h0M713.9 270h0M714.1 271.7h0M714.2 269h0M714.3 269.4h0M714.4 271.4h0M714.6 273.1h0M714.7 273.4h0M714.8 276h0M714.9 273.2h0M715.1 274.7h0M715.2 276.1h0M715.3 278.3h0M715.5 278.9h0M715.6 280.5h0M715.7 281.2h0M715.8 283.8h0M716 284h0M716.1 286.8h0M716.2 287.5h0M716.3 288h0M716.5 285.5h0M716.6 283.2h0M716.7 280.4h0M716.9 277.4h0M717 276.2h0M717.1 272.9h0M717.2 273.4h0M717.4 274.3h0M717.5 273.7h0M717.6 276.4h0M717.7 277h0M717.9 276.7h0M718 277.6h0M718.1 277.4h0M718.3 276.6h0M718.4 274.7h0M718.5 277h0M718.6 277.5h0M718.8 278.4h0M718.9 277.4h0M719 275.9h0M719.1 274.5h0M719.3 275.4h0M719.4 273.5h0M719.5 272h0M719.6 271.5h0M719.8 273.2h0M719.9 274.8h0M720 273.9h0M720.2 273.9h0M720.3 272.2h0M720.4 270.1h0M720.5 269.5h0M720.7 269h0M720.8 268.3h0M720.9 270.2h0M721 271.1h0M721.2 272.2h0M721.3 272.5h0M721.4 276.1h0M721.6 275.1h0M721.7 272.1h0M721.8 272.7h0M721.9 272h0M722.1 270.8h0M722.2 269.6h0M722.3 271.5h0M722.4 269.7h0M722.6 270.1h0M722.7 270.7h0M722.8 273h0M723 274.5h0M723.1 276.5h0M723.2 277.8h0M723.3 280.1h0M723.5 278.2h0M723.6 277.1h0M723.7 274.7h0M723.8 273.1h0M724 271.4h0M724.1 273.7h0M724.2 275.7h0M724.3 277.3h0M724.5 279.3h0M724.6 281.2h0M724.7 284.2h0M724.9 286.1h0M725 288.4h0M725.1 290h0M725.2 292h0M725.4 292.3h0M725.5 291.2h0M725.6 293.7h0M725.7 293.2h0M725.9 293.5h0M726 292.6h0M726.1 291.1h0M726.3 289.5h0M726.4 289h0M726.5 288.5h0M726.6 289.8h0M726.8 291.1h0M726.9 291.9h0M727 294.1h0M727.1 296.1h0M727.3 296.9h0M727.4 294.7h0M727.5 294.2h0M727.6 292.7h0M727.8 294.3h0M727.9 295.1h0M728 296.1h0M728.2 296h0M728.3 295.8h0M728.4 294.3h0M728.5 293.3h0M728.7 292.6h0M728.8 291.4h0M728.9 291.1h0M729 289.6h0M729.2 287.6h0M729.3 285.8h0M729.4 284.2h0M729.6 283.2h0M729.7 281.1h0M729.8 282.1h0M729.9 283.1h0M730.1 283.6h0M730.2 285h0M730.3 286.2h0M730.4 287.6h0M730.6 287.6h0M730.7 290.1h0M730.8 291.8h0M731 293.9h0M731.1 293.8h0M731.2 293.2h0M731.3 290.4h0M731.5 287.1h0M731.6 288.3h0M731.7 289.1h0M731.8 290.7h0M732 291.8h0M732.1 291.8h0M732.2 290h0M732.3 291.1h0M732.5 290h0M732.6 288.4h0M732.7 287.2h0M732.9 285.3h0M733 283h0M733.1 284.7h0M733.2 282h0M733.4 279.9h0M733.5 278.9h0M733.6 277.5h0M733.7 276h0M733.9 277.8h0M734 278.6h0M734.1 279.1h0M734.3 280.7h0M734.4 281.5h0M734.5 284.5h0M734.6 285.7h0M734.8 286.8h0M734.9 285.5h0M735 283.5h0M735.1 280.4h0M735.3 278.9h0M735.4 277.2h0M735.5 276.3h0M735.7 273.6h0M735.8 271.8h0M735.9 269.9h0M736 269.1h0M736.2 270.6h0M736.3 272.2h0M736.4 273.5h0M736.5 274.5h0M736.7 276.1h0M736.8 275h0M736.9 271.8h0M737 272.7h0M737.2 271.2h0M737.3 268.1h0M737.4 267.3h0M737.6 268.5h0M737.7 267.1h0M737.8 267.8h0M737.9 269.7h0M738.1 269.8h0M738.2 271.3h0M738.3 271.9h0M738.4 274.2h0M738.6 275.1h0M738.7 276.3h0M738.8 278h0M739 279.6h0M739.1 277.8h0M739.2 277.9h0M739.3 276.8h0M739.5 274.9h0M739.6 272.9h0M739.7 271.4h0M739.8 270.6h0M740 271.5h0M740.1 272.5h0M740.2 274.1h0M740.3 274.3h0M740.5 275.9h0M740.6 277.6h0M740.7 275.1h0M740.9 273.5h0M741 273.9h0M741.1 276.1h0M741.2 276.2h0M741.4 275.3h0M741.5 272.9h0M741.6 271.9h0M741.7 269.2h0M741.9 268.1h0M742 266.9h0M742.1 264.7h0M742.3 263.4h0M742.4 262.7h0M742.5 264.5h0M742.6 264.7h0M742.8 265.3h0M742.9 266.5h0M743 268.3h0M743.1 270.9h0M743.3 271.3h0M743.4 269.2h0M743.5 267.8h0M743.7 267.3h0M743.8 264.7h0M743.9 263.8h0M744 262.9h0M744.2 261h0M744.3 262.5h0M744.4 262.3h0M744.5 263.5h0M744.7 264.2h0M744.8 265.6h0M744.9 265.4h0M745 267.3h0M745.2 269.3h0M745.3 270.4h0M745.4 271.9h0M745.6 273.3h0M745.7 274.8h0M745.8 275.9h0M745.9 275.2h0M746.1 276.6h0M746.2 276.2h0M746.3 279.3h0M746.4 283.2h0M746.6 286h0M746.7 286h0M746.8 286.2h0M747 286.4h0M747.1 287.1h0M747.2 286.3h0M747.3 286.2h0M747.5 284.2h0M747.6 282.1h0M747.7 280.7h0M747.8 283.9h0M748 286.5h0M748.1 290.2h0M748.2 288.4h0M748.4 286.5h0M748.5 283.5h0M748.6 282.3h0M748.7 281.9h0M748.9 287.7h0M749 291.8h0M749.1 293.2h0M749.2 295.7h0M749.4 297.2h0M749.5 300.2h0M749.6 302.5h0M749.7 303.7h0M749.9 302.3h0M750 297.9h0M750.1 295h0M750.3 290h0M750.4 286.8h0M750.5 281.4h0M750.6 278h0M750.8 277.7h0M750.9 278.9h0M751 279.9h0M751.1 280.4h0M751.3 281h0M751.4 281.7h0M751.5 282.2h0M751.7 283.5h0M751.8 283.9h0M751.9 284.5h0M752 283.8h0M752.2 284.1h0M752.3 282.9h0M752.4 279.3h0M752.5 276.9h0M752.7 271.6h0M752.8 269.3h0M752.9 265.5h0M753 262.6h0M753.2 259.3h0M753.3 256.6h0M753.4 253.6h0M753.6 249.9h0M753.7 247.3h0M753.8 248.4h0M753.9 248.2h0M754.1 246.2h0M754.2 246.5h0M754.3 246.9h0M754.4 247.5h0M754.6 248.8h0M754.7 250.1h0M754.8 249.9h0M755 251.2h0M755.1 251.9h0M755.2 253.3h0M755.3 251.5h0M755.5 252.6h0M755.6 254.3h0M755.7 256.3h0M755.8 256.5h0M756 256.1h0M756.1 253.7h0M756.2 252h0M756.4 251.2h0M756.5 250.6h0M756.6 249.2h0M756.7 246.8h0M756.9 248.9h0M757 249.8h0M757.1 251.3h0M757.2 254.5h0M757.4 255.6h0M757.5 257.7h0M757.6 259.5h0M757.7 261.6h0M757.9 263.9h0M758 266.1h0M758.1 267.1h0M758.3 266.8h0M758.4 265.3h0M758.5 265.2h0M758.6 267h0M758.8 267.1h0M758.9 267.1h0M759 265h0M759.1 266h0M759.3 265.9h0M759.4 265.1h0M759.5 264.7h0M759.7 265.9h0M759.8 269.2h0M759.9 273.5h0M760 278.7h0M760.2 282.4h0M760.3 285.1h0M760.4 288.3h0M760.5 292.7h0M760.7 296.3h0M760.8 295.5h0M760.9 295h0M761.1 294.8h0M761.2 291.3h0M761.3 293.4h0M761.4 294.8h0M761.6 294.3h0M761.7 295.6h0M761.8 296.8h0M761.9 295.8h0M762.1 294h0M762.2 291.8h0M762.3 290.9h0M762.4 289.5h0M762.6 286.7h0M762.7 283.9h0M762.8 280.3h0M763 278.2h0M763.1 274.9h0M763.2 272.8h0M763.3 270.1h0M763.5 269.2h0M763.6 268.7h0M763.7 268.8h0M763.8 268.1h0M764 270h0M764.1 270.4h0M764.2 268.8h0M764.4 265.2h0M764.5 263.5h0M764.6 260.5h0M764.7 258.9h0M764.9 259.3h0M765 260.7h0M765.1 260.4h0M765.2 260.1h0M765.4 261.1h0M765.5 261.7h0M765.6 261.2h0M765.7 261.4h0M765.9 261.7h0M766 262.1h0M766.1 262.7h0M766.3 260.7h0M766.4 258.6h0M766.5 259.2h0M766.6 256.6h0M766.8 257.5h0M766.9 261.1h0M767 262.8h0M767.1 264.9h0M767.3 266.4h0M767.4 267.7h0M767.5 267h0M767.7 265.5h0M767.8 264.3h0M767.9 263.9h0M768 261.8h0M768.2 261.9h0M768.3 259.2h0M768.4 259.3h0M768.5 258.5h0M768.7 256.4h0M768.8 259h0M768.9 260.3h0M769.1 258h0M769.2 257.9h0M769.3 256.9h0M769.4 259.7h0M769.6 260.6h0M769.7 260.1h0M769.8 258.6h0M769.9 258.5h0M770.1 259.5h0M770.2 261h0M770.3 265.2h0M770.4 265.9h0M770.6 267.2h0M770.7 270.6h0M770.8 271.1h0M771 272.2h0M771.1 273.9h0M771.2 274.1h0M771.3 272.4h0M771.5 272.2h0M771.6 271h0M771.7 269.2h0M771.8 268.2h0M772 269.3h0M772.1 270.1h0M772.2 272.6h0M772.4 273.2h0M772.5 274.9h0M772.6 273.8h0M772.7 271.6h0M772.9 274.5h0M773 273.2h0M773.1 271.9h0M773.2 269.9h0M773.4 269.9h0M773.5 267.3h0M773.6 265.2h0M773.8 262.6h0M773.9 260h0M774 259.5h0M774.1 260.7h0M774.3 262.5h0M774.4 263.6h0M774.5 263.4h0M774.6 260.8h0M774.8 260.9h0M774.9 263.3h0M775 264.7h0M775.1 266.2h0M775.3 267.2h0M775.4 269.3h0M775.5 270.5h0M775.7 272.6h0M775.8 273.4h0M775.9 275.4h0M776 276.7h0M776.2 279.2h0M776.3 279.2h0M776.4 279.3h0M776.5 279.7h0M776.7 277.8h0M776.8 274.7h0M776.9 274.1h0M777.1 275.8h0M777.2 273.7h0M777.3 272.3h0M777.4 270.3h0M777.6 268.2h0M777.7 265.9h0M777.8 266.7h0M777.9 263.6h0M778.1 261.1h0M778.2 260.6h0M778.3 261h0M778.4 261.9h0M778.6 263.9h0M778.7 261.4h0M778.8 260.5h0M779 261.3h0M779.1 263.9h0M779.2 265h0M779.3 265.2h0M779.5 264.9h0M779.6 263.4h0M779.7 261.7h0M779.8 260.1h0M780 259.4h0M780.1 260.1h0M780.2 260.5h0M780.4 259.3h0M780.5 258.2h0M780.6 257.8h0M780.7 259.3h0M780.9 259.4h0M781 260.4h0M781.1 260h0M781.2 261.6h0M781.4 261.9h0M781.5 262h0M781.6 262h0M781.8 260.6h0M781.9 260.5h0M782 259h0M782.1 257.3h0M782.3 254.9h0M782.4 253.3h0M782.5 252.1h0M782.6 251.4h0M782.8 249.3h0M782.9 247.3h0M783 245.5h0M783.1 244.1h0M783.3 243.8h0M783.4 245.3h0M783.5 244.6h0M783.7 244.3h0M783.8 244.2h0M783.9 242.1h0M784 239.8h0M784.2 241.2h0M784.3 240h0M784.4 239.6h0M784.5 237.6h0M784.7 236.4h0M784.8 234.1h0M784.9 232.8h0M785.1 230.4h0M785.2 228.7h0M785.3 230.6h0M785.4 232h0M785.6 232.9h0M785.7 234.7h0M785.8 236h0M785.9 237.1h0M786.1 236.6h0M786.2 237h0M786.3 238.4h0M786.5 239.4h0M786.6 241.9h0M786.7 243.8h0M786.8 243.4h0M787 243.1h0M787.1 242.9h0M787.2 243.5h0M787.3 243.1h0M787.5 244.5h0M787.6 246.7h0M787.7 248.7h0M787.8 249.5h0M788 249.3h0M788.1 251h0M788.2 249.2h0M788.4 248.8h0M788.5 247.9h0M788.6 247.6h0M788.7 247.5h0M788.9 246.8h0M789 245.5h0M789.1 246.3h0M789.2 247.4h0M789.4 250.9h0M789.5 250.7h0M789.6 252.4h0M789.8 253.9h0M789.9 256.6h0M790 257h0M790.1 259.5h0M790.3 257.2h0M790.4 256.3h0M790.5 256.6h0M790.6 256.6h0M790.8 255.8h0M790.9 255.1h0M791 255.8h0M791.1 258.7h0M791.3 257.4h0M791.4 256.9h0M791.5 258h0M791.7 258h0M791.8 257.6h0M791.9 256.2h0M792 257.2h0M792.2 259.5h0M792.3 261.3h0M792.4 263.9h0M792.5 265.6h0M792.7 267.1h0M792.8 269.1h0M792.9 271.3h0M793.1 273.1h0M793.2 275.7h0M793.3 278h0M793.4 277h0M793.6 275.9h0M793.7 274.7h0M793.8 274.4h0M793.9 274h0M794.1 275.1h0M794.2 277.5h0M794.3 276.9h0M794.5 276.1h0M794.6 275.7h0M794.7 274.7h0M794.8 274.2h0M795 273.9h0M795.1 272.9h0M795.2 274.3h0M795.3 275.2h0M795.5 277h0M795.6 277.9h0M795.7 278h0M795.8 276.7h0M796 278.5h0M796.1 279.4h0M796.2 280.1h0M796.4 280h0M796.5 278h0M796.6 278.5h0M796.7 279h0M796.9 280.3h0M797 279.8h0M797.1 278.5h0M797.2 277.7h0M797.4 275.9h0M797.5 277.2h0M797.6 277.2h0M797.8 276.9h0M797.9 274.7h0M798 273.5h0M798.1 272.4h0M798.3 272.7h0M798.4 270.8h0M798.5 270.4h0M798.6 270.8h0M798.8 271.6h0M798.9 273.5h0M799 273.6h0M799.2 274.9h0M799.3 275h0M799.4 274.9h0M799.5 274h0M799.7 272.8h0M799.8 273.6h0M799.9 274h0M800 274.8h0M800.2 274.6h0M800.3 274.2h0M800.4 273.8h0M800.5 271.4h0M800.7 271.1h0M800.8 269.7h0M800.9 269.9h0M801.1 268.5h0M801.2 267.4h0M801.3 266.2h0M801.4 267.1h0M801.6 268.6h0M801.7 269.7h0M801.8 269.2h0M801.9 268h0M802.1 266.2h0M802.2 269h0M802.3 266.6h0M802.5 268h0M802.6 268.7h0M802.7 267.1h0M802.8 267.9h0M803 268.5h0M803.1 270h0M803.2 271.7h0M803.3 272h0M803.5 273.1h0M803.6 274.1h0M803.7 275.5h0M803.8 276.8h0M804 277.5h0M804.1 278.4h0M804.2 280.3h0M804.4 277.8h0M804.5 279.4h0M804.6 280.1h0M804.7 278.6h0M804.9 277.9h0M805 276.2h0M805.1 276.3h0M805.2 274.5h0M805.4 272.2h0M805.5 274.1h0M805.6 275.7h0M805.8 277.1h0M805.9 279.3h0M806 279.7h0M806.1 279.4h0M806.3 278.4h0M806.4 277.5h0M806.5 276.1h0M806.6 274.8h0M806.8 271.5h0M806.9 270.2h0M807 270.2h0M807.2 269.5h0M807.3 268.5h0M807.4 269h0M807.5 270.5h0M807.7 271.9h0M807.8 272.3h0M807.9 274.5h0M808 276.6h0M808.2 277.2h0M808.3 278.3h0M808.4 279.8h0M808.5 280.6h0M808.7 280.1h0M808.8 280.1h0M808.9 279.2h0M809.1 280.1h0M809.2 279.2h0M809.3 278h0M809.4 278.5h0M809.6 280.4h0M809.7 278.9h0M809.8 279h0M809.9 276.4h0M810.1 276.1h0M810.2 275.3h0M810.3 273.9h0M810.5 272h0M810.6 270.2h0M810.7 270.8h0M810.8 273.7h0M811 274.5h0M811.1 275.7h0M811.2 277h0M811.3 277.6h0M811.5 279h0M811.6 279.6h0M811.7 279h0M811.9 278.3h0M812 280.1h0M812.1 278.6h0M812.2 277.6h0M812.4 276.5h0M812.5 273.8h0M812.6 272.3h0M812.7 269.7h0M812.9 268.3h0M813 269.6h0M813.1 269.9h0M813.2 271h0M813.4 271.4h0M813.5 272.4h0M813.6 272.5h0M813.8 273.5h0M813.9 274.3h0M814 273.7h0M814.1 272.6h0M814.3 272.5h0M814.4 269.8h0M814.5 269.2h0M814.6 267h0M814.8 266h0M814.9 265.8h0M815 265.6h0M815.2 263.8h0M815.3 264.1h0M815.4 264.6h0M815.5 265.6h0M815.7 265.6h0M815.8 266.1h0M815.9 265.8h0M816 264.9h0M816.2 265.9h0M816.3 265.9h0M816.4 263.8h0M816.5 262.9h0M816.7 260.9h0M816.8 258.9h0M816.9 257.5h0M817.1 256.1h0M817.2 256.3h0M817.3 256.7h0M817.4 256.5h0M817.6 258.2h0M817.7 259h0M817.8 258.9h0M817.9 259.3h0M818.1 257.4h0M818.2 255.7h0M818.3 255.1h0M818.5 253.8h0M818.6 252.2h0M818.7 253.2h0M818.8 254.5h0M819 254h0M819.1 253.4h0M819.2 253.3h0M819.3 252.8h0M819.5 251.9h0M819.6 252.8h0M819.7 252.9h0M819.9 254.6h0M820 255.4h0M820.1 256.2h0M820.2 258.1h0M820.4 257.2h0M820.5 256.8h0M820.6 256.1h0M820.7 256h0M820.9 254.3h0M821 254.5h0M821.1 255.8h0M821.2 257.7h0M821.4 259.2h0M821.5 259.3h0M821.6 260.2h0M821.8 261.8h0M821.9 262.9h0M822 261.7h0M822.1 263.4h0M822.3 263.9h0M822.4 264.7h0M822.5 264.6h0M822.6 266h0M822.8 266.5h0M822.9 266.5h0M823 266.3h0M823.2 266.2h0M823.3 266.5h0M823.4 264h0M823.5 264.8h0M823.7 264.8h0M823.8 266.2h0M823.9 266.4h0M824 268.2h0M824.2 268.6h0M824.3 269.9h0M824.4 271.7h0M824.6 273.3h0M824.7 274.3h0M824.8 272.7h0M824.9 273.8h0M825.1 275h0M825.2 273.6h0M825.3 273.1h0M825.4 270.9h0M825.6 270.3h0M825.7 269h0M825.8 268.5h0M825.9 266.8h0M826.1 266.1h0M826.2 266.6h0M826.3 268.1h0M826.5 268.7h0M826.6 269.1h0M826.7 270h0M826.8 269.7h0M827 270.4h0M827.1 271.6h0M827.2 273.5h0M827.3 273.7h0M827.5 272.8h0M827.6 272.8h0M827.7 270h0M827.9 270.4h0M828 268.8h0M828.1 267.2h0M828.2 265.6h0M828.4 264.9h0M828.5 264.7h0M828.6 263h0M828.7 262h0M828.9 262.9h0M829 263.4h0M829.1 265.3h0M829.2 264.9h0M829.4 266.8h0M829.5 268.6h0M829.6 269.9h0M829.8 268.7h0M829.9 267.1h0M830 265.3h0M830.1 264.7h0M830.3 262h0M830.4 261.3h0M830.5 264.1h0M830.6 265.3h0M830.8 266.1h0M830.9 266.7h0M831 268.2h0M831.2 269.3h0M831.3 271.1h0M831.4 272.2h0M831.5 272.4h0M831.7 270.7h0M831.8 269.4h0M831.9 271.5h0M832 270.4h0M832.2 267.7h0M832.3 269.5h0M832.4 271h0M832.6 272.1h0M832.7 270h0M832.8 268.7h0M832.9 268.3h0M833.1 266h0M833.2 266.2h0M833.3 264.3h0M833.4 265.6h0M833.6 267.5h0M833.7 269.7h0M833.8 270.4h0M833.9 271.8h0M834.1 271h0M834.2 271.6h0M834.3 271.6h0M834.5 270.2h0M834.6 269.4h0M834.7 267.3h0M834.8 265.1h0M835 265.3h0M835.1 264.4h0M835.2 265.2h0M835.3 265.3h0M835.5 266.6h0M835.6 264h0M835.7 265.5h0M835.9 266.7h0M836 267.5h0M836.1 268.9h0M836.2 269.1h0M836.4 270.2h0M836.5 271.1h0M836.6 270.4h0M836.7 271.9h0M836.9 271.7h0M837 269.9h0M837.1 268.8h0M837.3 267h0M837.4 266.2h0M837.5 265.5h0M837.6 262.8h0M837.8 264.1h0M837.9 265.8h0M838 268.1h0M838.1 269.5h0M838.3 267.8h0M838.4 267.3h0M838.5 266h0M838.6 267.2h0M838.8 268.3h0M838.9 268.7h0M839 268.2h0M839.2 266.3h0M839.3 265.6h0M839.4 263.5h0M839.5 265.5h0M839.7 266h0M839.8 267h0M839.9 268h0M840 268.5h0M840.2 271.2h0M840.3 269.6h0M840.4 268.9h0M840.6 268.3h0M840.7 266.9h0M840.8 266.2h0M840.9 264.6h0M841.1 263.7h0M841.2 262.5h0M841.3 262.8h0M841.4 264.9h0M841.6 265h0M841.7 267.2h0M841.8 267.6h0M841.9 266.5h0M842.1 264.9h0M842.2 263.7h0M842.3 263.3h0M842.5 262.8h0M842.6 263.7h0M842.7 264.8h0M842.8 264.5h0M843 265.4h0M843.1 267.4h0M843.2 267.6h0M843.3 268.5h0M843.5 269.2h0M843.6 270.9h0M843.7 272.2h0M843.9 273.3h0M844 272.8h0M844.1 271.6h0M844.2 274.2h0M844.4 272.3h0M844.5 272.2h0M844.6 273.3h0M844.7 273h0M844.9 272.6h0M845 272.6h0M845.1 274.7h0M845.3 272.6h0M845.4 272.7h0M845.5 270.6h0M845.6 270.7h0M845.8 270.6h0M845.9 271.6h0M846 272.6h0M846.1 273.3h0M846.3 273.8h0M846.4 273.8h0M846.5 274.3h0M846.6 274h0M846.8 273.9h0M846.9 273.7h0M847 272.4h0M847.2 271.6h0M847.3 272.3h0M847.4 272.1h0M847.5 273.2h0M847.7 273.9h0M847.8 274h0M847.9 272.7h0M848 271.1h0M848.2 270.2h0M848.3 269.3h0M848.4 267.3h0M848.6 267.3h0M848.7 266.6h0M848.8 267.6h0M848.9 267.9h0M849.1 267.6h0M849.2 267.5h0M849.3 268.8h0M849.4 268.6h0M849.6 269.6h0M849.7 267.5h0M849.8 267.6h0M850 266.6h0M850.1 264.9h0M850.2 264.1h0M850.3 262h0M850.5 261.6h0M850.6 261.1h0M850.7 260.4h0M850.8 261.9h0M851 261.6h0M851.1 262.7h0M851.2 262h0M851.3 261.5h0M851.5 260.4h0M851.6 259.8h0M851.7 258.1h0M851.9 257.7h0M852 257.6h0M852.1 258h0M852.2 259.3h0M852.4 260.1h0M852.5 260h0M852.6 258.7h0M852.7 258.5h0M852.9 257.6h0M853 257.3h0M853.1 256.2h0M853.3 254.8h0M853.4 255.8h0M853.5 257.6h0M853.6 256.5h0M853.8 256.7h0M853.9 256.6h0M854 255.9h0M854.1 255.7h0M854.3 256.1h0M854.4 255.1h0M854.5 255.1h0M854.6 256h0M854.8 257h0M854.9 256.7h0M855 258.6h0M855.2 257.6h0M855.3 256.5h0M855.4 255.8h0M855.5 256.6h0M855.7 257.8h0M855.8 259.1h0M855.9 259.5h0M856 261h0M856.2 261.1h0M856.3 264.4h0M856.4 263.1h0M856.6 263.2h0M856.7 263.6h0M856.8 262.9h0M856.9 262.9h0M857.1 263.5h0M857.2 263h0M857.3 261.9h0M857.4 262.4h0M857.6 264.1h0M857.7 264.5h0M857.8 267.1h0M858 266.9h0M858.1 265.6h0M858.2 267.6h0M858.3 270h0M858.5 271.6h0M858.6 272.9h0M858.7 273.5h0M858.8 275h0M859 274.3h0M859.1 274.4h0M859.2 274.6h0M859.3 273.4h0M859.5 272.1h0M859.6 273h0M859.7 272.9h0M859.9 275.4h0M860 276.1h0M860.1 277.1h0M860.2 278.7h0M860.4 278.1h0M860.5 278.2h0M860.6 277.8h0M860.7 277.8h0M860.9 277.3h0M861 276.3h0M861.1 274.9h0M861.3 273.6h0M861.4 272.7h0M861.5 272.9h0M861.6 272.9h0M861.8 271.9h0M861.9 273.9h0M862 274h0M862.1 274.8h0M862.3 275.9h0M862.4 276.8h0M862.5 274.9h0M862.7 274.6h0M862.8 275.1h0M862.9 276.1h0M863 276.3h0M863.2 276.9h0M863.3 277.4h0M863.4 277.4h0M863.5 274.8h0M863.7 273h0M863.8 272.3h0M863.9 275.7h0M864 274.6h0M864.2 275.6h0M864.3 273.3h0M864.4 272.9h0M864.6 272.1h0M864.7 271.5h0M864.8 269.4h0M864.9 269.9h0M865.1 271.3h0M865.2 272.1h0M865.3 273.1h0M865.4 272h0M865.6 271.1h0M865.7 269.7h0M865.8 270.6h0M866 270.9h0M866.1 272.3h0M866.2 270.5h0M866.3 270.9h0M866.5 269.3h0M866.6 269.8h0M866.7 269.9h0M866.8 271.5h0M867 272.7h0M867.1 271.6h0M867.2 270.3h0M867.3 269.1h0M867.5 269.3h0M867.6 270.6h0M867.7 271.5h0M867.9 271.2h0M868 272.3h0M868.1 272.7h0M868.2 271h0M868.4 270.4h0M868.5 269.6h0M868.6 269.3h0M868.7 269.6h0M868.9 270.7h0M869 271.3h0M869.1 272.3h0M869.3 272.7h0M869.4 273.4h0M869.5 273.8h0M869.6 275.3h0M869.8 275.9h0M869.9 274.6h0M870 273.4h0M870.1 272.9h0M870.3 271.2h0M870.4 271.1h0M870.5 270.1h0M870.7 269.1h0M870.8 269.7h0M870.9 270.3h0M871 270.3h0M871.2 271.1h0M871.3 272.5h0M871.4 273.6h0M871.5 274.5h0M871.7 275.9h0M871.8 276.6h0M871.9 276.7h0M872 274.6h0M872.2 274.3h0M872.3 273.6h0M872.4 273.3h0M872.6 272.7h0M872.7 270.8h0M872.8 270.7h0M872.9 271.8h0M873.1 272.2h0M873.2 273.8h0M873.3 272.4h0M873.4 272.4h0M873.6 271.5h0M873.7 273.1h0M873.8 273.1h0M874 274.5h0M874.1 275.3h0M874.2 276.8h0M874.3 275.4h0M874.5 274.8h0M874.6 274.1h0M874.7 273.9h0M874.8 272.3h0M875 270.6h0M875.1 271.9h0M875.2 273h0M875.4 273.1h0M875.5 274.8h0M875.6 276.4h0M875.7 276.9h0M875.9 277.2h0M876 277.1h0M876.1 276.8h0M876.2 275.7h0M876.4 275.8h0M876.5 274.8h0M876.6 275.5h0M876.7 275.7h0M876.9 275.1h0M877 276.5h0M877.1 276.4h0M877.3 276.9h0M877.4 278.7h0M877.5 278.3h0M877.6 278.6h0M877.8 277.7h0M877.9 276.1h0M878 275.7h0M878.1 273.9h0M878.3 274.1h0M878.4 275.1h0M878.5 275.6h0M878.7 277.3h0M878.8 278h0M878.9 278.5h0M879 279.1h0M879.2 280.3h0M879.3 280.1h0M879.4 278.5h0M879.5 278.5h0M879.7 277.5h0M879.8 277.8h0M879.9 276.7h0M880 276.2h0M880.2 275.6h0M880.3 275.4h0M880.4 276.8h0M880.6 276.2h0M880.7 276.2h0M880.8 277.2h0M880.9 278.1h0M881.1 279.2h0M881.2 279.5h0M881.3 279.8h0M881.4 277.4h0M881.6 276.9h0M881.7 277.3h0M881.8 278.4h0M882 278.2h0M882.1 277h0M882.2 275.9h0M882.3 275.1h0M882.5 273.9h0M882.6 272.9h0M882.7 271.4h0M882.8 272.1h0M883 272.4h0M883.1 273h0M883.2 270.8h0M883.4 270h0M883.5 268.4h0M883.6 267.9h0M883.7 268h0M883.9 265.8h0M884 266.8h0M884.1 265.7h0M884.2 265.6h0M884.4 266.4h0M884.5 267.2h0M884.6 268.8h0M884.7 269h0M884.9 268h0M885 268.9h0M885.1 268.9h0M885.3 267.6h0M885.4 268.1h0M885.5 266h0M885.6 265.4h0M885.8 264.2h0M885.9 264.1h0M886 265.5h0M886.1 265.1h0M886.3 265.6h0M886.4 266.7h0M886.5 267.4h0M886.7 267.8h0M886.8 267.5h0M886.9 266.8h0M887 266.1h0M887.2 266.4h0M887.3 265.4h0M887.4 264.8h0M887.5 263.5h0M887.7 264.7h0M887.8 265.3h0M887.9 265.8h0M888.1 266h0M888.2 267.1h0M888.3 267.4h0M888.4 269.6h0M888.6 268h0M888.7 268h0M888.8 266.1h0M888.9 266.6h0M889.1 264.4h0M889.2 263.8h0M889.3 266h0M889.4 267.7h0M889.6 267.5h0M889.7 269.7h0M889.8 270h0M890 270.8h0M890.1 271.3h0M890.2 272.1h0M890.3 272.3h0M890.5 271.5h0M890.6 271.2h0M890.7 272.1h0M890.8 271.6h0M891 271.4h0M891.1 271.4h0M891.2 271.3h0M891.4 271.5h0M891.5 272.2h0M891.6 272.4h0M891.7 273h0M891.9 274.8h0M892 274.1h0M892.1 275.7h0M892.2 277.5h0M892.4 278.5h0M892.5 278.9h0M892.6 280.3h0M892.7 281.3h0M892.9 282.6h0M893 282.3h0M893.1 283.2h0M893.3 283.3h0M893.4 283.9h0M893.5 283.3h0M893.6 283.1h0M893.8 283.4h0M893.9 282.6h0M894 282.8h0M894.1 281.8h0M894.3 281h0M894.4 279.6h0M894.5 280.6h0M894.7 282.3h0M894.8 282.4h0M894.9 282.6h0M895 283.3h0M895.2 284.3h0M895.3 285.6h0M895.4 286.4h0M895.5 286.2h0M895.7 285.6h0M895.8 285.6h0M895.9 283.4h0M896.1 282.2h0M896.2 282.4h0M896.3 281.1h0M896.4 279.7h0M896.6 280.8h0M896.7 282.1h0M896.8 282h0M896.9 281.5h0M897.1 281.4h0M897.2 279.5h0M897.3 279.9h0M897.4 280.9h0M897.6 280.7h0M897.7 283h0M897.8 282.4h0M898 283.4h0M898.1 283.3h0M898.2 284.1h0M898.3 283.9h0M898.5 285.2h0M898.6 285h0M898.7 284.5h0M898.8 283.6h0M899 281.7h0M899.1 280.9h0M899.2 280h0M899.4 282.1h0M899.5 281.7h0M899.6 282.8h0M899.7 283.9h0M899.9 284h0M900 284.3h0M900.1 283.4h0M900.2 284.1h0M900.4 283.6h0M900.5 283.4h0M900.6 283.2h0M900.8 283.5h0M900.9 283.2h0M901 283.7h0M901.1 284.5h0M901.3 283.2h0M901.4 282.8h0M901.5 282.2h0M901.6 281.4h0M901.8 281.2h0M901.9 282.4h0M902 282.2h0M902.1 282.1h0M902.3 283.7h0M902.4 284.3h0M902.5 283h0M902.7 281.5h0M902.8 281.4h0M902.9 281.7h0M903 280.1h0M903.2 278.9h0M903.3 278.6h0M903.4 279.2h0M903.5 279.2h0M903.7 279.9h0M903.8 281.4h0M903.9 281.4h0M904.1 279.8h0M904.2 280.3h0M904.3 278.1h0M904.4 278.2h0M904.6 279.7h0M904.7 280.7h0M904.8 280.9h0M904.9 281.9h0M905.1 282.9h0M905.2 283.8h0M905.3 284.8h0M905.4 284.1h0M905.6 284.6h0M905.7 284.1h0M905.8 283.9h0M906 283.2h0M906.1 282.7h0M906.2 281.6h0M906.3 279.7h0M906.5 278.6h0M906.6 278.8h0M906.7 280.4h0M906.8 281.2h0M907 281.4h0M907.1 283h0M907.2 284.1h0M907.4 285.1h0M907.5 284.6h0M907.6 284.5h0M907.7 283.5h0M907.9 282h0M908 280.7h0M908.1 280h0M908.2 280.2h0M908.4 279.4h0M908.5 280h0M908.6 281.3h0M908.8 280.3h0M908.9 279.2h0M909 279.4h0M909.1 279.6h0M909.3 280.4h0M909.4 280.9h0M909.5 281.6h0M909.6 283.6h0M909.8 283.9h0M909.9 284.4h0M910 285.3h0M910.1 284.8h0M910.3 284h0M910.4 284h0M910.5 282.1h0M910.7 281.5h0M910.8 282.8h0M910.9 283.9h0M911 283.6h0M911.2 285.6h0M911.3 285.7h0M911.4 286.5h0M911.5 286.3h0M911.7 284.1h0M911.8 284h0M911.9 282.7h0M912.1 282.1h0M912.2 281.6h0M912.3 281h0M912.4 281.3h0M912.6 281.2h0M912.7 282.3h0M912.8 283.4h0M912.9 284.1h0M913.1 285.7h0M913.2 286.8h0M913.3 287.2h0M913.5 287.9h0M913.6 288.8h0M913.7 287.9h0M913.8 288h0M914 286.9h0M914.1 286.4h0M914.2 285.9h0M914.3 284.4h0M914.5 284.8h0M914.6 285.1h0M914.7 285.7h0M914.8 285.8h0M915 287h0M915.1 288.3h0M915.2 288.8h0M915.4 290.3h0M915.5 290.4h0M915.6 289.5h0M915.7 289.6h0M915.9 288.8h0M916 287.3h0M916.1 287.5h0M916.2 287.5h0M916.4 285.4h0M916.5 285.2h0M916.6 282.7h0M916.8 281.4h0M916.9 280.1h0M917 279h0M917.1 279.1h0M917.3 279.2h0M917.4 279.1h0M917.5 277.8h0M917.6 276.8h0M917.8 275.9h0M917.9 273.8h0M918 274.2h0M918.1 273.6h0M918.3 274.6h0M918.4 274.2h0M918.5 274.4h0M918.7 274.7h0M918.8 275h0M918.9 275.6h0M919 274.4h0M919.2 273.7h0M919.3 273.2h0M919.4 271.6h0M919.5 270.6h0M919.7 269.8h0M919.8 269.8h0M919.9 269.6h0M920.1 270.1h0M920.2 269.4h0M920.3 269.7h0M920.4 269.3h0M920.6 269.4h0M920.7 269h0M920.8 268.5h0M920.9 269.3h0M921.1 270.5h0M921.2 271h0M921.3 271.6h0M921.5 271.6h0M921.6 270.2h0M921.7 269.3h0M921.8 269.7h0M922 271.7h0M922.1 270.5h0M922.2 271.1h0M922.3 272.7h0M922.5 273.7h0M922.6 274h0M922.7 272.9h0M922.8 273.4h0M923 273.7h0M923.1 275h0M923.2 273.6h0M923.4 273.8h0M923.5 273.3h0M923.6 273.8h0M923.7 273.3h0M923.9 273.5h0M924 274.5h0M924.1 275.1h0M924.2 277.6h0M924.4 278.9h0M924.5 280h0M924.6 281.7h0M924.8 283.7h0M924.9 284.9h0M925 285.6h0M925.1 286.2h0M925.3 286.2h0M925.4 284.8h0M925.5 286.9h0M925.6 289.1h0M925.8 290.1h0M925.9 290.3h0M926 290.9h0M926.2 290.2h0M926.3 288.6h0M926.4 289.2h0M926.5 289.1h0M926.7 290.9h0M926.8 290.7h0M926.9 290.2h0M927 289.4h0M927.2 290.7h0M927.3 291.6h0M927.4 290.7h0M927.5 291.6h0M927.7 290.1h0M927.8 289.8h0M927.9 288.3h0M928.1 287.8h0M928.2 286.3h0M928.3 285.1h0M928.4 285.1h0M928.6 286.1h0M928.7 287.4h0M928.8 287.8h0M928.9 289.1h0M929.1 289.7h0M929.2 290.9h0M929.3 290.7h0M929.5 289.3h0M929.6 288.5h0M929.7 288.1h0M929.8 286.6h0M930 286.2h0M930.1 284.8h0M930.2 283.5h0M930.3 283.7h0M930.5 284.4h0M930.6 285.5h0M930.7 285.3h0M930.8 283.1h0M931 284.5h0M931.1 284.8h0M931.2 286.5h0M931.4 287.8h0M931.5 285.3h0M931.6 285.6h0M931.7 283.8h0M931.9 285.2h0M932 285.8h0M932.1 285.4h0M932.2 286.8h0M932.4 288.4h0M932.5 290.1h0M932.6 289.7h0M932.8 288.7h0M932.9 287.5h0M933 287h0M933.1 286.3h0M933.3 285.4h0M933.4 283.6h0M933.5 283.9h0M933.6 283.3h0M933.8 283.2h0M933.9 284.4h0M934 285.3h0M934.2 286.1h0M934.3 286.9h0M934.4 287.9h0M934.5 289.5h0M934.7 289.1h0M934.8 289.4h0M934.9 287.3h0M935 288h0M935.2 286.3h0M935.3 284.6h0M935.4 283.6h0M935.5 283.3h0M935.7 283.8h0M935.8 284.8h0M935.9 285.5h0M936.1 286.9h0M936.2 288.2h0M936.3 289.2h0M936.4 289.6h0M936.6 287.8h0M936.7 288.4h0M936.8 288.4h0M936.9 289.1h0M937.1 288.7h0M937.2 286.1h0M937.3 285h0M937.5 283.2h0M937.6 283.1h0M937.7 283.4h0M937.8 283.4h0M938 282.7h0M270.6 303.4h0M270.7 292.9h0M253.8 314.9h0M253.2 318.4h0M252.6 323.4h0M252.5 329.4h0M253.4 326.4h0M254.3 320.4h0M121.2 473.9h0M121 470.9h0M156.2 462.4h0M162.2 461.6h0M226.4 378.4h0M235 424.4h0M233 420.9h0M234.2 423.4h0M236 420.4h0M276 240.3h0M276.5 216.6h0M276.5 204.8h0M276.5 195.3h0M276.5 192.8h0M276.2 182.2h0M276.5 175.9h0M276.5 130.6h0M277.2 122.2h0M277.5 115.3h0M277.5 111.3h0M278 107.8h0M278.1 103.4h0M281.2 103.4h0M280 100.3h0M278.1 94.8h0M278.1 88.4h0M278.1 79.8h0M281.2 81.6h0M281.2 75.3h0M281.2 69.8h0M279.4 65.9h0M280.6 61.6h0M283.8 59.8h0M280.6 53.5h0M283.1 52.9h0M280.6 49.8h0M279.4 43.5h0M282.5 41.6h0M281.2 45.9h0M282 48.4h0M281.8 56.4h0M282.2 64.3h0M280.4 72.3h0M280 78.3h0M279.6 84.8h0M280.2 90.8h0M279.2 97.8h0M282.6 99.3h0M282.4 72.3h0M283.8 84.1h0M288.5 85.3h0M288.1 89.1h0M285 92.2h0M288.1 98.4h0M288 105.3h0M288 107.8h0M287.5 111.3h0M288 116.3h0M289.4 119.8h0M285 122.2h0M283.8 125.9h0M290 125.3h0M287 123.3h0M286 128.3h0M285 131.6h0M287 134.3h0M285.6 137.8h0M286.5 141.3h0M283 143.3h0M285.6 147.8h0M284.6 152.3h0M296 149.8h0M284.4 160.3h0M283.8 160.9h0M292.3 151.3h0M292 155.8h0M293.8 164.3h0M294.5 170.3h0M293.6 174.8h0M294 178.3h0M296.5 180.3h0M298.5 183.3h0M294 183.3h0M295.2 190.8h0M299 190.3h0M291.5 153.3h0M292.5 157.8h0M292.5 160.3h0M293.8 167.3h0M293 163.3h0M295 172.8h0M295 187.3h0M295 195.9h0M308.8 196.6h0M313 202.3h0M303.8 242.3h0M303 244.3h0M327.5 240.3h0M333 308.4h0M338 258.9h0M354 267.4h0M354 283.4h0M347 349.4h0M347 358.4h0M347.4 353.4h0M347.4 362.4h0M347.4 374h0M352 340.4h0M352 346.4h0M333.4 308.8h0M372.4 336.4h0M372.4 354.4h0M372 337.4h0M382 344.4h0M382 348.4h0M382 350.4h0M390 336.4h0M386 300.4h0M447 344.4h0M447 351.4h0M439 397.4h0M439 390.4h0M451.4 399.4h0M451.4 405.4h0M451.4 411.8h0M467 397.4h0M448 344.4h0M448 350.4h0M458 354.4h0M547.4 361.4h0M570 329.4h0M576 329.4h0M587.4 242.8h0M523.6 293.9h0M523.4 297.4h0M523.9 300.9h0M613.6 327.4h0M613.9 331.4h0M598 304.4h0M598 311.4h0M614 333.4h0M614.2 336.4h0M614.4 338.9h0M625 296.4h0M625 301.4h0M625 306.4h0M625 311.4h0M638.4 300h0M660 208.3h0M689.6 187.3h0M708 280.4h0M708 321.4h0M708 314.4h0M712 310.4h0M748 300.4h0M748.2 305.4h0M748.6 310.4h0M748.3 315.4h0M748.8 319.4h0M749.4 313.4h0M749.8 306.4h0M747.6 296.4h0M748.4 329.4h0M748.4 332.4h0M748.4 338.4h0M748.4 342.4h0M749 350.4h0M748.4 354.4h0M775.6 291.8h0M811.4 286.8h0M811 286.4h0M894 290.4h0M894.4 303.4h0M916 294.4h0M916 289.4h0" stroke="#000" stroke-width="5.75" stroke-linecap="round" fill="none"/>
<path d="M120.6 459.5 121.1 457.2 121.6 455.3 122.1 453.8 122.6 452.4 123.1 451.8 123.6 450.7 124.1 449.4 124.6 448.3 125.1 447.6 125.6 447.3 126.1 447.9 126.6 448.2 127.1 448.3 127.6 448.2 128.1 448.4 128.6 448.8 129.1 451.8 129.6 455.8 130.1 458.7 130.6 458.8 131.1 459.2 131.6 460.1 132.1 461.2 132.6 462.3 133.1 463.8 133.6 464.8 134.1 465.7 134.6 466.9 135.1 468.2 135.6 468.4 136.1 468.5 136.6 468.3 137.1 467.9 137.6 467.4 138.1 467.1 138.6 467.1 139.1 467.7 139.6 468.4 140.1 468.8 140.6 469.3 141.1 470.1 141.6 471.3 142.1 472.1 142.6 471.6 143.1 470.7 143.6 469.3 144.1 468 144.6 467.7 145.1 468.8 145.6 470.1 146.1 471.2 146.6 472 147.1 472.6 147.6 473.1 148.1 473.6 148.6 474.3 149.1 475 149.6 475.3 150.1 475.4 150.6 475.7 151.1 476.8 151.6 478.3 152.1 479.8 152.6 481 153.1 481.7 153.6 479.6 154.1 477.6 154.6 476 155.1 474.9 155.6 473.9 156.1 473 156.6 471.6 157.1 470.1 157.6 468.6 158.1 467.4 158.6 467.7 159.1 467.9 159.6 467.8 160.1 467.5 160.6 467.4 161.1 467.7 161.6 470.1 162.1 473.1 162.6 475.7 163.1 477.8 163.6 478.2 164.1 478.8 164.6 479.8 165.1 481.3 165.6 482.8 166.1 484.3 166.6 485.5 167.1 486.5 167.6 487.3 168.1 487.2 168.6 487.2 169.1 487.1 169.6 486.7 170.1 486.3 170.6 486 171.1 486.1 171.6 487 172.1 488.1 172.6 488.7 173.1 488.9 173.6 488.9 174.1 489.3 174.6 490.1 175.1 491.1 175.6 490.8 176.1 490.1 176.6 489.1 177.1 488 177.6 487.4 178.1 488.1 178.6 489 179.1 489.6 179.6 490 180.1 490.2 180.6 490.1 181.1 490.3 181.6 490.7 182.1 490.9 182.6 490.6 183.1 490 183.6 489.9 184.1 490.2 184.6 491 185.1 492.1 185.6 493 186.1 490.3 186.6 487.2 187.1 484.1 187.6 481.3 188.1 478.6 188.6 477.6 189.1 476.4 189.6 475 190.1 473.6 190.6 472.5 191.1 471.7 191.6 471.5 192.1 471.3 192.6 470.6 193.1 469.6 193.6 468.7 194.1 468.2 194.6 469.2 195.1 471.8 195.6 474.2 196.1 476.2 196.6 476.8 197.1 477 197.6 477.5 198.1 478.3 198.6 479.1 199.1 479.6 199.6 480 200.1 480.1 200.6 479.4 201.1 478.9 201.6 478.5 202.1 477.8 202.6 476.6 203.1 475.1 203.6 473.9 204.1 473.7 204.6 474.2 205.1 474.8 205.6 475.1 206.1 474.9 206.6 474.4 207.1 473.8 207.6 473.1 208.1 472.6 208.6 472.1 209.1 471.3 209.6 470.4 210.1 469.6 210.6 469.4 211.1 469.4 211.6 469.3 212.1 468.9 212.6 468 213.1 467 213.6 465.5 214.1 464.5 214.6 463.9 215.1 463.3 215.6 462.2 216.1 460.7 216.6 459.6 217.1 459 217.6 458.6 218.1 458.5 218.6 458.2 219.1 457.8 219.6 456.1 220.1 453 220.6 450.2 221.1 447.5 221.6 443.8 222.1 439.3 222.6 434.4 223.1 430.2 223.6 429.1 224.1 428.5 224.6 428.2 225.1 427.7 225.6 426.8 226.1 425.5 226.6 424.1 227.1 423 227.6 423 228.1 423.1 228.6 423.1 229.1 422.9 229.6 422.5 230.1 422.4 230.6 422.5 231.1 422.7 231.6 422.7 232.1 422 232.6 420 233.1 418 233.6 416.5 234.1 415.4 234.6 414.5 235.1 413.4 235.6 411.8 236.1 410 236.6 408.5 237.1 407.3 237.6 406.5 238.1 405.8 238.6 404.9 239.1 403.8 239.6 402.6 240.1 401.4 240.6 399.4 241.1 397.5 241.6 395.3 242.1 392.7 242.6 390 243.1 387.3 243.6 385.1 244.1 383.5 244.6 382.1 245.1 380.4 245.6 378.1 246.1 375.6 246.6 373.2 247.1 371.1 247.6 369.4 248.1 367.6 248.6 365.5 249.1 363.1 249.6 360.7 250.1 358.4 250.6 356.5 251.1 354.5 251.6 352.2 252.1 349.2 252.6 344.1 253.1 339.4 253.6 335.1 254.1 331.4 254.6 328.6 255.1 325.4 255.6 321.8 256.1 317.9 256.6 314.2 257.1 310.9 257.6 308.2 258.1 305.5 258.6 302.6 259.1 299.6 259.6 297.2 260.1 295 260.6 293 261.1 291.3 261.6 290.7 262.1 289.8 262.6 288.8 263.1 288.2 263.6 288 264.1 287.7 264.6 285.9 265.1 283.6 265.6 280.8 266.1 277.9 266.6 275.3 267.1 273.1 267.6 271.2 268.1 269.2 268.6 267 269.1 264.6 269.6 262.2 270.1 260 270.6 258 271.1 255.8 271.6 252.5 272.1 249 272.6 245.5 273.1 242.4 273.6 239.7 274.1 237.2 274.6 234.7 275.1 231.8 275.6 228.5 276.1 225.2 276.6 222.1 277.1 219.6 277.6 217.2 278.1 214.8 278.6 212.5 279.1 210.1 279.6 207.7 280.1 205.6 280.6 203.5 281.1 201.4 281.6 198.9 282.1 196.3 282.6 194 283.1 192 283.6 190.5 284.1 189.1 284.6 187.4 285.1 184.8 285.6 180.2 286.1 175.7 286.6 171.6 287.1 167.9 287.6 164.3 288.1 160.5 288.6 156.4 289.1 152.2 289.6 148.1 290.1 144.2 290.6 140.4 291.1 136.5 291.6 132.2 292.1 129.4 292.6 133.2 293.1 137.3 293.6 141.9 294.1 146.2 294.6 149 295.1 151.3 295.6 153.4 296.1 155.6 296.6 158.2 297.1 161.2 297.6 164 298.1 166.5 298.6 168.7 299.1 170.8 299.6 173 300.1 175.4 300.6 177.2 301.1 178.9 301.6 180.3 302.1 181.5 302.6 183.1 303.1 185.1 303.6 187.9 304.1 190.5 304.6 192.7 305.1 194.5 305.6 196 306.1 197.9 306.6 200.2 307.1 202.7 307.6 204.9 308.1 206.8 308.6 208.3 309.1 209.8 309.6 211.5 310.1 213.4 310.6 215.3 311.1 217 311.6 218.5 312.1 220 312.6 221.8 313.1 223.9 313.6 226.3 314.1 228.5 314.6 230.2 315.1 231.5 315.6 232.8 316.1 234.4 316.6 236.5 317.1 238.9 317.6 241.1 318.1 243.1 318.6 244.7 319.1 245.7 319.6 244.5 320.1 243.5 320.6 242.7 321.1 242.9 321.6 242.9 322.1 242.9 322.6 243.2 323.1 243.9 323.6 244.7 324.1 245.3 324.6 245.3 325.1 245.4 325.6 247 326.1 249 326.6 251.5 327.1 254.2 327.6 256.7 328.1 258.8 328.6 260.1 329.1 261.5 329.6 263.2 330.1 265 330.6 266.8 331.1 268.4 331.6 270.1 332.1 271.9 332.6 274 333.1 276.5 333.6 279 334.1 280.9 334.6 281.3 335.1 281.4 335.6 281.7 336.1 282.4 336.6 283.6 337.1 284.9 337.6 285.9 338.1 286.6 338.6 287.3 339.1 288 339.6 289 340.1 290.2 340.6 291.3 341.1 292.2 341.6 292.9 342.1 293.7 342.6 294.4 343.1 295.3 343.6 296.3 344.1 296.8 344.6 296.8 345.1 296.7 345.6 296.8 346.1 297.5 346.6 298.5 347.1 299.5 347.6 300.3 348.1 300.8 348.6 301 349.1 301.4 349.6 302.1 350.1 302.9 350.6 303.6 351.1 303.7 351.6 301.9 352.1 300.3 352.6 299.1 353.1 298 353.6 296.9 354.1 295.3 354.6 293.3 355.1 291.4 355.6 290.8 356.1 290.6 356.6 290.8 357.1 290.9 357.6 290.7 358.1 290 358.6 289.2 359.1 289 359.6 290.6 360.1 292.3 360.6 293.9 361.1 295.2 361.6 296.5 362.1 297.9 362.6 299.5 363.1 301.2 363.6 302.7 364.1 303.7 364.6 304.4 365.1 305.1 365.6 306.2 366.1 307.5 366.6 307.9 367.1 308.1 367.6 307.8 368.1 307.2 368.6 306.5 369.1 306.1 369.6 306 370.1 306.2 370.6 307.3 371.1 308.1 371.6 308.9 372.1 310 372.6 311.3 373.1 312.4 373.6 312 374.1 311.2 374.6 310.1 375.1 309.2 375.6 308.7 376.1 308.9 376.6 310.4 377.1 311.6 377.6 312.4 378.1 312.8 378.6 313.3 379.1 314.1 379.6 315.1 380.1 316.2 380.6 317 381.1 317.6 381.6 318.1 382.1 319 382.6 320.1 383.1 321.2 383.6 322 384.1 321.9 384.6 320.1 385.1 318.5 385.6 317.4 386.1 316.7 386.6 316 387.1 315 387.6 313.5 388.1 311.9 388.6 311.2 389.1 310.9 389.6 310.8 390.1 310.7 390.6 310.4 391.1 310.1 391.6 311 392.1 312.1 392.6 313.5 393.1 314.7 393.6 315.7 394.1 316.4 394.6 317.5 395.1 318.9 395.6 320.8 396.1 323.1 396.6 325.3 397.1 326.9 397.6 327.6 398.1 328.1 398.6 328.7 399.1 329.8 399.6 331.1 400.1 332.1 400.6 331.9 401.1 331.6 401.6 331.4 402.1 331.5 402.6 331.7 403.1 331.8 403.6 331.5 404.1 331 404.6 331.1 405.1 331.6 405.6 332.6 406.1 333.9 406.6 335 407.1 335.6 407.6 335.7 408.1 335.6 408.6 334.9 409.1 334.5 409.6 334.4 410.1 334.5 410.6 335.9 411.1 337.2 411.6 338.6 412.1 340.2 412.6 341.2 413.1 342 413.6 342.5 414.1 342.7 414.6 343 415.1 343.7 415.6 344.8 416.1 346.1 416.6 347.2 417.1 347.3 417.6 345.3 418.1 343.3 418.6 341.7 419.1 340.4 419.6 339.2 420.1 338.1 420.6 337.7 421.1 337.1 421.6 336.7 422.1 336.5 422.6 336.4 423.1 336.1 423.6 335.4 424.1 334.9 424.6 335.7 425.1 337 425.6 338.7 426.1 340.4 426.6 341.9 427.1 342.8 427.6 343.6 428.1 344.4 428.6 345.7 429.1 347.3 429.6 349 430.1 350.5 430.6 351.5 431.1 352.5 431.6 353.6 432.1 355 432.6 356.4 433.1 357.4 433.6 357.3 434.1 357.1 434.6 357.1 435.1 357.6 435.6 358.4 436.1 359.2 436.6 359.6 437.1 359.5 437.6 359.4 438.1 359.5 438.6 360.1 439.1 360.9 439.6 361.8 440.1 362.2 440.6 361.7 441.1 361.2 441.6 360.9 442.1 360.7 442.6 360.6 443.1 360.4 443.6 360.9 444.1 361.4 444.6 362.1 445.1 363.4 445.6 364.8 446.1 366.2 446.6 367 447.1 367.3 447.6 367.2 448.1 367.4 448.6 368.1 449.1 369 449.6 369.9 450.1 370 450.6 368.1 451.1 366.3 451.6 364.6 452.1 363.2 452.6 361.6 453.1 360 453.6 359 454.1 358 454.6 357.3 455.1 357 455.6 357 456.1 356.8 456.6 356.8 457.1 356.4 457.6 356 458.1 356 458.6 356.4 459.1 357.6 459.6 360.6 460.1 363.4 460.6 365.9 461.1 368.1 461.6 368.9 462.1 369.8 462.6 370.7 463.1 371.2 463.6 371.6 464.1 372.1 464.6 372.9 465.1 374 465.6 374.6 466.1 374.8 466.6 374.5 467.1 373.9 467.6 373.4 468.1 373.3 468.6 373.7 469.1 374.2 469.6 374.6 470.1 374.7 470.6 374.6 471.1 374.6 471.6 374.8 472.1 375 472.6 374 473.1 372.8 473.6 371.4 474.1 370.2 474.6 369.4 475.1 369.2 475.6 369.7 476.1 369.8 476.6 369.4 477.1 368.7 477.6 368.3 478.1 368.3 478.6 368.8 479.1 369.3 479.6 369.5 480.1 369.3 480.6 369 481.1 368.9 481.6 369 482.1 368.8 482.6 367.4 483.1 365.6 483.6 363.8 484.1 362.2 484.6 361 485.1 360 485.6 359.1 486.1 357.7 486.6 355.8 487.1 353.8 487.6 352.1 488.1 350.9 488.6 350 489.1 349.4 489.6 349.3 490.1 348.9 490.6 348.4 491.1 348.1 491.6 348.1 492.1 348.5 492.6 350.5 493.1 352.3 493.6 354 494.1 355.7 494.6 356.8 495.1 358.1 495.6 359.1 496.1 359.7 496.6 359.9 497.1 360.1 497.6 360.6 498.1 361.3 498.6 361.1 499.1 360.7 499.6 359.8 500.1 358.7 500.6 357.6 501.1 356.7 501.6 356.5 502.1 356.4 502.6 356 503.1 355.4 503.6 354.8 504.1 354.5 504.6 354.1 505.1 353.9 505.6 353.3 506.1 352.3 506.6 351 507.1 349.7 507.6 348.8 508.1 348.6 508.6 349.2 509.1 349.6 509.6 349.5 510.1 349.1 510.6 348.8 511.1 348.8 511.6 348.9 512.1 349.1 512.6 348.8 513.1 348.4 513.6 348 514.1 347.9 514.6 348.2 515.1 348.4 515.6 348.3 516.1 347.6 516.6 345.7 517.1 344 517.6 342.8 518.1 342 518.6 341.4 519.1 340.3 519.6 338.5 520.1 336.4 520.6 334.4 521.1 332.7 521.6 331.3 522.1 330 522.6 329.4 523.1 328.7 523.6 328 524.1 328.1 524.6 329.9 525.1 331.6 525.6 332.9 526.1 333.7 526.6 334.5 527.1 335.3 527.6 336.2 528.1 337.5 528.6 338.7 529.1 339.5 529.6 340 530.1 340.2 530.6 340.6 531.1 341.1 531.6 340.5 532.1 339.8 532.6 338.9 533.1 337.9 533.6 337 534.1 336.4 534.6 336 535.1 335.6 535.6 335.1 536.1 334.2 536.6 333.2 537.1 332.6 537.6 332.6 538.1 332.8 538.6 332.9 539.1 332.6 539.6 331.7 540.1 330.7 540.6 330 541.1 329.6 541.6 329.4 542.1 329.1 542.6 329 543.1 328.9 543.6 328.9 544.1 329.2 544.6 329.6 545.1 329.9 545.6 329.7 546.1 329.2 546.6 328.7 547.1 328.7 547.6 329.1 548.1 329.5 548.6 328.6 549.1 327.2 549.6 325.5 550.1 323.7 550.6 322.3 551.1 321.1 551.6 320.1 552.1 318.9 552.6 317.6 553.1 316.3 553.6 315.2 554.1 314.4 554.6 313.6 555.1 312.6 555.6 311.1 556.1 309.6 556.6 308.9 557.1 308.6 557.6 309 558.1 310.6 558.6 311.9 559.1 312.8 559.6 313.3 560.1 313.7 560.6 314.2 561.1 315 561.6 315.9 562.1 316.5 562.6 316.9 563.1 317.3 563.6 317.9 564.1 318.6 564.6 318.2 565.1 317.6 565.6 316.6 566.1 315.4 566.6 314.5 567.1 314 567.6 314 568.1 314 568.6 314 569.1 313.4 569.6 312.6 570.1 312 570.6 311.7 571.1 311.8 571.6 311.8 572.1 311.5 572.6 310.6 573.1 309.7 573.6 309 574.1 308.6 574.6 308.1 575.1 307.4 575.6 307 576.1 306.4 576.6 306.3 577.1 306.5 577.6 307.2 578.1 307.7 578.6 307.7 579.1 307.3 579.6 306.8 580.1 306.5 580.6 306.6 581.1 306.9 581.6 307.2 582.1 306.8 582.6 304.8 583.1 302.8 583.6 301.1 584.1 299.6 584.6 297.9 585.1 296.1 585.6 294.5 586.1 292.9 586.6 291.7 587.1 291 587.6 290.5 588.1 289.8 588.6 288.6 589.1 287.3 589.6 287.2 590.1 287.5 590.6 288.2 591.1 289.1 591.6 289.8 592.1 290.4 592.6 291 593.1 291.7 593.6 292.7 594.1 293.8 594.6 294.7 595.1 295.2 595.6 295.1 596.1 295.1 596.6 295.4 597.1 296.3 597.6 297.2 598.1 297.7 598.6 297 599.1 295.9 599.6 294.9 600.1 294.3 600.6 294.1 601.1 294 601.6 293.7 602.1 293.2 602.6 292.8 603.1 292.6 603.6 292.6 604.1 292.8 604.6 292.7 605.1 292.3 605.6 291.7 606.1 291.4 606.6 291.8 607.1 292.6 607.6 293.4 608.1 293.8 608.6 293.8 609.1 293.4 609.6 293.2 610.1 293.4 610.6 294.1 611.1 294.8 611.6 295.3 612.1 295.5 612.6 295.5 613.1 295.8 613.6 296.2 614.1 296.7 614.6 297 615.1 296.6 615.6 294.3 616.1 292.3 616.6 290.8 617.1 289.5 617.6 288.2 618.1 286.6 618.6 285.1 619.1 283.5 619.6 282.1 620.1 281.2 620.6 280.6 621.1 280.2 621.6 280.3 622.1 280 622.6 279.7 623.1 279.6 623.6 279.6 624.1 280 624.6 281 625.1 281.7 625.6 282.5 626.1 283.5 626.6 284.9 627.1 286.4 627.6 287.3 628.1 287.6 628.6 287.5 629.1 287.3 629.6 287.4 630.1 287.9 630.6 287.9 631.1 287.8 631.6 287.3 632.1 286.6 632.6 285.8 633.1 285.3 633.6 285 634.1 284.6 634.6 283.8 635.1 282.8 635.6 281.8 636.1 281.1 636.6 280.8 637.1 280.7 637.6 280.3 638.1 279.4 638.6 277.8 639.1 276.2 639.6 275.1 640.1 274.4 640.6 273.9 641.1 273.4 641.6 273.3 642.1 272.9 642.6 272.5 643.1 272.4 643.6 272.4 644.1 272.4 644.6 272.2 645.1 271.6 645.6 271.1 646.1 270.8 646.6 270.9 647.1 271.1 647.6 270.9 648.1 270.2 648.6 268.8 649.1 265.6 649.6 262.8 650.1 260.6 650.6 258.4 651.1 256.2 651.6 254.4 652.1 252.4 652.6 250.5 653.1 248.9 653.6 247.4 654.1 245.9 654.6 244.7 655.1 243.3 655.6 242 656.1 241.2 656.6 240.6 657.1 240.3 657.6 241.1 658.1 241.4 658.6 241.6 659.1 241.9 659.6 242.7 660.1 243.8 660.6 244 661.1 243.8 661.6 243.3 662.1 242.6 662.6 242.1 663.1 241.6 663.6 240.6 664.1 239.4 664.6 237.9 665.1 236.4 665.6 235.1 666.1 234.1 666.6 233.3 667.1 232.5 667.6 231.4 668.1 229.9 668.6 228.3 669.1 227 669.6 226.2 670.1 225.8 670.6 225.3 671.1 224.3 671.6 222.7 672.1 221 672.6 219.4 673.1 218.2 673.6 217.1 674.1 218 674.6 218.7 675.1 219.3 675.6 220.2 676.1 221.4 676.6 222.7 677.1 223.9 677.6 224.5 678.1 224.8 678.6 225 679.1 225.7 679.6 226.9 680.1 228.4 680.6 230.4 681.1 231.9 681.6 233 682.1 233.5 682.6 231.7 683.1 230.2 683.6 228.7 684.1 227.1 684.6 225.2 685.1 223.7 685.6 223.7 686.1 224.1 686.6 224.5 687.1 224.7 687.6 224.4 688.1 223.8 688.6 223.3 689.1 223.7 689.6 226.5 690.1 229.4 690.6 232.1 691.1 234.3 691.6 236.3 692.1 238 692.6 239.1 693.1 240.4 693.6 241.8 694.1 243 694.6 243.9 695.1 244.9 695.6 245.8 696.1 247.1 696.6 248.4 697.1 249.3 697.6 249.8 698.1 250 698.6 250.5 699.1 251.5 699.6 252.6 700.1 253.8 700.6 254.7 701.1 255.1 701.6 255.3 702.1 255.5 702.6 256.2 703.1 257 703.6 257.5 704.1 257.9 704.6 258.1 705.1 258.3 705.6 258.8 706.1 259.6 706.6 260.3 707.1 260.7 707.6 261 708.1 261.1 708.6 261.6 709.1 262.6 709.6 263.9 710.1 265.2 710.6 266.1 711.1 266.6 711.6 267.4 712.1 268.3 712.6 269.5 713.1 271 713.6 272.4 714.1 273.6 714.6 274.2 715.1 273.2 715.6 272.5 716.1 272 716.6 271.3 717.1 270.3 717.6 269.5 718.1 268.6 718.6 268.2 719.1 268.2 719.6 268.5 720.1 268.7 720.6 268.8 721.1 268.5 721.6 268.1 722.1 268 722.6 268.6 723.1 270.9 723.6 273 724.1 275 724.6 276.8 725.1 278.5 725.6 279.7 726.1 280.9 726.6 282 727.1 282.7 727.6 283.1 728.1 283.6 728.6 284.5 729.1 285.8 729.6 286.7 730.1 287.3 730.6 287.4 731.1 287.2 731.6 287 732.1 286.9 732.6 286.6 733.1 286.4 733.6 286.1 734.1 285.5 734.6 284.8 735.1 284.3 735.6 283.9 736.1 283.6 736.6 283.1 737.1 282.2 737.6 281.1 738.1 280.1 738.6 279.6 739.1 279.5 739.6 279.5 740.1 279.3 740.6 279.1 741.1 278.7 741.6 278.3 742.1 278.3 742.6 278.7 743.1 279.1 743.6 279.5 744.1 279.5 744.6 279.6 745.1 279.8 745.6 280.3 746.1 280.7 746.6 280.6 747.1 279 747.6 277.3 748.1 275.8 748.6 274.7 749.1 274.1 749.6 273.3 750.1 272 750.6 270.1 751.1 268 751.6 266.1 752.1 264.7 752.6 263.8 753.1 263.8 753.6 263.6 754.1 263.2 754.6 262.7 755.1 262.5 755.6 262.4 756.1 262.6 756.6 263.7 757.1 264.5 757.6 265.2 758.1 266.2 758.6 267.7 759.1 269.4 759.6 270.6 760.1 271.4 760.6 271.7 761.1 271.8 761.6 272.3 762.1 272.9 762.6 272.8 763.1 272.6 763.6 272.2 764.1 271.5 764.6 270.8 765.1 270.4 765.6 270.1 766.1 269.8 766.6 269.6 767.1 269.2 767.6 268.7 768.1 268.6 768.6 269 769.1 269.5 769.6 269.8 770.1 269.5 770.6 268.4 771.1 267.3 771.6 266.5 772.1 266.2 772.6 266 773.1 265.8 773.6 265.3 774.1 265 774.6 264.7 775.1 264.8 775.6 264.9 776.1 264.9 776.6 264.7 777.1 264.2 777.6 264.1 778.1 264.4 778.6 265.1 779.1 265.9 779.6 266.4 780.1 266.4 780.6 265.6 781.1 263.5 781.6 261.8 782.1 260.5 782.6 259.4 783.1 258.2 783.6 257.3 784.1 256.3 784.6 255.3 785.1 254.6 785.6 254.2 786.1 254.3 786.6 254 787.1 253.6 787.6 253.4 788.1 253.6 788.6 254.1 789.1 254.9 789.6 256.4 790.1 257.3 790.6 258 791.1 258.9 791.6 260.3 792.1 261.9 792.6 263.3 793.1 264.5 793.6 265.3 794.1 265.9 794.6 266.7 795.1 267.7 795.6 268.7 796.1 268.5 796.6 268.1 797.1 267.5 797.6 267.2 798.1 267.3 798.6 267.7 799.1 268 799.6 267.9 800.1 267.3 800.6 266.8 801.1 266.7 801.6 267 802.1 267.7 802.6 268.3 803.1 268.6 803.6 268.6 804.1 268.5 804.6 268.4 805.1 268.5 805.6 268.7 806.1 268.6 806.6 268.4 807.1 268 807.6 268 808.1 268.4 808.6 268.9 809.1 269.3 809.6 269.7 810.1 269.6 810.6 269.4 811.1 269.6 811.6 270.3 812.1 271.3 812.6 272.1 813.1 272.6 813.6 272.3 814.1 270.2 814.6 268.3 815.1 266.6 815.6 264.9 816.1 263.1 816.6 261.1 817.1 260 817.6 259.1 818.1 258.6 818.6 258.2 819.1 257.8 819.6 257.5 820.1 256.9 820.6 256.4 821.1 256.2 821.6 256.6 822.1 257.5 822.6 259.3 823.1 260.8 823.6 261.9 824.1 263.1 824.6 264.6 825.1 266.2 825.6 267.3 826.1 268.2 826.6 269 827.1 269.8 827.6 270.9 828.1 272.3 828.6 273.8 829.1 274.7 829.6 274.1 830.1 273.2 830.6 272.5 831.1 272.2 831.6 272.5 832.1 272.8 832.6 272.8 833.1 272.4 833.6 271.8 834.1 271.2 834.6 271 835.1 270.9 835.6 270.8 836.1 270.5 836.6 269.9 837.1 269.7 837.6 270.1 838.1 270.8 838.6 271.4 839.1 271.7 839.6 271.5 840.1 271.1 840.6 271 841.1 271.4 841.6 272.3 842.1 273.2 842.6 273.7 843.1 273.8 843.6 273.7 844.1 273.8 844.6 274.4 845.1 275.1 845.6 275.7 846.1 276.1 846.6 276.3 847.1 276.3 847.6 274.8 848.1 273.5 848.6 272.1 849.1 270.2 849.6 267.9 850.1 265.8 850.6 264.6 851.1 264 851.6 263.6 852.1 263.2 852.6 262.4 853.1 261.3 853.6 260.9 854.1 260.7 854.6 260.8 855.1 261 855.6 261.1 856.1 261.3 856.6 262.5 857.1 264 857.6 265.8 858.1 267.7 858.6 269.4 859.1 270.6 859.6 271.1 860.1 271.7 860.6 272.6 861.1 274.1 861.6 275.8 862.1 277.2 862.6 278.3 863.1 278.6 863.6 277.7 864.1 277.2 864.6 276.9 865.1 276.7 865.6 276.3 866.1 275.7 866.6 275.1 867.1 274.8 867.6 275.3 868.1 275.8 868.6 276 869.1 275.8 869.6 275.4 870.1 275 870.6 275.2 871.1 275.8 871.6 276.2 872.1 276.4 872.6 276.2 873.1 275.6 873.6 275 874.1 274.8 874.6 274.9 875.1 275.2 875.6 275.7 876.1 276 876.6 276.4 877.1 277 877.6 277.8 878.1 278.6 878.6 279.3 879.1 279.5 879.6 279.6 880.1 279.9 880.6 279.6 881.1 278.3 881.6 276.9 882.1 275.2 882.6 273 883.1 270.8 883.6 269.4 884.1 268.4 884.6 267.6 885.1 266.9 885.6 265.9 886.1 264.9 886.6 264.6 887.1 264.6 887.6 264.7 888.1 264.8 888.6 264.6 889.1 264.3 889.6 265.1 890.1 266.2 890.6 267.8 891.1 269.7 891.6 271.6 892.1 273 892.6 274 893.1 274.8 893.6 275.8 894.1 277.2 894.6 278.8 895.1 280.1 895.6 279.8 896.1 279.4 896.6 279 897.1 278.9 897.6 279 898.1 278.9 898.6 278.5 899.1 277.9 899.6 277.5 900.1 277.5 900.6 278.1 901.1 278.8 901.6 279.4 902.1 279.5 902.6 279.1 903.1 278.7 903.6 278.4 904.1 278.6 904.6 279 905.1 279.2 905.6 279.2 906.1 279 906.6 278.9 907.1 279.1 907.6 279.8 908.1 280.3 908.6 280.4 909.1 280.3 909.6 280.3 910.1 280.7 910.6 281.5 911.1 282.6 911.6 283.5 912.1 284 912.6 284.1 913.1 284.2 913.6 283.6 914.1 282 914.6 280.4 915.1 278.7 915.6 276.7 916.1 274.8 916.6 273.7 917.1 272.9 917.6 272.1 918.1 271.2 918.6 269.9 919.1 268.6 919.6 268.3 920.1 268.5 920.6 269 921.1 269.6 921.6 269.8 922.1 269.8 922.6 270.7 923.1 271.8 923.6 273.2 924.1 275 924.6 276.9 925.1 278.5 925.6 279.2 926.1 279.9 926.6 280.7 927.1 281.8 927.6 282.9 928.1 283.7 928.6 284.3 929.1 284.5 929.6 283.9 930.1 283.8 930.6 284.1 931.1 284.3 931.6 284 932.1 283.4 932.6 283 933.1 282.7 933.6 283 934.1 283.5 934.6 284.1 935.1 284.2 935.6 283.7 936.1 283 936.6 282.6 937.1 282.4 937.6 282.1 L938.3 284 938.4 284.3 938.5 284.7 938.6 285 938.7 285.3 938.8 285.6 938.8 286 938.9 284.2 939 284.5 939.1 284.8 939.2 285.2 939.3 285.5 939.4 285.8 939.5 286.2 939.6 284.4 939.7 284.7 939.7 285 939.8 285.4 939.9 285.7 940 286 940.1 286.3 940.2 284.6 940.3 284.9 940.4 285.2 940.5 285.5 940.6 285.9 940.6 286.2 940.7 286.5 940.8 284.8 940.9 285.1 941 285.4 941.1 285.7 941.2 286.1 941.3 286.4 941.4 286.7 941.5 284.9 941.5 285.3 941.6 285.6 941.7 285.9 941.8 286.3 941.9 297.6 942 297.9 942.1 285.1 942.2 285.5 942.3 285.8 942.4 286.1 942.4 286.4 942.5 297.8 942.6 298.1 942.7 285.3 942.8 285.7 942.9 286 943 286.3 943.1 286.6 943.2 298 943.3 298.3 943.3 285.5 943.4 285.8 943.5 286.2 943.6 286.5 943.7 286.8 943.8 298.1 943.9 298.5 944 285.7 944.1 286 944.2 286.4 944.2 286.7" stroke="#0072B2" stroke-width="2.08" stroke-linejoin="round" fill="none" transform="translate(0 -0.45)"/>
<path d="M120.6 459.5 121.1 457.2 121.6 455.3 122.1 453.8 122.6 452.4 123.1 451.8 123.6 450.7 124.1 449.4 124.6 448.3 125.1 447.6 125.6 447.3 126.1 447.9 126.6 448.2 127.1 448.3 127.6 448.2 128.1 448.4 128.6 448.8 129.1 451.8 129.6 455.8 130.1 458.7 130.6 458.8 131.1 459.2 131.6 460.1 132.1 461.2 132.6 462.3 133.1 463.8 133.6 464.8 134.1 465.7 134.6 466.9 135.1 468.2 135.6 468.4 136.1 468.5 136.6 468.3 137.1 467.9 137.6 467.4 138.1 467.1 138.6 467.1 139.1 467.7 139.6 468.4 140.1 468.8 140.6 469.3 141.1 470.1 141.6 471.3 142.1 472.1 142.6 471.6 143.1 470.7 143.6 469.3 144.1 468 144.6 467.7 145.1 468.8 145.6 470.1 146.1 471.2 146.6 472 147.1 472.6 147.6 473.1 148.1 473.6 148.6 474.3 149.1 475 149.6 475.3 150.1 475.4 150.6 475.7 151.1 476.8 151.6 478.3 152.1 479.8 152.6 481 153.1 481.7 153.6 479.6 154.1 477.6 154.6 476 155.1 474.9 155.6 473.9 156.1 473 156.6 471.6 157.1 470.1 157.6 468.6 158.1 467.4 158.6 467.7 159.1 467.9 159.6 467.8 160.1 467.5 160.6 467.4 161.1 467.7 161.6 470.1 162.1 473.1 162.6 475.7 163.1 477.8 163.6 478.2 164.1 478.8 164.6 479.8 165.1 481.3 165.6 482.8 166.1 484.3 166.6 485.5 167.1 486.5 167.6 487.3 168.1 487.2 168.6 487.2 169.1 487.1 169.6 486.7 170.1 486.3 170.6 486 171.1 486.1 171.6 487 172.1 488.1 172.6 488.7 173.1 488.9 173.6 488.9 174.1 489.3 174.6 490.1 175.1 491.1 175.6 490.8 176.1 490.1 176.6 489.1 177.1 488 177.6 487.4 178.1 488.1 178.6 489 179.1 489.6 179.6 490 180.1 490.2 180.6 490.1 181.1 490.3 181.6 490.7 182.1 490.9 182.6 490.6 183.1 490 183.6 489.9 184.1 490.2 184.6 491 185.1 492.1 185.6 493 186.1 490.3 186.6 487.2 187.1 484.1 187.6 481.3 188.1 478.6 188.6 477.6 189.1 476.4 189.6 475 190.1 473.6 190.6 472.5 191.1 471.7 191.6 471.5 192.1 471.3 192.6 470.6 193.1 469.6 193.6 468.7 194.1 468.2 194.6 469.2 195.1 471.8 195.6 474.2 196.1 476.2 196.6 476.8 197.1 477 197.6 477.5 198.1 478.3 198.6 479.1 199.1 479.6 199.6 480 200.1 480.1 200.6 479.4 201.1 478.9 201.6 478.5 202.1 477.8 202.6 476.6 203.1 475.1 203.6 473.9 204.1 473.7 204.6 474.2 205.1 474.8 205.6 475.1 206.1 474.9 206.6 474.4 207.1 473.8 207.6 473.1 208.1 472.6 208.6 472.1 209.1 471.3 209.6 470.4 210.1 469.6 210.6 469.4 211.1 469.4 211.6 469.3 212.1 468.9 212.6 468 213.1 467 213.6 465.5 214.1 464.5 214.6 463.9 215.1 463.3 215.6 462.2 216.1 460.7 216.6 459.6 217.1 459 217.6 458.6 218.1 458.5 218.6 458.2 219.1 457.8 219.6 456.1 220.1 453 220.6 450.2 221.1 447.5 221.6 443.8 222.1 439.3 222.6 434.4 223.1 430.2 223.6 429.1 224.1 428.5 224.6 428.2 225.1 427.7 225.6 426.8 226.1 425.5 226.6 424.1 227.1 423 227.6 423 228.1 423.1 228.6 423.1 229.1 422.9 229.6 422.5 230.1 422.4 230.6 422.5 231.1 422.7 231.6 422.7 232.1 422 232.6 420 233.1 418 233.6 416.5 234.1 415.4 234.6 414.5 235.1 413.4 235.6 411.8 236.1 410 236.6 408.5 237.1 407.3 237.6 406.5 238.1 405.8 238.6 404.9 239.1 403.8 239.6 402.6 240.1 401.4 240.6 399.4 241.1 397.5 241.6 395.3 242.1 392.7 242.6 390 243.1 387.3 243.6 385.1 244.1 383.5 244.6 382.1 245.1 380.4 245.6 378.1 246.1 375.6 246.6 373.2 247.1 371.1 247.6 369.4 248.1 367.6 248.6 365.5 249.1 363.1 249.6 360.7 250.1 358.4 250.6 356.5 251.1 354.5 251.6 352.2 252.1 349.2 252.6 344.1 253.1 339.4 253.6 335.1 254.1 331.4 254.6 328.6 255.1 325.4 255.6 321.8 256.1 317.9 256.6 314.2 257.1 310.9 257.6 308.2 258.1 305.5 258.6 302.6 259.1 299.6 259.6 297.2 260.1 295 260.6 293 261.1 291.3 261.6 290.7 262.1 289.8 262.6 288.8 263.1 288.2 263.6 288 264.1 287.7 264.6 285.9 265.1 283.6 265.6 280.8 266.1 277.9 266.6 275.3 267.1 273.1 267.6 271.2 268.1 269.2 268.6 267 269.1 264.6 269.6 262.2 270.1 260 270.6 258 271.1 255.8 271.6 252.5 272.1 249 272.6 245.5 273.1 242.4 273.6 239.7 274.1 237.2 274.6 234.7 275.1 231.8 275.6 228.5 276.1 225.2 276.6 222.1 277.1 219.6 277.6 217.2 278.1 214.8 278.6 212.5 279.1 210.1 279.6 207.7 280.1 205.6 280.6 203.5 281.1 201.4 281.6 198.9 282.1 196.3 282.6 194 283.1 192 283.6 190.5 284.1 189.1 284.6 187.4 285.1 184.8 285.6 180.2 286.1 175.7 286.6 171.6 287.1 167.9 287.6 164.3 288.1 160.5 288.6 156.4 289.1 152.2 289.6 148.1 290.1 144.2 290.6 140.4 291.1 136.5 291.6 132.2 292.1 129.4 292.6 133.2 293.1 137.3 293.6 141.9 294.1 146.2 294.6 149 295.1 151.3 295.6 153.4 296.1 155.6 296.6 158.2 297.1 161.2 297.6 164 298.1 166.5 298.6 168.7 299.1 170.8 299.6 173 300.1 175.4 300.6 177.2 301.1 178.9 301.6 180.3 302.1 181.5 302.6 183.1 303.1 185.1 303.6 187.9 304.1 190.5 304.6 192.7 305.1 194.5 305.6 196 306.1 197.9 306.6 200.2 307.1 202.7 307.6 204.9 308.1 206.8 308.6 208.3 309.1 209.8 309.6 211.5 310.1 213.4 310.6 215.3 311.1 217 311.6 218.5 312.1 220 312.6 221.8 313.1 223.9 313.6 226.3 314.1 228.5 314.6 230.2 315.1 231.5 315.6 232.8 316.1 234.4 316.6 236.5 317.1 238.9 317.6 241.1 318.1 243.1 318.6 244.7 319.1 245.7 319.6 244.5 320.1 243.5 320.6 242.7 321.1 242.9 321.6 242.9 322.1 242.9 322.6 243.2 323.1 243.9 323.6 244.7 324.1 245.3 324.6 245.3 325.1 245.4 325.6 247 326.1 249 326.6 251.5 327.1 254.2 327.6 256.7 328.1 258.8 328.6 260.1 329.1 261.5 329.6 263.2 330.1 265 330.6 266.8 331.1 268.4 331.6 270.1 332.1 271.9 332.6 274 333.1 276.5 333.6 279 334.1 280.9 334.6 281.3 335.1 281.4 335.6 281.7 336.1 282.4 336.6 283.6 337.1 284.9 337.6 285.9 338.1 286.6 338.6 287.3 339.1 288 339.6 289 340.1 290.2 340.6 291.3 341.1 292.2 341.6 292.9 342.1 293.7 342.6 294.4 343.1 295.3 343.6 296.3 344.1 296.8 344.6 296.8 345.1 296.7 345.6 296.8 346.1 297.5 346.6 298.5 347.1 299.5 347.6 300.3 348.1 300.8 348.6 301 349.1 301.4 349.6 302.1 350.1 302.9 350.6 303.6 351.1 303.7 351.6 301.9 352.1 300.3 352.6 299.1 353.1 298 353.6 296.9 354.1 295.3 354.6 293.3 355.1 291.4 355.6 290.8 356.1 290.6 356.6 290.8 357.1 290.9 357.6 290.7 358.1 290 358.6 289.2 359.1 289 359.6 290.6 360.1 292.3 360.6 293.9 361.1 295.2 361.6 296.5 362.1 297.9 362.6 299.5 363.1 301.2 363.6 302.7 364.1 303.7 364.6 304.4 365.1 305.1 365.6 306.2 366.1 307.5 366.6 307.9 367.1 308.1 367.6 307.8 368.1 307.2 368.6 306.5 369.1 306.1 369.6 306 370.1 306.2 370.6 307.3 371.1 308.1 371.6 308.9 372.1 310 372.6 311.3 373.1 312.4 373.6 312 374.1 311.2 374.6 310.1 375.1 309.2 375.6 308.7 376.1 308.9 376.6 310.4 377.1 311.6 377.6 312.4 378.1 312.8 378.6 313.3 379.1 314.1 379.6 315.1 380.1 316.2 380.6 317 381.1 317.6 381.6 318.1 382.1 319 382.6 320.1 383.1 321.2 383.6 322 384.1 321.9 384.6 320.1 385.1 318.5 385.6 317.4 386.1 316.7 386.6 316 387.1 315 387.6 313.5 388.1 311.9 388.6 311.2 389.1 310.9 389.6 310.8 390.1 310.7 390.6 310.4 391.1 310.1 391.6 311 392.1 312.1 392.6 313.5 393.1 314.7 393.6 315.7 394.1 316.4 394.6 317.5 395.1 318.9 395.6 320.8 396.1 323.1 396.6 325.3 397.1 326.9 397.6 327.6 398.1 328.1 398.6 328.7 399.1 329.8 399.6 331.1 400.1 332.1 400.6 331.9 401.1 331.6 401.6 331.4 402.1 331.5 402.6 331.7 403.1 331.8 403.6 331.5 404.1 331 404.6 331.1 405.1 331.6 405.6 332.6 406.1 333.9 406.6 335 407.1 335.6 407.6 335.7 408.1 335.6 408.6 334.9 409.1 334.5 409.6 334.4 410.1 334.5 410.6 335.9 411.1 337.2 411.6 338.6 412.1 340.2 412.6 341.2 413.1 342 413.6 342.5 414.1 342.7 414.6 343 415.1 343.7 415.6 344.8 416.1 346.1 416.6 347.2 417.1 347.3 417.6 345.3 418.1 343.3 418.6 341.7 419.1 340.4 419.6 339.2 420.1 338.1 420.6 337.7 421.1 337.1 421.6 336.7 422.1 336.5 422.6 336.4 423.1 336.1 423.6 335.4 424.1 334.9 424.6 335.7 425.1 337 425.6 338.7 426.1 340.4 426.6 341.9 427.1 342.8 427.6 343.6 428.1 344.4 428.6 345.7 429.1 347.3 429.6 349 430.1 350.5 430.6 351.5 431.1 352.5 431.6 353.6 432.1 355 432.6 356.4 433.1 357.4 433.6 357.3 434.1 357.1 434.6 357.1 435.1 357.6 435.6 358.4 436.1 359.2 436.6 359.6 437.1 359.5 437.6 359.4 438.1 359.5 438.6 360.1 439.1 360.9 439.6 361.8 440.1 362.2 440.6 361.7 441.1 361.2 441.6 360.9 442.1 360.7 442.6 360.6 443.1 360.4 443.6 360.9 444.1 361.4 444.6 362.1 445.1 363.4 445.6 364.8 446.1 366.2 446.6 367 447.1 367.3 447.6 367.2 448.1 367.4 448.6 368.1 449.1 369 449.6 369.9 450.1 370 450.6 368.1 451.1 366.3 451.6 364.6 452.1 363.2 452.6 361.6 453.1 360 453.6 359 454.1 358 454.6 357.3 455.1 357 455.6 357 456.1 356.8 456.6 356.8 457.1 356.4 457.6 356 458.1 356 458.6 356.4 459.1 357.6 459.6 360.6 460.1 363.4 460.6 365.9 461.1 368.1 461.6 368.9 462.1 369.8 462.6 370.7 463.1 371.2 463.6 371.6 464.1 372.1 464.6 372.9 465.1 374 465.6 374.6 466.1 374.8 466.6 374.5 467.1 373.9 467.6 373.4 468.1 373.3 468.6 373.7 469.1 374.2 469.6 374.6 470.1 374.7 470.6 374.6 471.1 374.6 471.6 374.8 472.1 375 472.6 374 473.1 372.8 473.6 371.4 474.1 370.2 474.6 369.4 475.1 369.2 475.6 369.7 476.1 369.8 476.6 369.4 477.1 368.7 477.6 368.3 478.1 368.3 478.6 368.8 479.1 369.3 479.6 369.5 480.1 369.3 480.6 369 481.1 368.9 481.6 369 482.1 368.8 482.6 367.4 483.1 365.6 483.6 363.8 484.1 362.2 484.6 361 485.1 360 485.6 359.1 486.1 357.7 486.6 355.8 487.1 353.8 487.6 352.1 488.1 350.9 488.6 350 489.1 349.4 489.6 349.3 490.1 348.9 490.6 348.4 491.1 348.1 491.6 348.1 492.1 348.5 492.6 350.5 493.1 352.3 493.6 354 494.1 355.7 494.6 356.8 495.1 358.1 495.6 359.1 496.1 359.7 496.6 359.9 497.1 360.1 497.6 360.6 498.1 361.3 498.6 361.1 499.1 360.7 499.6 359.8 500.1 358.7 500.6 357.6 501.1 356.7 501.6 356.5 502.1 356.4 502.6 356 503.1 355.4 503.6 354.8 504.1 354.5 504.6 354.1 505.1 353.9 505.6 353.3 506.1 352.3 506.6 351 507.1 349.7 507.6 348.8 508.1 348.6 508.6 349.2 509.1 349.6 509.6 349.5 510.1 349.1 510.6 348.8 511.1 348.8 511.6 348.9 512.1 349.1 512.6 348.8 513.1 348.4 513.6 348 514.1 347.9 514.6 348.2 515.1 348.4 515.6 348.3 516.1 347.6 516.6 345.7 517.1 344 517.6 342.8 518.1 342 518.6 341.4 519.1 340.3 519.6 338.5 520.1 336.4 520.6 334.4 521.1 332.7 521.6 331.3 522.1 330 522.6 329.4 523.1 328.7 523.6 328 524.1 328.1 524.6 329.9 525.1 331.6 525.6 332.9 526.1 333.7 526.6 334.5 527.1 335.3 527.6 336.2 528.1 337.5 528.6 338.7 529.1 339.5 529.6 340 530.1 340.2 530.6 340.6 531.1 341.1 531.6 340.5 532.1 339.8 532.6 338.9 533.1 337.9 533.6 337 534.1 336.4 534.6 336 535.1 335.6 535.6 335.1 536.1 334.2 536.6 333.2 537.1 332.6 537.6 332.6 538.1 332.8 538.6 332.9 539.1 332.6 539.6 331.7 540.1 330.7 540.6 330 541.1 329.6 541.6 329.4 542.1 329.1 542.6 329 543.1 328.9 543.6 328.9 544.1 329.2 544.6 329.6 545.1 329.9 545.6 329.7 546.1 329.2 546.6 328.7 547.1 328.7 547.6 329.1 548.1 329.5 548.6 328.6 549.1 327.2 549.6 325.5 550.1 323.7 550.6 322.3 551.1 321.1 551.6 320.1 552.1 318.9 552.6 317.6 553.1 316.3 553.6 315.2 554.1 314.4 554.6 313.6 555.1 312.6 555.6 311.1 556.1 309.6 556.6 308.9 557.1 308.6 557.6 309 558.1 310.6 558.6 311.9 559.1 312.8 559.6 313.3 560.1 313.7 560.6 314.2 561.1 315 561.6 315.9 562.1 316.5 562.6 316.9 563.1 317.3 563.6 317.9 564.1 318.6 564.6 318.2 565.1 317.6 565.6 316.6 566.1 315.4 566.6 314.5 567.1 314 567.6 314 568.1 314 568.6 314 569.1 313.4 569.6 312.6 570.1 312 570.6 311.7 571.1 311.8 571.6 311.8 572.1 311.5 572.6 310.6 573.1 309.7 573.6 309 574.1 308.6 574.6 308.1 575.1 307.4 575.6 307 576.1 306.4 576.6 306.3 577.1 306.5 577.6 307.2 578.1 307.7 578.6 307.7 579.1 307.3 579.6 306.8 580.1 306.5 580.6 306.6 581.1 306.9 581.6 307.2 582.1 306.8 582.6 304.8 583.1 302.8 583.6 301.1 584.1 299.6 584.6 297.9 585.1 296.1 585.6 294.5 586.1 292.9 586.6 291.7 587.1 291 587.6 290.5 588.1 289.8 588.6 288.6 589.1 287.3 589.6 287.2 590.1 287.5 590.6 288.2 591.1 289.1 591.6 289.8 592.1 290.4 592.6 291 593.1 291.7 593.6 292.7 594.1 293.8 594.6 294.7 595.1 295.2 595.6 295.1 596.1 295.1 596.6 295.4 597.1 296.3 597.6 297.2 598.1 297.7 598.6 297 599.1 295.9 599.6 294.9 600.1 294.3 600.6 294.1 601.1 294 601.6 293.7 602.1 293.2 602.6 292.8 603.1 292.6 603.6 292.6 604.1 292.8 604.6 292.7 605.1 292.3 605.6 291.7 606.1 291.4 606.6 291.8 607.1 292.6 607.6 293.4 608.1 293.8 608.6 293.8 609.1 293.4 609.6 293.2 610.1 293.4 610.6 294.1 611.1 294.8 611.6 295.3 612.1 295.5 612.6 295.5 613.1 295.8 613.6 296.2 614.1 296.7 614.6 297 615.1 296.6 615.6 294.3 616.1 292.3 616.6 290.8 617.1 289.5 617.6 288.2 618.1 286.6 618.6 285.1 619.1 283.5 619.6 282.1 620.1 281.2 620.6 280.6 621.1 280.2 621.6 280.3 622.1 280 622.6 279.7 623.1 279.6 623.6 279.6 624.1 280 624.6 281 625.1 281.7 625.6 282.5 626.1 283.5 626.6 284.9 627.1 286.4 627.6 287.3 628.1 287.6 628.6 287.5 629.1 287.3 629.6 287.4 630.1 287.9 630.6 287.9 631.1 287.8 631.6 287.3 632.1 286.6 632.6 285.8 633.1 285.3 633.6 285 634.1 284.6 634.6 283.8 635.1 282.8 635.6 281.8 636.1 281.1 636.6 280.8 637.1 280.7 637.6 280.3 638.1 279.4 638.6 277.8 639.1 276.2 639.6 275.1 640.1 274.4 640.6 273.9 641.1 273.4 641.6 273.3 642.1 272.9 642.6 272.5 643.1 272.4 643.6 272.4 644.1 272.4 644.6 272.2 645.1 271.6 645.6 271.1 646.1 270.8 646.6 270.9 647.1 271.1 647.6 270.9 648.1 270.2 648.6 268.8 649.1 265.6 649.6 262.8 650.1 260.6 650.6 258.4 651.1 256.2 651.6 254.4 652.1 252.4 652.6 250.5 653.1 248.9 653.6 247.4 654.1 245.9 654.6 244.7 655.1 243.3 655.6 242 656.1 241.2 656.6 240.6 657.1 240.3 657.6 241.1 658.1 241.4 658.6 241.6 659.1 241.9 659.6 242.7 660.1 243.8 660.6 244 661.1 243.8 661.6 243.3 662.1 242.6 662.6 242.1 663.1 241.6 663.6 240.6 664.1 239.4 664.6 237.9 665.1 236.4 665.6 235.1 666.1 234.1 666.6 233.3 667.1 232.5 667.6 231.4 668.1 229.9 668.6 228.3 669.1 227 669.6 226.2 670.1 225.8 670.6 225.3 671.1 224.3 671.6 222.7 672.1 221 672.6 219.4 673.1 218.2 673.6 217.1 674.1 218 674.6 218.7 675.1 219.3 675.6 220.2 676.1 221.4 676.6 222.7 677.1 223.9 677.6 224.5 678.1 224.8 678.6 225 679.1 225.7 679.6 226.9 680.1 228.4 680.6 230.4 681.1 231.9 681.6 233 682.1 233.5 682.6 231.7 683.1 230.2 683.6 228.7 684.1 227.1 684.6 225.2 685.1 223.7 685.6 223.7 686.1 224.1 686.6 224.5 687.1 224.7 687.6 224.4 688.1 223.8 688.6 223.3 689.1 223.7 689.6 226.5 690.1 229.4 690.6 232.1 691.1 234.3 691.6 236.3 692.1 238 692.6 239.1 693.1 240.4 693.6 241.8 694.1 243 694.6 243.9 695.1 244.9 695.6 245.8 696.1 247.1 696.6 248.4 697.1 249.3 697.6 249.8 698.1 250 698.6 250.5 699.1 251.5 699.6 252.6 700.1 253.8 700.6 254.7 701.1 255.1 701.6 255.3 702.1 255.5 702.6 256.2 703.1 257 703.6 257.5 704.1 257.9 704.6 258.1 705.1 258.3 705.6 258.8 706.1 259.6 706.6 260.3 707.1 260.7 707.6 261 708.1 261.1 708.6 261.6 709.1 262.6 709.6 263.9 710.1 265.2 710.6 266.1 711.1 266.6 711.6 267.4 712.1 268.3 712.6 269.5 713.1 271 713.6 272.4 714.1 273.6 714.6 274.2 715.1 273.2 715.6 272.5 716.1 272 716.6 271.3 717.1 270.3 717.6 269.5 718.1 268.6 718.6 268.2 719.1 268.2 719.6 268.5 720.1 268.7 720.6 268.8 721.1 268.5 721.6 268.1 722.1 268 722.6 268.6 723.1 270.9 723.6 273 724.1 275 724.6 276.8 725.1 278.5 725.6 279.7 726.1 280.9 726.6 282 727.1 282.7 727.6 283.1 728.1 283.6 728.6 284.5 729.1 285.8 729.6 286.7 730.1 287.3 730.6 287.4 731.1 287.2 731.6 287 732.1 286.9 732.6 286.6 733.1 286.4 733.6 286.1 734.1 285.5 734.6 284.8 735.1 284.3 735.6 283.9 736.1 283.6 736.6 283.1 737.1 282.2 737.6 281.1 738.1 280.1 738.6 279.6 739.1 279.5 739.6 279.5 740.1 279.3 740.6 279.1 741.1 278.7 741.6 278.3 742.1 278.3 742.6 278.7 743.1 279.1 743.6 279.5 744.1 279.5 744.6 279.6 745.1 279.8 745.6 280.3 746.1 280.7 746.6 280.6 747.1 279 747.6 277.3 748.1 275.8 748.6 274.7 749.1 274.1 749.6 273.3 750.1 272 750.6 270.1 751.1 268 751.6 266.1 752.1 264.7 752.6 263.8 753.1 263.8 753.6 263.6 754.1 263.2 754.6 262.7 755.1 262.5 755.6 262.4 756.1 262.6 756.6 263.7 757.1 264.5 757.6 265.2 758.1 266.2 758.6 267.7 759.1 269.4 759.6 270.6 760.1 271.4 760.6 271.7 761.1 271.8 761.6 272.3 762.1 272.9 762.6 272.8 763.1 272.6 763.6 272.2 764.1 271.5 764.6 270.8 765.1 270.4 765.6 270.1 766.1 269.8 766.6 269.6 767.1 269.2 767.6 268.7 768.1 268.6 768.6 269 769.1 269.5 769.6 269.8 770.1 269.5 770.6 268.4 771.1 267.3 771.6 266.5 772.1 266.2 772.6 266 773.1 265.8 773.6 265.3 774.1 265 774.6 264.7 775.1 264.8 775.6 264.9 776.1 264.9 776.6 264.7 777.1 264.2 777.6 264.1 778.1 264.4 778.6 265.1 779.1 265.9 779.6 266.4 780.1 266.4 780.6 265.6 781.1 263.5 781.6 261.8 782.1 260.5 782.6 259.4 783.1 258.2 783.6 257.3 784.1 256.3 784.6 255.3 785.1 254.6 785.6 254.2 786.1 254.3 786.6 254 787.1 253.6 787.6 253.4 788.1 253.6 788.6 254.1 789.1 254.9 789.6 256.4 790.1 257.3 790.6 258 791.1 258.9 791.6 260.3 792.1 261.9 792.6 263.3 793.1 264.5 793.6 265.3 794.1 265.9 794.6 266.7 795.1 267.7 795.6 268.7 796.1 268.5 796.6 268.1 797.1 267.5 797.6 267.2 798.1 267.3 798.6 267.7 799.1 268 799.6 267.9 800.1 267.3 800.6 266.8 801.1 266.7 801.6 267 802.1 267.7 802.6 268.3 803.1 268.6 803.6 268.6 804.1 268.5 804.6 268.4 805.1 268.5 805.6 268.7 806.1 268.6 806.6 268.4 807.1 268 807.6 268 808.1 268.4 808.6 268.9 809.1 269.3 809.6 269.7 810.1 269.6 810.6 269.4 811.1 269.6 811.6 270.3 812.1 271.3 812.6 272.1 813.1 272.6 813.6 272.3 814.1 270.2 814.6 268.3 815.1 266.6 815.6 264.9 816.1 263.1 816.6 261.1 817.1 260 817.6 259.1 818.1 258.6 818.6 258.2 819.1 257.8 819.6 257.5 820.1 256.9 820.6 256.4 821.1 256.2 821.6 256.6 822.1 257.5 822.6 259.3 823.1 260.8 823.6 261.9 824.1 263.1 824.6 264.6 825.1 266.2 825.6 267.3 826.1 268.2 826.6 269 827.1 269.8 827.6 270.9 828.1 272.3 828.6 273.8 829.1 274.7 829.6 274.1 830.1 273.2 830.6 272.5 831.1 272.2 831.6 272.5 832.1 272.8 832.6 272.8 833.1 272.4 833.6 271.8 834.1 271.2 834.6 271 835.1 270.9 835.6 270.8 836.1 270.5 836.6 269.9 837.1 269.7 837.6 270.1 838.1 270.8 838.6 271.4 839.1 271.7 839.6 271.5 840.1 271.1 840.6 271 841.1 271.4 841.6 272.3 842.1 273.2 842.6 273.7 843.1 273.8 843.6 273.7 844.1 273.8 844.6 274.4 845.1 275.1 845.6 275.7 846.1 276.1 846.6 276.3 847.1 276.3 847.6 274.8 848.1 273.5 848.6 272.1 849.1 270.2 849.6 267.9 850.1 265.8 850.6 264.6 851.1 264 851.6 263.6 852.1 263.2 852.6 262.4 853.1 261.3 853.6 260.9 854.1 260.7 854.6 260.8 855.1 261 855.6 261.1 856.1 261.3 856.6 262.5 857.1 264 857.6 265.8 858.1 267.7 858.6 269.4 859.1 270.6 859.6 271.1 860.1 271.7 860.6 272.6 861.1 274.1 861.6 275.8 862.1 277.2 862.6 278.3 863.1 278.6 863.6 277.7 864.1 277.2 864.6 276.9 865.1 276.7 865.6 276.3 866.1 275.7 866.6 275.1 867.1 274.8 867.6 275.3 868.1 275.8 868.6 276 869.1 275.8 869.6 275.4 870.1 275 870.6 275.2 871.1 275.8 871.6 276.2 872.1 276.4 872.6 276.2 873.1 275.6 873.6 275 874.1 274.8 874.6 274.9 875.1 275.2 875.6 275.7 876.1 276 876.6 276.4 877.1 277 877.6 277.8 878.1 278.6 878.6 279.3 879.1 279.5 879.6 279.6 880.1 279.9 880.6 279.6 881.1 278.3 881.6 276.9 882.1 275.2 882.6 273 883.1 270.8 883.6 269.4 884.1 268.4 884.6 267.6 885.1 266.9 885.6 265.9 886.1 264.9 886.6 264.6 887.1 264.6 887.6 264.7 888.1 264.8 888.6 264.6 889.1 264.3 889.6 265.1 890.1 266.2 890.6 267.8 891.1 269.7 891.6 271.6 892.1 273 892.6 274 893.1 274.8 893.6 275.8 894.1 277.2 894.6 278.8 895.1 280.1 895.6 279.8 896.1 279.4 896.6 279 897.1 278.9 897.6 279 898.1 278.9 898.6 278.5 899.1 277.9 899.6 277.5 900.1 277.5 900.6 278.1 901.1 278.8 901.6 279.4 902.1 279.5 902.6 279.1 903.1 278.7 903.6 278.4 904.1 278.6 904.6 279 905.1 279.2 905.6 279.2 906.1 279 906.6 278.9 907.1 279.1 907.6 279.8 908.1 280.3 908.6 280.4 909.1 280.3 909.6 280.3 910.1 280.7 910.6 281.5 911.1 282.6 911.6 283.5 912.1 284 912.6 284.1 913.1 284.2 913.6 283.6 914.1 282 914.6 280.4 915.1 278.7 915.6 276.7 916.1 274.8 916.6 273.7 917.1 272.9 917.6 272.1 918.1 271.2 918.6 269.9 919.1 268.6 919.6 268.3 920.1 268.5 920.6 269 921.1 269.6 921.6 269.8 922.1 269.8 922.6 270.7 923.1 271.8 923.6 273.2 924.1 275 924.6 276.9 925.1 278.5 925.6 279.2 926.1 279.9 926.6 280.7 927.1 281.8 927.6 282.9 928.1 283.7 928.6 284.3 929.1 284.5 929.6 283.9 930.1 283.8 930.6 284.1 931.1 284.3 931.6 284 932.1 283.4 932.6 283 933.1 282.7 933.6 283 934.1 283.5 934.6 284.1 935.1 284.2 935.6 283.7 936.1 283 936.6 282.6 937.1 282.4 937.6 282.1 L938.3 284 938.4 284.3 938.5 284.7 938.6 285 938.7 285.3 938.8 285.6 938.8 286 938.9 284.2 939 284.5 939.1 284.8 939.2 285.2 939.3 285.5 939.4 285.8 939.5 286.2 939.6 284.4 939.7 284.7 939.7 285 939.8 285.4 939.9 285.7 940 286 940.1 286.3 940.2 284.6 940.3 284.9 940.4 285.2 940.5 285.5 940.6 285.9 940.6 286.2 940.7 286.5 940.8 284.8 940.9 285.1 941 285.4 941.1 285.7 941.2 286.1 941.3 286.4 941.4 286.7 941.5 284.9 941.5 285.3 941.6 285.6 941.7 285.9 941.8 286.3 941.9 297.6 942 297.9 942.1 285.1 942.2 285.5 942.3 285.8 942.4 286.1 942.4 286.4 942.5 297.8 942.6 298.1 942.7 285.3 942.8 285.7 942.9 286 943 286.3 943.1 286.6 943.2 298 943.3 298.3 943.3 285.5 943.4 285.8 943.5 286.2 943.6 286.5 943.7 286.8 943.8 298.1 943.9 298.5 944 285.7 944.1 286 944.2 286.4 944.2 286.7" stroke="#0072B2" stroke-width="2.08" stroke-linejoin="round" fill="none" transform="translate(0 0.45)"/>
<path d="M940 285.2h0M939.9 285.6h0M940 286.2h0M939.7 287.2h0M940.3 287.8h0M940.5 289.4h0M940.7 289.7h0M940.8 290.5h0M941.1 291.7h0M941.2 293.1h0M941.2 293.6h0M941.9 294.1h0M942.1 295.1h0" stroke="#f00" stroke-width="5.75" stroke-linecap="round" fill="none"/>
</g>
<rect x="80.5" y="17.5" width="905.0" height="525.0" fill="none" stroke="#000" stroke-width="1.11"/>
<path d="M81.5 542.5v5.3M213.5 542.5v5.3M345.5 542.5v5.3M478.5 542.5v5.3M610.5 542.5v5.3M742.5 542.5v5.3M874.5 542.5v5.3M80.5 509.5h-5.3M80.5 440.5h-5.3M80.5 370.5h-5.3M80.5 300.5h-5.3M80.5 230.5h-5.3M80.5 160.5h-5.3M80.5 91.5h-5.3M80.5 21.5h-5.3" stroke="#000" stroke-width="1.11" fill="none"/>
<g class="tx">
<text x="80.6" y="562.1" font-size="14.4" text-anchor="middle" textLength="34.6" lengthAdjust="spacingAndGlyphs">2000</text>
<text x="212.6" y="562.1" font-size="14.4" text-anchor="middle" textLength="34.6" lengthAdjust="spacingAndGlyphs">2004</text>
<text x="344.6" y="562.1" font-size="14.4" text-anchor="middle" textLength="34.6" lengthAdjust="spacingAndGlyphs">2008</text>
<text x="477.6" y="562.1" font-size="14.4" text-anchor="middle" textLength="34.6" lengthAdjust="spacingAndGlyphs">2012</text>
<text x="609.6" y="562.1" font-size="14.4" text-anchor="middle" textLength="34.6" lengthAdjust="spacingAndGlyphs">2016</text>
<text x="741.6" y="562.1" font-size="14.4" text-anchor="middle" textLength="34.6" lengthAdjust="spacingAndGlyphs">2020</text>
<text x="873.6" y="562.1" font-size="14.4" text-anchor="middle" textLength="34.6" lengthAdjust="spacingAndGlyphs">2024</text>
<text x="69.1" y="514.3" font-size="14.4" text-anchor="end" textLength="24.9" lengthAdjust="spacingAndGlyphs">200</text>
<text x="69.1" y="445.3" font-size="14.4" text-anchor="end" textLength="24.9" lengthAdjust="spacingAndGlyphs">400</text>
<text x="69.1" y="375.3" font-size="14.4" text-anchor="end" textLength="24.9" lengthAdjust="spacingAndGlyphs">600</text>
<text x="69.1" y="305.3" font-size="14.4" text-anchor="end" textLength="24.9" lengthAdjust="spacingAndGlyphs">800</text>
<text x="69.1" y="235.3" font-size="14.4" text-anchor="end" textLength="33.2" lengthAdjust="spacingAndGlyphs">1000</text>
<text x="69.1" y="165.3" font-size="14.4" text-anchor="end" textLength="33.2" lengthAdjust="spacingAndGlyphs">1200</text>
<text x="69.1" y="96.3" font-size="14.4" text-anchor="end" textLength="33.2" lengthAdjust="spacingAndGlyphs">1400</text>
<text x="69.1" y="26.3" font-size="14.4" text-anchor="end" textLength="33.2" lengthAdjust="spacingAndGlyphs">1600</text>
<text x="532.5" y="581.8" font-size="14" text-anchor="middle">ds</text>
<text transform="translate(24.5 280.8) rotate(-90)" font-size="15.2" text-anchor="middle">y</text>
</g>
</svg></body></html>
